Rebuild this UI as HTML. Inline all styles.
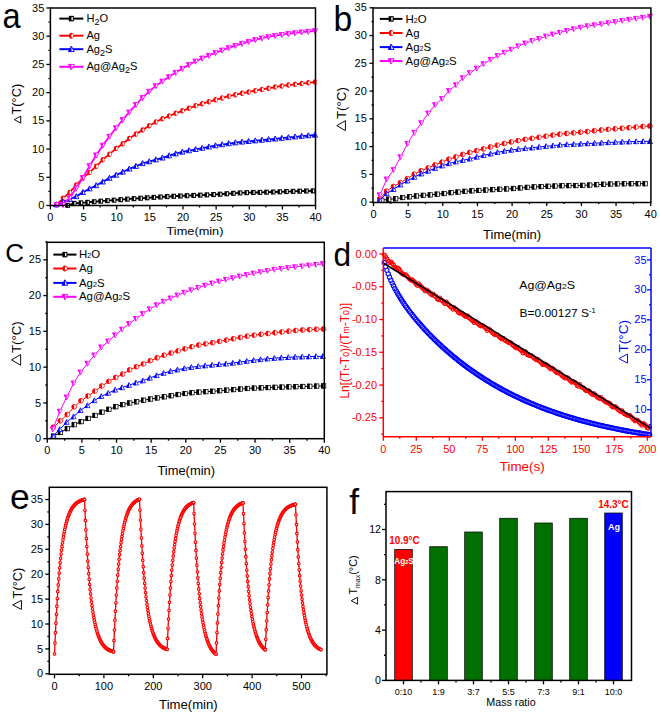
<!DOCTYPE html>
<html><head><meta charset="utf-8"><style>
html,body{margin:0;padding:0;background:#fff;}
svg{display:block;}
text{font-family:"Liberation Sans", sans-serif;}
</style></head><body>
<svg width="660" height="716" viewBox="0 0 660 716" font-family='"Liberation Sans", sans-serif'>
<rect width="660" height="716" fill="#fff"/>
<polyline points="67.64,205.37 74.27,203.40 80.90,202.85 87.53,202.35 94.16,201.75 100.79,201.15 107.42,200.64 114.05,200.17 120.68,199.67 127.31,199.15 133.94,198.69 140.57,198.24 147.20,197.80 153.83,197.38 160.46,196.98 167.09,196.61 173.72,196.27 180.35,195.97 186.98,195.68 193.61,195.41 200.24,195.14 206.87,194.86 213.50,194.55 220.13,194.19 226.76,193.75 233.39,193.29 240.02,192.91 246.65,192.67 253.28,192.50 259.91,192.35 266.54,192.20 273.17,192.01 279.80,191.79 286.43,191.56 293.06,191.35 299.69,191.18 306.32,191.02 312.95,190.88" fill="none" stroke="#000000" stroke-width="1.8" stroke-linejoin="round"/>
<rect x="65.34" y="202.84" width="4.60" height="5.06" fill="#000000"/>
<rect x="67.75" y="203.88" width="1.26" height="2.99" fill="#fff"/>
<rect x="71.97" y="200.87" width="4.60" height="5.06" fill="#000000"/>
<rect x="74.38" y="201.91" width="1.26" height="2.99" fill="#fff"/>
<rect x="78.60" y="200.32" width="4.60" height="5.06" fill="#000000"/>
<rect x="81.01" y="201.35" width="1.26" height="2.99" fill="#fff"/>
<rect x="85.23" y="199.82" width="4.60" height="5.06" fill="#000000"/>
<rect x="87.64" y="200.86" width="1.26" height="2.99" fill="#fff"/>
<rect x="91.86" y="199.22" width="4.60" height="5.06" fill="#000000"/>
<rect x="94.27" y="200.25" width="1.26" height="2.99" fill="#fff"/>
<rect x="98.49" y="198.62" width="4.60" height="5.06" fill="#000000"/>
<rect x="100.90" y="199.65" width="1.26" height="2.99" fill="#fff"/>
<rect x="105.12" y="198.11" width="4.60" height="5.06" fill="#000000"/>
<rect x="107.53" y="199.14" width="1.26" height="2.99" fill="#fff"/>
<rect x="111.75" y="197.64" width="4.60" height="5.06" fill="#000000"/>
<rect x="114.16" y="198.68" width="1.26" height="2.99" fill="#fff"/>
<rect x="118.38" y="197.14" width="4.60" height="5.06" fill="#000000"/>
<rect x="120.79" y="198.17" width="1.26" height="2.99" fill="#fff"/>
<rect x="125.01" y="196.62" width="4.60" height="5.06" fill="#000000"/>
<rect x="127.42" y="197.66" width="1.26" height="2.99" fill="#fff"/>
<rect x="131.64" y="196.16" width="4.60" height="5.06" fill="#000000"/>
<rect x="134.05" y="197.19" width="1.26" height="2.99" fill="#fff"/>
<rect x="138.27" y="195.71" width="4.60" height="5.06" fill="#000000"/>
<rect x="140.68" y="196.74" width="1.26" height="2.99" fill="#fff"/>
<rect x="144.90" y="195.27" width="4.60" height="5.06" fill="#000000"/>
<rect x="147.31" y="196.30" width="1.26" height="2.99" fill="#fff"/>
<rect x="151.53" y="194.85" width="4.60" height="5.06" fill="#000000"/>
<rect x="153.94" y="195.89" width="1.26" height="2.99" fill="#fff"/>
<rect x="158.16" y="194.45" width="4.60" height="5.06" fill="#000000"/>
<rect x="160.57" y="195.49" width="1.26" height="2.99" fill="#fff"/>
<rect x="164.79" y="194.08" width="4.60" height="5.06" fill="#000000"/>
<rect x="167.20" y="195.12" width="1.26" height="2.99" fill="#fff"/>
<rect x="171.42" y="193.74" width="4.60" height="5.06" fill="#000000"/>
<rect x="173.83" y="194.78" width="1.26" height="2.99" fill="#fff"/>
<rect x="178.05" y="193.44" width="4.60" height="5.06" fill="#000000"/>
<rect x="180.46" y="194.47" width="1.26" height="2.99" fill="#fff"/>
<rect x="184.68" y="193.15" width="4.60" height="5.06" fill="#000000"/>
<rect x="187.09" y="194.19" width="1.26" height="2.99" fill="#fff"/>
<rect x="191.31" y="192.88" width="4.60" height="5.06" fill="#000000"/>
<rect x="193.72" y="193.92" width="1.26" height="2.99" fill="#fff"/>
<rect x="197.94" y="192.61" width="4.60" height="5.06" fill="#000000"/>
<rect x="200.35" y="193.65" width="1.26" height="2.99" fill="#fff"/>
<rect x="204.57" y="192.33" width="4.60" height="5.06" fill="#000000"/>
<rect x="206.98" y="193.37" width="1.26" height="2.99" fill="#fff"/>
<rect x="211.20" y="192.02" width="4.60" height="5.06" fill="#000000"/>
<rect x="213.61" y="193.06" width="1.26" height="2.99" fill="#fff"/>
<rect x="217.83" y="191.66" width="4.60" height="5.06" fill="#000000"/>
<rect x="220.24" y="192.70" width="1.26" height="2.99" fill="#fff"/>
<rect x="224.46" y="191.22" width="4.60" height="5.06" fill="#000000"/>
<rect x="226.87" y="192.26" width="1.26" height="2.99" fill="#fff"/>
<rect x="231.09" y="190.76" width="4.60" height="5.06" fill="#000000"/>
<rect x="233.50" y="191.80" width="1.26" height="2.99" fill="#fff"/>
<rect x="237.72" y="190.38" width="4.60" height="5.06" fill="#000000"/>
<rect x="240.13" y="191.42" width="1.26" height="2.99" fill="#fff"/>
<rect x="244.35" y="190.14" width="4.60" height="5.06" fill="#000000"/>
<rect x="246.76" y="191.18" width="1.26" height="2.99" fill="#fff"/>
<rect x="250.98" y="189.97" width="4.60" height="5.06" fill="#000000"/>
<rect x="253.39" y="191.00" width="1.26" height="2.99" fill="#fff"/>
<rect x="257.61" y="189.82" width="4.60" height="5.06" fill="#000000"/>
<rect x="260.02" y="190.86" width="1.26" height="2.99" fill="#fff"/>
<rect x="264.24" y="189.67" width="4.60" height="5.06" fill="#000000"/>
<rect x="266.65" y="190.70" width="1.26" height="2.99" fill="#fff"/>
<rect x="270.87" y="189.48" width="4.60" height="5.06" fill="#000000"/>
<rect x="273.28" y="190.51" width="1.26" height="2.99" fill="#fff"/>
<rect x="277.50" y="189.26" width="4.60" height="5.06" fill="#000000"/>
<rect x="279.91" y="190.29" width="1.26" height="2.99" fill="#fff"/>
<rect x="284.13" y="189.03" width="4.60" height="5.06" fill="#000000"/>
<rect x="286.54" y="190.07" width="1.26" height="2.99" fill="#fff"/>
<rect x="290.76" y="188.82" width="4.60" height="5.06" fill="#000000"/>
<rect x="293.17" y="189.86" width="1.26" height="2.99" fill="#fff"/>
<rect x="297.39" y="188.65" width="4.60" height="5.06" fill="#000000"/>
<rect x="299.80" y="189.68" width="1.26" height="2.99" fill="#fff"/>
<rect x="304.02" y="188.49" width="4.60" height="5.06" fill="#000000"/>
<rect x="306.43" y="189.53" width="1.26" height="2.99" fill="#fff"/>
<rect x="310.65" y="188.35" width="4.60" height="5.06" fill="#000000"/>
<rect x="313.06" y="189.38" width="1.26" height="2.99" fill="#fff"/>
<polyline points="56.37,204.80 63.00,198.32 69.63,192.39 76.26,185.04 82.89,178.13 89.52,172.40 96.15,166.29 102.78,159.84 109.41,154.14 116.04,148.59 122.67,143.70 129.30,138.55 135.93,134.12 142.56,130.02 149.19,125.78 155.82,121.93 162.45,118.81 169.08,116.00 175.71,113.35 182.34,110.83 188.97,108.28 195.60,105.85 202.23,103.69 208.86,101.70 215.49,99.77 222.12,97.90 228.75,96.19 235.38,94.70 242.01,93.34 248.64,91.98 255.27,90.67 261.90,89.43 268.53,88.25 275.16,87.06 281.79,85.97 288.42,85.10 295.05,84.34 301.68,83.55 308.31,82.77 314.94,82.00" fill="none" stroke="#ff0000" stroke-width="1.8" stroke-linejoin="round"/>
<ellipse cx="56.37" cy="204.80" rx="2.18" ry="2.76" fill="#ff0000"/>
<ellipse cx="57.23" cy="204.80" rx="0.92" ry="1.84" fill="#fff"/>
<ellipse cx="63.00" cy="198.32" rx="2.18" ry="2.76" fill="#ff0000"/>
<ellipse cx="63.86" cy="198.32" rx="0.92" ry="1.84" fill="#fff"/>
<ellipse cx="69.63" cy="192.39" rx="2.18" ry="2.76" fill="#ff0000"/>
<ellipse cx="70.49" cy="192.39" rx="0.92" ry="1.84" fill="#fff"/>
<ellipse cx="76.26" cy="185.04" rx="2.18" ry="2.76" fill="#ff0000"/>
<ellipse cx="77.12" cy="185.04" rx="0.92" ry="1.84" fill="#fff"/>
<ellipse cx="82.89" cy="178.13" rx="2.18" ry="2.76" fill="#ff0000"/>
<ellipse cx="83.75" cy="178.13" rx="0.92" ry="1.84" fill="#fff"/>
<ellipse cx="89.52" cy="172.40" rx="2.18" ry="2.76" fill="#ff0000"/>
<ellipse cx="90.38" cy="172.40" rx="0.92" ry="1.84" fill="#fff"/>
<ellipse cx="96.15" cy="166.29" rx="2.18" ry="2.76" fill="#ff0000"/>
<ellipse cx="97.01" cy="166.29" rx="0.92" ry="1.84" fill="#fff"/>
<ellipse cx="102.78" cy="159.84" rx="2.18" ry="2.76" fill="#ff0000"/>
<ellipse cx="103.64" cy="159.84" rx="0.92" ry="1.84" fill="#fff"/>
<ellipse cx="109.41" cy="154.14" rx="2.18" ry="2.76" fill="#ff0000"/>
<ellipse cx="110.27" cy="154.14" rx="0.92" ry="1.84" fill="#fff"/>
<ellipse cx="116.04" cy="148.59" rx="2.18" ry="2.76" fill="#ff0000"/>
<ellipse cx="116.90" cy="148.59" rx="0.92" ry="1.84" fill="#fff"/>
<ellipse cx="122.67" cy="143.70" rx="2.18" ry="2.76" fill="#ff0000"/>
<ellipse cx="123.53" cy="143.70" rx="0.92" ry="1.84" fill="#fff"/>
<ellipse cx="129.30" cy="138.55" rx="2.18" ry="2.76" fill="#ff0000"/>
<ellipse cx="130.16" cy="138.55" rx="0.92" ry="1.84" fill="#fff"/>
<ellipse cx="135.93" cy="134.12" rx="2.18" ry="2.76" fill="#ff0000"/>
<ellipse cx="136.79" cy="134.12" rx="0.92" ry="1.84" fill="#fff"/>
<ellipse cx="142.56" cy="130.02" rx="2.18" ry="2.76" fill="#ff0000"/>
<ellipse cx="143.42" cy="130.02" rx="0.92" ry="1.84" fill="#fff"/>
<ellipse cx="149.19" cy="125.78" rx="2.18" ry="2.76" fill="#ff0000"/>
<ellipse cx="150.05" cy="125.78" rx="0.92" ry="1.84" fill="#fff"/>
<ellipse cx="155.82" cy="121.93" rx="2.18" ry="2.76" fill="#ff0000"/>
<ellipse cx="156.68" cy="121.93" rx="0.92" ry="1.84" fill="#fff"/>
<ellipse cx="162.45" cy="118.81" rx="2.18" ry="2.76" fill="#ff0000"/>
<ellipse cx="163.31" cy="118.81" rx="0.92" ry="1.84" fill="#fff"/>
<ellipse cx="169.08" cy="116.00" rx="2.18" ry="2.76" fill="#ff0000"/>
<ellipse cx="169.94" cy="116.00" rx="0.92" ry="1.84" fill="#fff"/>
<ellipse cx="175.71" cy="113.35" rx="2.18" ry="2.76" fill="#ff0000"/>
<ellipse cx="176.57" cy="113.35" rx="0.92" ry="1.84" fill="#fff"/>
<ellipse cx="182.34" cy="110.83" rx="2.18" ry="2.76" fill="#ff0000"/>
<ellipse cx="183.20" cy="110.83" rx="0.92" ry="1.84" fill="#fff"/>
<ellipse cx="188.97" cy="108.28" rx="2.18" ry="2.76" fill="#ff0000"/>
<ellipse cx="189.83" cy="108.28" rx="0.92" ry="1.84" fill="#fff"/>
<ellipse cx="195.60" cy="105.85" rx="2.18" ry="2.76" fill="#ff0000"/>
<ellipse cx="196.46" cy="105.85" rx="0.92" ry="1.84" fill="#fff"/>
<ellipse cx="202.23" cy="103.69" rx="2.18" ry="2.76" fill="#ff0000"/>
<ellipse cx="203.09" cy="103.69" rx="0.92" ry="1.84" fill="#fff"/>
<ellipse cx="208.86" cy="101.70" rx="2.18" ry="2.76" fill="#ff0000"/>
<ellipse cx="209.72" cy="101.70" rx="0.92" ry="1.84" fill="#fff"/>
<ellipse cx="215.49" cy="99.77" rx="2.18" ry="2.76" fill="#ff0000"/>
<ellipse cx="216.35" cy="99.77" rx="0.92" ry="1.84" fill="#fff"/>
<ellipse cx="222.12" cy="97.90" rx="2.18" ry="2.76" fill="#ff0000"/>
<ellipse cx="222.98" cy="97.90" rx="0.92" ry="1.84" fill="#fff"/>
<ellipse cx="228.75" cy="96.19" rx="2.18" ry="2.76" fill="#ff0000"/>
<ellipse cx="229.61" cy="96.19" rx="0.92" ry="1.84" fill="#fff"/>
<ellipse cx="235.38" cy="94.70" rx="2.18" ry="2.76" fill="#ff0000"/>
<ellipse cx="236.24" cy="94.70" rx="0.92" ry="1.84" fill="#fff"/>
<ellipse cx="242.01" cy="93.34" rx="2.18" ry="2.76" fill="#ff0000"/>
<ellipse cx="242.87" cy="93.34" rx="0.92" ry="1.84" fill="#fff"/>
<ellipse cx="248.64" cy="91.98" rx="2.18" ry="2.76" fill="#ff0000"/>
<ellipse cx="249.50" cy="91.98" rx="0.92" ry="1.84" fill="#fff"/>
<ellipse cx="255.27" cy="90.67" rx="2.18" ry="2.76" fill="#ff0000"/>
<ellipse cx="256.13" cy="90.67" rx="0.92" ry="1.84" fill="#fff"/>
<ellipse cx="261.90" cy="89.43" rx="2.18" ry="2.76" fill="#ff0000"/>
<ellipse cx="262.76" cy="89.43" rx="0.92" ry="1.84" fill="#fff"/>
<ellipse cx="268.53" cy="88.25" rx="2.18" ry="2.76" fill="#ff0000"/>
<ellipse cx="269.39" cy="88.25" rx="0.92" ry="1.84" fill="#fff"/>
<ellipse cx="275.16" cy="87.06" rx="2.18" ry="2.76" fill="#ff0000"/>
<ellipse cx="276.02" cy="87.06" rx="0.92" ry="1.84" fill="#fff"/>
<ellipse cx="281.79" cy="85.97" rx="2.18" ry="2.76" fill="#ff0000"/>
<ellipse cx="282.65" cy="85.97" rx="0.92" ry="1.84" fill="#fff"/>
<ellipse cx="288.42" cy="85.10" rx="2.18" ry="2.76" fill="#ff0000"/>
<ellipse cx="289.28" cy="85.10" rx="0.92" ry="1.84" fill="#fff"/>
<ellipse cx="295.05" cy="84.34" rx="2.18" ry="2.76" fill="#ff0000"/>
<ellipse cx="295.91" cy="84.34" rx="0.92" ry="1.84" fill="#fff"/>
<ellipse cx="301.68" cy="83.55" rx="2.18" ry="2.76" fill="#ff0000"/>
<ellipse cx="302.54" cy="83.55" rx="0.92" ry="1.84" fill="#fff"/>
<ellipse cx="308.31" cy="82.77" rx="2.18" ry="2.76" fill="#ff0000"/>
<ellipse cx="309.17" cy="82.77" rx="0.92" ry="1.84" fill="#fff"/>
<ellipse cx="314.94" cy="82.00" rx="2.18" ry="2.76" fill="#ff0000"/>
<ellipse cx="315.80" cy="82.00" rx="0.92" ry="1.84" fill="#fff"/>
<polyline points="56.37,204.64 63.00,201.82 69.63,199.28 76.26,196.47 82.89,192.29 89.52,188.71 96.15,185.54 102.78,181.81 109.41,178.16 116.04,175.06 122.67,171.95 129.30,168.88 135.93,166.23 142.56,163.41 149.19,161.61 155.82,159.70 162.45,157.90 169.08,155.71 175.71,153.72 182.34,151.97 188.97,150.56 195.60,149.31 202.23,148.04 208.86,146.79 215.49,145.62 222.12,144.55 228.75,143.54 235.38,142.66 242.01,141.94 248.64,141.31 255.27,140.70 261.90,140.09 268.53,139.49 275.16,138.87 281.79,138.19 288.42,137.47 295.05,136.79 301.68,136.16 308.31,135.57 314.94,135.02" fill="none" stroke="#0000ff" stroke-width="1.8" stroke-linejoin="round"/>
<path d="M56.37,201.76 L59.01,206.82 L53.72,206.82 Z" fill="#fff" stroke="#0000ff" stroke-width="0.86" stroke-linejoin="round"/>
<path d="M56.37,201.76 L56.54,206.82 L53.72,206.82 Z" fill="#0000ff"/>
<path d="M63.00,198.94 L65.64,204.00 L60.35,204.00 Z" fill="#fff" stroke="#0000ff" stroke-width="0.86" stroke-linejoin="round"/>
<path d="M63.00,198.94 L63.17,204.00 L60.35,204.00 Z" fill="#0000ff"/>
<path d="M69.63,196.40 L72.27,201.46 L66.98,201.46 Z" fill="#fff" stroke="#0000ff" stroke-width="0.86" stroke-linejoin="round"/>
<path d="M69.63,196.40 L69.80,201.46 L66.98,201.46 Z" fill="#0000ff"/>
<path d="M76.26,193.60 L78.90,198.66 L73.61,198.66 Z" fill="#fff" stroke="#0000ff" stroke-width="0.86" stroke-linejoin="round"/>
<path d="M76.26,193.60 L76.43,198.66 L73.61,198.66 Z" fill="#0000ff"/>
<path d="M82.89,189.41 L85.53,194.47 L80.24,194.47 Z" fill="#fff" stroke="#0000ff" stroke-width="0.86" stroke-linejoin="round"/>
<path d="M82.89,189.41 L83.06,194.47 L80.24,194.47 Z" fill="#0000ff"/>
<path d="M89.52,185.84 L92.16,190.90 L86.87,190.90 Z" fill="#fff" stroke="#0000ff" stroke-width="0.86" stroke-linejoin="round"/>
<path d="M89.52,185.84 L89.69,190.90 L86.87,190.90 Z" fill="#0000ff"/>
<path d="M96.15,182.67 L98.79,187.73 L93.50,187.73 Z" fill="#fff" stroke="#0000ff" stroke-width="0.86" stroke-linejoin="round"/>
<path d="M96.15,182.67 L96.32,187.73 L93.50,187.73 Z" fill="#0000ff"/>
<path d="M102.78,178.93 L105.42,183.99 L100.13,183.99 Z" fill="#fff" stroke="#0000ff" stroke-width="0.86" stroke-linejoin="round"/>
<path d="M102.78,178.93 L102.95,183.99 L100.13,183.99 Z" fill="#0000ff"/>
<path d="M109.41,175.28 L112.05,180.34 L106.76,180.34 Z" fill="#fff" stroke="#0000ff" stroke-width="0.86" stroke-linejoin="round"/>
<path d="M109.41,175.28 L109.58,180.34 L106.76,180.34 Z" fill="#0000ff"/>
<path d="M116.04,172.19 L118.68,177.25 L113.39,177.25 Z" fill="#fff" stroke="#0000ff" stroke-width="0.86" stroke-linejoin="round"/>
<path d="M116.04,172.19 L116.21,177.25 L113.39,177.25 Z" fill="#0000ff"/>
<path d="M122.67,169.08 L125.31,174.14 L120.02,174.14 Z" fill="#fff" stroke="#0000ff" stroke-width="0.86" stroke-linejoin="round"/>
<path d="M122.67,169.08 L122.84,174.14 L120.02,174.14 Z" fill="#0000ff"/>
<path d="M129.30,166.01 L131.94,171.07 L126.65,171.07 Z" fill="#fff" stroke="#0000ff" stroke-width="0.86" stroke-linejoin="round"/>
<path d="M129.30,166.01 L129.47,171.07 L126.65,171.07 Z" fill="#0000ff"/>
<path d="M135.93,163.36 L138.57,168.42 L133.28,168.42 Z" fill="#fff" stroke="#0000ff" stroke-width="0.86" stroke-linejoin="round"/>
<path d="M135.93,163.36 L136.10,168.42 L133.28,168.42 Z" fill="#0000ff"/>
<path d="M142.56,160.53 L145.20,165.59 L139.91,165.59 Z" fill="#fff" stroke="#0000ff" stroke-width="0.86" stroke-linejoin="round"/>
<path d="M142.56,160.53 L142.73,165.59 L139.91,165.59 Z" fill="#0000ff"/>
<path d="M149.19,158.73 L151.83,163.79 L146.54,163.79 Z" fill="#fff" stroke="#0000ff" stroke-width="0.86" stroke-linejoin="round"/>
<path d="M149.19,158.73 L149.36,163.79 L146.54,163.79 Z" fill="#0000ff"/>
<path d="M155.82,156.82 L158.46,161.88 L153.17,161.88 Z" fill="#fff" stroke="#0000ff" stroke-width="0.86" stroke-linejoin="round"/>
<path d="M155.82,156.82 L155.99,161.88 L153.17,161.88 Z" fill="#0000ff"/>
<path d="M162.45,155.02 L165.09,160.08 L159.80,160.08 Z" fill="#fff" stroke="#0000ff" stroke-width="0.86" stroke-linejoin="round"/>
<path d="M162.45,155.02 L162.62,160.08 L159.80,160.08 Z" fill="#0000ff"/>
<path d="M169.08,152.84 L171.72,157.90 L166.43,157.90 Z" fill="#fff" stroke="#0000ff" stroke-width="0.86" stroke-linejoin="round"/>
<path d="M169.08,152.84 L169.25,157.90 L166.43,157.90 Z" fill="#0000ff"/>
<path d="M175.71,150.85 L178.35,155.91 L173.06,155.91 Z" fill="#fff" stroke="#0000ff" stroke-width="0.86" stroke-linejoin="round"/>
<path d="M175.71,150.85 L175.88,155.91 L173.06,155.91 Z" fill="#0000ff"/>
<path d="M182.34,149.10 L184.98,154.16 L179.69,154.16 Z" fill="#fff" stroke="#0000ff" stroke-width="0.86" stroke-linejoin="round"/>
<path d="M182.34,149.10 L182.51,154.16 L179.69,154.16 Z" fill="#0000ff"/>
<path d="M188.97,147.69 L191.61,152.75 L186.32,152.75 Z" fill="#fff" stroke="#0000ff" stroke-width="0.86" stroke-linejoin="round"/>
<path d="M188.97,147.69 L189.14,152.75 L186.32,152.75 Z" fill="#0000ff"/>
<path d="M195.60,146.44 L198.24,151.50 L192.95,151.50 Z" fill="#fff" stroke="#0000ff" stroke-width="0.86" stroke-linejoin="round"/>
<path d="M195.60,146.44 L195.77,151.50 L192.95,151.50 Z" fill="#0000ff"/>
<path d="M202.23,145.16 L204.87,150.22 L199.58,150.22 Z" fill="#fff" stroke="#0000ff" stroke-width="0.86" stroke-linejoin="round"/>
<path d="M202.23,145.16 L202.40,150.22 L199.58,150.22 Z" fill="#0000ff"/>
<path d="M208.86,143.91 L211.50,148.97 L206.21,148.97 Z" fill="#fff" stroke="#0000ff" stroke-width="0.86" stroke-linejoin="round"/>
<path d="M208.86,143.91 L209.03,148.97 L206.21,148.97 Z" fill="#0000ff"/>
<path d="M215.49,142.75 L218.13,147.81 L212.84,147.81 Z" fill="#fff" stroke="#0000ff" stroke-width="0.86" stroke-linejoin="round"/>
<path d="M215.49,142.75 L215.66,147.81 L212.84,147.81 Z" fill="#0000ff"/>
<path d="M222.12,141.67 L224.76,146.73 L219.47,146.73 Z" fill="#fff" stroke="#0000ff" stroke-width="0.86" stroke-linejoin="round"/>
<path d="M222.12,141.67 L222.29,146.73 L219.47,146.73 Z" fill="#0000ff"/>
<path d="M228.75,140.67 L231.39,145.73 L226.10,145.73 Z" fill="#fff" stroke="#0000ff" stroke-width="0.86" stroke-linejoin="round"/>
<path d="M228.75,140.67 L228.92,145.73 L226.10,145.73 Z" fill="#0000ff"/>
<path d="M235.38,139.79 L238.02,144.85 L232.73,144.85 Z" fill="#fff" stroke="#0000ff" stroke-width="0.86" stroke-linejoin="round"/>
<path d="M235.38,139.79 L235.55,144.85 L232.73,144.85 Z" fill="#0000ff"/>
<path d="M242.01,139.06 L244.65,144.12 L239.36,144.12 Z" fill="#fff" stroke="#0000ff" stroke-width="0.86" stroke-linejoin="round"/>
<path d="M242.01,139.06 L242.18,144.12 L239.36,144.12 Z" fill="#0000ff"/>
<path d="M248.64,138.43 L251.28,143.49 L245.99,143.49 Z" fill="#fff" stroke="#0000ff" stroke-width="0.86" stroke-linejoin="round"/>
<path d="M248.64,138.43 L248.81,143.49 L245.99,143.49 Z" fill="#0000ff"/>
<path d="M255.27,137.83 L257.91,142.89 L252.62,142.89 Z" fill="#fff" stroke="#0000ff" stroke-width="0.86" stroke-linejoin="round"/>
<path d="M255.27,137.83 L255.44,142.89 L252.62,142.89 Z" fill="#0000ff"/>
<path d="M261.90,137.21 L264.54,142.27 L259.25,142.27 Z" fill="#fff" stroke="#0000ff" stroke-width="0.86" stroke-linejoin="round"/>
<path d="M261.90,137.21 L262.07,142.27 L259.25,142.27 Z" fill="#0000ff"/>
<path d="M268.53,136.61 L271.17,141.67 L265.88,141.67 Z" fill="#fff" stroke="#0000ff" stroke-width="0.86" stroke-linejoin="round"/>
<path d="M268.53,136.61 L268.70,141.67 L265.88,141.67 Z" fill="#0000ff"/>
<path d="M275.16,135.99 L277.80,141.05 L272.51,141.05 Z" fill="#fff" stroke="#0000ff" stroke-width="0.86" stroke-linejoin="round"/>
<path d="M275.16,135.99 L275.33,141.05 L272.51,141.05 Z" fill="#0000ff"/>
<path d="M281.79,135.31 L284.43,140.37 L279.14,140.37 Z" fill="#fff" stroke="#0000ff" stroke-width="0.86" stroke-linejoin="round"/>
<path d="M281.79,135.31 L281.96,140.37 L279.14,140.37 Z" fill="#0000ff"/>
<path d="M288.42,134.60 L291.06,139.66 L285.77,139.66 Z" fill="#fff" stroke="#0000ff" stroke-width="0.86" stroke-linejoin="round"/>
<path d="M288.42,134.60 L288.59,139.66 L285.77,139.66 Z" fill="#0000ff"/>
<path d="M295.05,133.91 L297.69,138.97 L292.40,138.97 Z" fill="#fff" stroke="#0000ff" stroke-width="0.86" stroke-linejoin="round"/>
<path d="M295.05,133.91 L295.22,138.97 L292.40,138.97 Z" fill="#0000ff"/>
<path d="M301.68,133.29 L304.32,138.35 L299.03,138.35 Z" fill="#fff" stroke="#0000ff" stroke-width="0.86" stroke-linejoin="round"/>
<path d="M301.68,133.29 L301.85,138.35 L299.03,138.35 Z" fill="#0000ff"/>
<path d="M308.31,132.70 L310.95,137.76 L305.66,137.76 Z" fill="#fff" stroke="#0000ff" stroke-width="0.86" stroke-linejoin="round"/>
<path d="M308.31,132.70 L308.48,137.76 L305.66,137.76 Z" fill="#0000ff"/>
<path d="M314.94,132.14 L317.58,137.20 L312.29,137.20 Z" fill="#fff" stroke="#0000ff" stroke-width="0.86" stroke-linejoin="round"/>
<path d="M314.94,132.14 L315.11,137.20 L312.29,137.20 Z" fill="#0000ff"/>
<polyline points="56.37,204.94 63.00,204.65 69.63,197.88 76.26,188.32 82.89,177.73 89.52,165.94 96.15,155.19 102.78,145.41 109.41,136.48 116.04,127.94 122.67,119.73 129.30,112.20 135.93,104.75 142.56,97.72 149.19,91.46 155.82,85.92 162.45,81.20 169.08,76.84 175.71,72.60 182.34,68.57 188.97,64.75 195.60,61.29 202.23,58.27 208.86,55.50 215.49,52.84 222.12,50.25 228.75,47.83 235.38,45.61 242.01,43.55 248.64,41.60 255.27,39.77 261.90,38.19 268.53,36.88 275.16,35.73 281.79,34.71 288.42,33.78 295.05,32.95 301.68,32.19 308.31,31.51 314.94,30.91" fill="none" stroke="#ff00ff" stroke-width="1.8" stroke-linejoin="round"/>
<path d="M56.37,207.81 L59.01,202.75 L53.72,202.75 Z" fill="#fff" stroke="#ff00ff" stroke-width="0.86" stroke-linejoin="round"/>
<path d="M56.37,207.81 L56.54,202.75 L53.72,202.75 Z" fill="#ff00ff"/>
<path d="M63.00,207.53 L65.64,202.47 L60.35,202.47 Z" fill="#fff" stroke="#ff00ff" stroke-width="0.86" stroke-linejoin="round"/>
<path d="M63.00,207.53 L63.17,202.47 L60.35,202.47 Z" fill="#ff00ff"/>
<path d="M69.63,200.76 L72.27,195.70 L66.98,195.70 Z" fill="#fff" stroke="#ff00ff" stroke-width="0.86" stroke-linejoin="round"/>
<path d="M69.63,200.76 L69.80,195.70 L66.98,195.70 Z" fill="#ff00ff"/>
<path d="M76.26,191.20 L78.90,186.14 L73.61,186.14 Z" fill="#fff" stroke="#ff00ff" stroke-width="0.86" stroke-linejoin="round"/>
<path d="M76.26,191.20 L76.43,186.14 L73.61,186.14 Z" fill="#ff00ff"/>
<path d="M82.89,180.60 L85.53,175.54 L80.24,175.54 Z" fill="#fff" stroke="#ff00ff" stroke-width="0.86" stroke-linejoin="round"/>
<path d="M82.89,180.60 L83.06,175.54 L80.24,175.54 Z" fill="#ff00ff"/>
<path d="M89.52,168.82 L92.16,163.76 L86.87,163.76 Z" fill="#fff" stroke="#ff00ff" stroke-width="0.86" stroke-linejoin="round"/>
<path d="M89.52,168.82 L89.69,163.76 L86.87,163.76 Z" fill="#ff00ff"/>
<path d="M96.15,158.06 L98.79,153.00 L93.50,153.00 Z" fill="#fff" stroke="#ff00ff" stroke-width="0.86" stroke-linejoin="round"/>
<path d="M96.15,158.06 L96.32,153.00 L93.50,153.00 Z" fill="#ff00ff"/>
<path d="M102.78,148.28 L105.42,143.22 L100.13,143.22 Z" fill="#fff" stroke="#ff00ff" stroke-width="0.86" stroke-linejoin="round"/>
<path d="M102.78,148.28 L102.95,143.22 L100.13,143.22 Z" fill="#ff00ff"/>
<path d="M109.41,139.36 L112.05,134.30 L106.76,134.30 Z" fill="#fff" stroke="#ff00ff" stroke-width="0.86" stroke-linejoin="round"/>
<path d="M109.41,139.36 L109.58,134.30 L106.76,134.30 Z" fill="#ff00ff"/>
<path d="M116.04,130.82 L118.68,125.76 L113.39,125.76 Z" fill="#fff" stroke="#ff00ff" stroke-width="0.86" stroke-linejoin="round"/>
<path d="M116.04,130.82 L116.21,125.76 L113.39,125.76 Z" fill="#ff00ff"/>
<path d="M122.67,122.60 L125.31,117.54 L120.02,117.54 Z" fill="#fff" stroke="#ff00ff" stroke-width="0.86" stroke-linejoin="round"/>
<path d="M122.67,122.60 L122.84,117.54 L120.02,117.54 Z" fill="#ff00ff"/>
<path d="M129.30,115.07 L131.94,110.01 L126.65,110.01 Z" fill="#fff" stroke="#ff00ff" stroke-width="0.86" stroke-linejoin="round"/>
<path d="M129.30,115.07 L129.47,110.01 L126.65,110.01 Z" fill="#ff00ff"/>
<path d="M135.93,107.62 L138.57,102.56 L133.28,102.56 Z" fill="#fff" stroke="#ff00ff" stroke-width="0.86" stroke-linejoin="round"/>
<path d="M135.93,107.62 L136.10,102.56 L133.28,102.56 Z" fill="#ff00ff"/>
<path d="M142.56,100.60 L145.20,95.54 L139.91,95.54 Z" fill="#fff" stroke="#ff00ff" stroke-width="0.86" stroke-linejoin="round"/>
<path d="M142.56,100.60 L142.73,95.54 L139.91,95.54 Z" fill="#ff00ff"/>
<path d="M149.19,94.34 L151.83,89.28 L146.54,89.28 Z" fill="#fff" stroke="#ff00ff" stroke-width="0.86" stroke-linejoin="round"/>
<path d="M149.19,94.34 L149.36,89.28 L146.54,89.28 Z" fill="#ff00ff"/>
<path d="M155.82,88.80 L158.46,83.74 L153.17,83.74 Z" fill="#fff" stroke="#ff00ff" stroke-width="0.86" stroke-linejoin="round"/>
<path d="M155.82,88.80 L155.99,83.74 L153.17,83.74 Z" fill="#ff00ff"/>
<path d="M162.45,84.07 L165.09,79.01 L159.80,79.01 Z" fill="#fff" stroke="#ff00ff" stroke-width="0.86" stroke-linejoin="round"/>
<path d="M162.45,84.07 L162.62,79.01 L159.80,79.01 Z" fill="#ff00ff"/>
<path d="M169.08,79.72 L171.72,74.66 L166.43,74.66 Z" fill="#fff" stroke="#ff00ff" stroke-width="0.86" stroke-linejoin="round"/>
<path d="M169.08,79.72 L169.25,74.66 L166.43,74.66 Z" fill="#ff00ff"/>
<path d="M175.71,75.47 L178.35,70.41 L173.06,70.41 Z" fill="#fff" stroke="#ff00ff" stroke-width="0.86" stroke-linejoin="round"/>
<path d="M175.71,75.47 L175.88,70.41 L173.06,70.41 Z" fill="#ff00ff"/>
<path d="M182.34,71.45 L184.98,66.39 L179.69,66.39 Z" fill="#fff" stroke="#ff00ff" stroke-width="0.86" stroke-linejoin="round"/>
<path d="M182.34,71.45 L182.51,66.39 L179.69,66.39 Z" fill="#ff00ff"/>
<path d="M188.97,67.62 L191.61,62.56 L186.32,62.56 Z" fill="#fff" stroke="#ff00ff" stroke-width="0.86" stroke-linejoin="round"/>
<path d="M188.97,67.62 L189.14,62.56 L186.32,62.56 Z" fill="#ff00ff"/>
<path d="M195.60,64.16 L198.24,59.10 L192.95,59.10 Z" fill="#fff" stroke="#ff00ff" stroke-width="0.86" stroke-linejoin="round"/>
<path d="M195.60,64.16 L195.77,59.10 L192.95,59.10 Z" fill="#ff00ff"/>
<path d="M202.23,61.14 L204.87,56.08 L199.58,56.08 Z" fill="#fff" stroke="#ff00ff" stroke-width="0.86" stroke-linejoin="round"/>
<path d="M202.23,61.14 L202.40,56.08 L199.58,56.08 Z" fill="#ff00ff"/>
<path d="M208.86,58.37 L211.50,53.31 L206.21,53.31 Z" fill="#fff" stroke="#ff00ff" stroke-width="0.86" stroke-linejoin="round"/>
<path d="M208.86,58.37 L209.03,53.31 L206.21,53.31 Z" fill="#ff00ff"/>
<path d="M215.49,55.72 L218.13,50.66 L212.84,50.66 Z" fill="#fff" stroke="#ff00ff" stroke-width="0.86" stroke-linejoin="round"/>
<path d="M215.49,55.72 L215.66,50.66 L212.84,50.66 Z" fill="#ff00ff"/>
<path d="M222.12,53.12 L224.76,48.06 L219.47,48.06 Z" fill="#fff" stroke="#ff00ff" stroke-width="0.86" stroke-linejoin="round"/>
<path d="M222.12,53.12 L222.29,48.06 L219.47,48.06 Z" fill="#ff00ff"/>
<path d="M228.75,50.71 L231.39,45.65 L226.10,45.65 Z" fill="#fff" stroke="#ff00ff" stroke-width="0.86" stroke-linejoin="round"/>
<path d="M228.75,50.71 L228.92,45.65 L226.10,45.65 Z" fill="#ff00ff"/>
<path d="M235.38,48.48 L238.02,43.42 L232.73,43.42 Z" fill="#fff" stroke="#ff00ff" stroke-width="0.86" stroke-linejoin="round"/>
<path d="M235.38,48.48 L235.55,43.42 L232.73,43.42 Z" fill="#ff00ff"/>
<path d="M242.01,46.43 L244.65,41.37 L239.36,41.37 Z" fill="#fff" stroke="#ff00ff" stroke-width="0.86" stroke-linejoin="round"/>
<path d="M242.01,46.43 L242.18,41.37 L239.36,41.37 Z" fill="#ff00ff"/>
<path d="M248.64,44.48 L251.28,39.42 L245.99,39.42 Z" fill="#fff" stroke="#ff00ff" stroke-width="0.86" stroke-linejoin="round"/>
<path d="M248.64,44.48 L248.81,39.42 L245.99,39.42 Z" fill="#ff00ff"/>
<path d="M255.27,42.64 L257.91,37.58 L252.62,37.58 Z" fill="#fff" stroke="#ff00ff" stroke-width="0.86" stroke-linejoin="round"/>
<path d="M255.27,42.64 L255.44,37.58 L252.62,37.58 Z" fill="#ff00ff"/>
<path d="M261.90,41.06 L264.54,36.00 L259.25,36.00 Z" fill="#fff" stroke="#ff00ff" stroke-width="0.86" stroke-linejoin="round"/>
<path d="M261.90,41.06 L262.07,36.00 L259.25,36.00 Z" fill="#ff00ff"/>
<path d="M268.53,39.75 L271.17,34.69 L265.88,34.69 Z" fill="#fff" stroke="#ff00ff" stroke-width="0.86" stroke-linejoin="round"/>
<path d="M268.53,39.75 L268.70,34.69 L265.88,34.69 Z" fill="#ff00ff"/>
<path d="M275.16,38.60 L277.80,33.54 L272.51,33.54 Z" fill="#fff" stroke="#ff00ff" stroke-width="0.86" stroke-linejoin="round"/>
<path d="M275.16,38.60 L275.33,33.54 L272.51,33.54 Z" fill="#ff00ff"/>
<path d="M281.79,37.58 L284.43,32.52 L279.14,32.52 Z" fill="#fff" stroke="#ff00ff" stroke-width="0.86" stroke-linejoin="round"/>
<path d="M281.79,37.58 L281.96,32.52 L279.14,32.52 Z" fill="#ff00ff"/>
<path d="M288.42,36.66 L291.06,31.60 L285.77,31.60 Z" fill="#fff" stroke="#ff00ff" stroke-width="0.86" stroke-linejoin="round"/>
<path d="M288.42,36.66 L288.59,31.60 L285.77,31.60 Z" fill="#ff00ff"/>
<path d="M295.05,35.82 L297.69,30.76 L292.40,30.76 Z" fill="#fff" stroke="#ff00ff" stroke-width="0.86" stroke-linejoin="round"/>
<path d="M295.05,35.82 L295.22,30.76 L292.40,30.76 Z" fill="#ff00ff"/>
<path d="M301.68,35.07 L304.32,30.01 L299.03,30.01 Z" fill="#fff" stroke="#ff00ff" stroke-width="0.86" stroke-linejoin="round"/>
<path d="M301.68,35.07 L301.85,30.01 L299.03,30.01 Z" fill="#ff00ff"/>
<path d="M308.31,34.39 L310.95,29.33 L305.66,29.33 Z" fill="#fff" stroke="#ff00ff" stroke-width="0.86" stroke-linejoin="round"/>
<path d="M308.31,34.39 L308.48,29.33 L305.66,29.33 Z" fill="#ff00ff"/>
<path d="M314.94,33.78 L317.58,28.72 L312.29,28.72 Z" fill="#fff" stroke="#ff00ff" stroke-width="0.86" stroke-linejoin="round"/>
<path d="M314.94,33.78 L315.11,28.72 L312.29,28.72 Z" fill="#ff00ff"/>
<rect x="50.40" y="8.00" width="265.10" height="197.50" fill="none" stroke="#000" stroke-width="1.5"/>
<line x1="46.40" y1="205.50" x2="50.40" y2="205.50" stroke="#000" stroke-width="1.3"/>
<line x1="46.40" y1="177.29" x2="50.40" y2="177.29" stroke="#000" stroke-width="1.3"/>
<line x1="46.40" y1="149.07" x2="50.40" y2="149.07" stroke="#000" stroke-width="1.3"/>
<line x1="46.40" y1="120.86" x2="50.40" y2="120.86" stroke="#000" stroke-width="1.3"/>
<line x1="46.40" y1="92.64" x2="50.40" y2="92.64" stroke="#000" stroke-width="1.3"/>
<line x1="46.40" y1="64.43" x2="50.40" y2="64.43" stroke="#000" stroke-width="1.3"/>
<line x1="46.40" y1="36.21" x2="50.40" y2="36.21" stroke="#000" stroke-width="1.3"/>
<line x1="46.40" y1="8.00" x2="50.40" y2="8.00" stroke="#000" stroke-width="1.3"/>
<line x1="48.40" y1="191.39" x2="50.40" y2="191.39" stroke="#000" stroke-width="1.3"/>
<line x1="48.40" y1="163.18" x2="50.40" y2="163.18" stroke="#000" stroke-width="1.3"/>
<line x1="48.40" y1="134.96" x2="50.40" y2="134.96" stroke="#000" stroke-width="1.3"/>
<line x1="48.40" y1="106.75" x2="50.40" y2="106.75" stroke="#000" stroke-width="1.3"/>
<line x1="48.40" y1="78.54" x2="50.40" y2="78.54" stroke="#000" stroke-width="1.3"/>
<line x1="48.40" y1="50.32" x2="50.40" y2="50.32" stroke="#000" stroke-width="1.3"/>
<line x1="48.40" y1="22.11" x2="50.40" y2="22.11" stroke="#000" stroke-width="1.3"/>
<text transform="translate(44.30,209.10) scale(1.1,1)" font-size="10" text-anchor="end" fill="#000">0</text>
<text transform="translate(44.30,180.89) scale(1.1,1)" font-size="10" text-anchor="end" fill="#000">5</text>
<text transform="translate(44.30,152.67) scale(1.1,1)" font-size="10" text-anchor="end" fill="#000">10</text>
<text transform="translate(44.30,124.46) scale(1.1,1)" font-size="10" text-anchor="end" fill="#000">15</text>
<text transform="translate(44.30,96.24) scale(1.1,1)" font-size="10" text-anchor="end" fill="#000">20</text>
<text transform="translate(44.30,68.03) scale(1.1,1)" font-size="10" text-anchor="end" fill="#000">25</text>
<text transform="translate(44.30,39.81) scale(1.1,1)" font-size="10" text-anchor="end" fill="#000">30</text>
<text transform="translate(44.30,11.60) scale(1.1,1)" font-size="10" text-anchor="end" fill="#000">35</text>
<line x1="50.40" y1="205.50" x2="50.40" y2="209.50" stroke="#000" stroke-width="1.3"/>
<line x1="83.55" y1="205.50" x2="83.55" y2="209.50" stroke="#000" stroke-width="1.3"/>
<line x1="116.70" y1="205.50" x2="116.70" y2="209.50" stroke="#000" stroke-width="1.3"/>
<line x1="149.85" y1="205.50" x2="149.85" y2="209.50" stroke="#000" stroke-width="1.3"/>
<line x1="183.00" y1="205.50" x2="183.00" y2="209.50" stroke="#000" stroke-width="1.3"/>
<line x1="216.15" y1="205.50" x2="216.15" y2="209.50" stroke="#000" stroke-width="1.3"/>
<line x1="249.30" y1="205.50" x2="249.30" y2="209.50" stroke="#000" stroke-width="1.3"/>
<line x1="282.45" y1="205.50" x2="282.45" y2="209.50" stroke="#000" stroke-width="1.3"/>
<line x1="315.60" y1="205.50" x2="315.60" y2="209.50" stroke="#000" stroke-width="1.3"/>
<line x1="66.97" y1="205.50" x2="66.97" y2="207.50" stroke="#000" stroke-width="1.3"/>
<line x1="100.12" y1="205.50" x2="100.12" y2="207.50" stroke="#000" stroke-width="1.3"/>
<line x1="133.28" y1="205.50" x2="133.28" y2="207.50" stroke="#000" stroke-width="1.3"/>
<line x1="166.43" y1="205.50" x2="166.43" y2="207.50" stroke="#000" stroke-width="1.3"/>
<line x1="199.58" y1="205.50" x2="199.58" y2="207.50" stroke="#000" stroke-width="1.3"/>
<line x1="232.73" y1="205.50" x2="232.73" y2="207.50" stroke="#000" stroke-width="1.3"/>
<line x1="265.88" y1="205.50" x2="265.88" y2="207.50" stroke="#000" stroke-width="1.3"/>
<line x1="299.03" y1="205.50" x2="299.03" y2="207.50" stroke="#000" stroke-width="1.3"/>
<text transform="translate(50.40,220.80) scale(1.1,1)" font-size="10" text-anchor="middle" fill="#000">0</text>
<text transform="translate(83.55,220.80) scale(1.1,1)" font-size="10" text-anchor="middle" fill="#000">5</text>
<text transform="translate(116.70,220.80) scale(1.1,1)" font-size="10" text-anchor="middle" fill="#000">10</text>
<text transform="translate(149.85,220.80) scale(1.1,1)" font-size="10" text-anchor="middle" fill="#000">15</text>
<text transform="translate(183.00,220.80) scale(1.1,1)" font-size="10" text-anchor="middle" fill="#000">20</text>
<text transform="translate(216.15,220.80) scale(1.1,1)" font-size="10" text-anchor="middle" fill="#000">25</text>
<text transform="translate(249.30,220.80) scale(1.1,1)" font-size="10" text-anchor="middle" fill="#000">30</text>
<text transform="translate(282.45,220.80) scale(1.1,1)" font-size="10" text-anchor="middle" fill="#000">35</text>
<text transform="translate(315.60,220.80) scale(1.1,1)" font-size="10" text-anchor="middle" fill="#000">40</text>
<text transform="translate(195.00,234.50) scale(1.1,1)" font-size="11.6" text-anchor="middle" fill="#000">Time(min)</text>
<path d="M20.72,123.12 L20.72,116.07 L14.37,119.60 Z" fill="none" stroke="#000" stroke-width="0.95" stroke-linejoin="miter"/>
<text transform="translate(21.20,114.60) rotate(-90)" font-size="12.9" text-anchor="start" fill="#000">T(°C)</text>
<text transform="translate(2.40,27.60) scale(0.93,1)" font-size="35" text-anchor="start" fill="#000">a</text>
<line x1="59.40" y1="18.60" x2="83.30" y2="18.60" stroke="#000000" stroke-width="2.0"/>
<rect x="68.85" y="15.85" width="5.00" height="5.50" fill="#000000"/>
<rect x="71.47" y="16.98" width="1.38" height="3.25" fill="#fff"/>
<text transform="translate(86.40,22.20) scale(1.03,1)" font-size="10.8" text-anchor="start" fill="#000">H<tspan font-size="0.82em" dy="3">2</tspan><tspan dy="-3">O</tspan></text>
<line x1="59.40" y1="35.70" x2="83.30" y2="35.70" stroke="#ff0000" stroke-width="2.0"/>
<ellipse cx="71.35" cy="35.70" rx="2.38" ry="3.00" fill="#ff0000"/>
<ellipse cx="72.29" cy="35.70" rx="1.00" ry="2.00" fill="#fff"/>
<text transform="translate(86.40,39.30) scale(1.03,1)" font-size="10.8" text-anchor="start" fill="#000">Ag</text>
<line x1="59.40" y1="49.20" x2="83.30" y2="49.20" stroke="#0000ff" stroke-width="2.0"/>
<path d="M71.35,46.08 L74.22,51.58 L68.47,51.58 Z" fill="#fff" stroke="#0000ff" stroke-width="0.94" stroke-linejoin="round"/>
<path d="M71.35,46.08 L71.54,51.58 L68.47,51.58 Z" fill="#0000ff"/>
<text transform="translate(86.40,52.80) scale(1.03,1)" font-size="10.8" text-anchor="start" fill="#000">Ag<tspan font-size="0.82em" dy="3">2</tspan><tspan dy="-3">S</tspan></text>
<line x1="59.40" y1="66.80" x2="83.30" y2="66.80" stroke="#ff00ff" stroke-width="2.0"/>
<path d="M71.35,69.92 L74.22,64.42 L68.47,64.42 Z" fill="#fff" stroke="#ff00ff" stroke-width="0.94" stroke-linejoin="round"/>
<path d="M71.35,69.92 L71.54,64.42 L68.47,64.42 Z" fill="#ff00ff"/>
<text transform="translate(86.40,70.40) scale(1.03,1)" font-size="10.8" text-anchor="start" fill="#000">Ag@Ag<tspan font-size="0.82em" dy="3">2</tspan><tspan dy="-3">S</tspan></text>
<polyline points="381.82,200.32 388.75,199.22 395.68,198.75 402.61,197.52 409.54,196.82 416.47,195.97 423.40,195.38 430.33,194.90 437.26,194.16 444.19,193.51 451.12,192.64 458.05,192.06 464.98,191.36 471.91,190.82 478.84,190.44 485.77,190.05 492.70,189.63 499.63,189.24 506.56,188.92 513.49,188.51 520.42,187.94 527.35,187.40 534.28,186.91 541.21,186.54 548.14,186.29 555.07,186.02 562.00,185.75 568.93,185.64 575.86,185.55 582.79,185.40 589.72,185.05 596.65,184.61 603.58,184.29 610.51,184.05 617.44,183.86 624.37,183.77 631.30,183.73 638.23,183.69 645.16,183.67" fill="none" stroke="#000000" stroke-width="1.0" stroke-linejoin="round"/>
<rect x="379.63" y="198.13" width="4.37" height="4.37" fill="#fff" stroke="#000000" stroke-width="0.75"/>
<rect x="379.26" y="197.76" width="2.56" height="5.12" fill="#000000"/>
<rect x="386.56" y="197.04" width="4.37" height="4.37" fill="#fff" stroke="#000000" stroke-width="0.75"/>
<rect x="386.19" y="196.66" width="2.56" height="5.12" fill="#000000"/>
<rect x="393.49" y="196.56" width="4.37" height="4.37" fill="#fff" stroke="#000000" stroke-width="0.75"/>
<rect x="393.12" y="196.19" width="2.56" height="5.12" fill="#000000"/>
<rect x="400.42" y="195.33" width="4.37" height="4.37" fill="#fff" stroke="#000000" stroke-width="0.75"/>
<rect x="400.05" y="194.96" width="2.56" height="5.12" fill="#000000"/>
<rect x="407.35" y="194.63" width="4.37" height="4.37" fill="#fff" stroke="#000000" stroke-width="0.75"/>
<rect x="406.98" y="194.26" width="2.56" height="5.12" fill="#000000"/>
<rect x="414.28" y="193.78" width="4.37" height="4.37" fill="#fff" stroke="#000000" stroke-width="0.75"/>
<rect x="413.91" y="193.41" width="2.56" height="5.12" fill="#000000"/>
<rect x="421.21" y="193.19" width="4.37" height="4.37" fill="#fff" stroke="#000000" stroke-width="0.75"/>
<rect x="420.84" y="192.82" width="2.56" height="5.12" fill="#000000"/>
<rect x="428.14" y="192.71" width="4.37" height="4.37" fill="#fff" stroke="#000000" stroke-width="0.75"/>
<rect x="427.77" y="192.34" width="2.56" height="5.12" fill="#000000"/>
<rect x="435.07" y="191.97" width="4.37" height="4.37" fill="#fff" stroke="#000000" stroke-width="0.75"/>
<rect x="434.70" y="191.60" width="2.56" height="5.12" fill="#000000"/>
<rect x="442.00" y="191.33" width="4.37" height="4.37" fill="#fff" stroke="#000000" stroke-width="0.75"/>
<rect x="441.63" y="190.95" width="2.56" height="5.12" fill="#000000"/>
<rect x="448.93" y="190.45" width="4.37" height="4.37" fill="#fff" stroke="#000000" stroke-width="0.75"/>
<rect x="448.56" y="190.08" width="2.56" height="5.12" fill="#000000"/>
<rect x="455.86" y="189.88" width="4.37" height="4.37" fill="#fff" stroke="#000000" stroke-width="0.75"/>
<rect x="455.49" y="189.50" width="2.56" height="5.12" fill="#000000"/>
<rect x="462.79" y="189.17" width="4.37" height="4.37" fill="#fff" stroke="#000000" stroke-width="0.75"/>
<rect x="462.42" y="188.80" width="2.56" height="5.12" fill="#000000"/>
<rect x="469.72" y="188.63" width="4.37" height="4.37" fill="#fff" stroke="#000000" stroke-width="0.75"/>
<rect x="469.35" y="188.26" width="2.56" height="5.12" fill="#000000"/>
<rect x="476.65" y="188.26" width="4.37" height="4.37" fill="#fff" stroke="#000000" stroke-width="0.75"/>
<rect x="476.28" y="187.88" width="2.56" height="5.12" fill="#000000"/>
<rect x="483.58" y="187.87" width="4.37" height="4.37" fill="#fff" stroke="#000000" stroke-width="0.75"/>
<rect x="483.21" y="187.49" width="2.56" height="5.12" fill="#000000"/>
<rect x="490.51" y="187.44" width="4.37" height="4.37" fill="#fff" stroke="#000000" stroke-width="0.75"/>
<rect x="490.14" y="187.07" width="2.56" height="5.12" fill="#000000"/>
<rect x="497.44" y="187.06" width="4.37" height="4.37" fill="#fff" stroke="#000000" stroke-width="0.75"/>
<rect x="497.07" y="186.68" width="2.56" height="5.12" fill="#000000"/>
<rect x="504.37" y="186.73" width="4.37" height="4.37" fill="#fff" stroke="#000000" stroke-width="0.75"/>
<rect x="504.00" y="186.36" width="2.56" height="5.12" fill="#000000"/>
<rect x="511.30" y="186.32" width="4.37" height="4.37" fill="#fff" stroke="#000000" stroke-width="0.75"/>
<rect x="510.93" y="185.95" width="2.56" height="5.12" fill="#000000"/>
<rect x="518.23" y="185.76" width="4.37" height="4.37" fill="#fff" stroke="#000000" stroke-width="0.75"/>
<rect x="517.86" y="185.38" width="2.56" height="5.12" fill="#000000"/>
<rect x="525.16" y="185.22" width="4.37" height="4.37" fill="#fff" stroke="#000000" stroke-width="0.75"/>
<rect x="524.79" y="184.84" width="2.56" height="5.12" fill="#000000"/>
<rect x="532.09" y="184.72" width="4.37" height="4.37" fill="#fff" stroke="#000000" stroke-width="0.75"/>
<rect x="531.72" y="184.35" width="2.56" height="5.12" fill="#000000"/>
<rect x="539.02" y="184.36" width="4.37" height="4.37" fill="#fff" stroke="#000000" stroke-width="0.75"/>
<rect x="538.65" y="183.98" width="2.56" height="5.12" fill="#000000"/>
<rect x="545.95" y="184.11" width="4.37" height="4.37" fill="#fff" stroke="#000000" stroke-width="0.75"/>
<rect x="545.58" y="183.73" width="2.56" height="5.12" fill="#000000"/>
<rect x="552.88" y="183.83" width="4.37" height="4.37" fill="#fff" stroke="#000000" stroke-width="0.75"/>
<rect x="552.51" y="183.46" width="2.56" height="5.12" fill="#000000"/>
<rect x="559.81" y="183.56" width="4.37" height="4.37" fill="#fff" stroke="#000000" stroke-width="0.75"/>
<rect x="559.44" y="183.19" width="2.56" height="5.12" fill="#000000"/>
<rect x="566.74" y="183.45" width="4.37" height="4.37" fill="#fff" stroke="#000000" stroke-width="0.75"/>
<rect x="566.37" y="183.08" width="2.56" height="5.12" fill="#000000"/>
<rect x="573.67" y="183.37" width="4.37" height="4.37" fill="#fff" stroke="#000000" stroke-width="0.75"/>
<rect x="573.30" y="182.99" width="2.56" height="5.12" fill="#000000"/>
<rect x="580.60" y="183.22" width="4.37" height="4.37" fill="#fff" stroke="#000000" stroke-width="0.75"/>
<rect x="580.23" y="182.84" width="2.56" height="5.12" fill="#000000"/>
<rect x="587.53" y="182.87" width="4.37" height="4.37" fill="#fff" stroke="#000000" stroke-width="0.75"/>
<rect x="587.16" y="182.49" width="2.56" height="5.12" fill="#000000"/>
<rect x="594.46" y="182.42" width="4.37" height="4.37" fill="#fff" stroke="#000000" stroke-width="0.75"/>
<rect x="594.09" y="182.05" width="2.56" height="5.12" fill="#000000"/>
<rect x="601.39" y="182.10" width="4.37" height="4.37" fill="#fff" stroke="#000000" stroke-width="0.75"/>
<rect x="601.02" y="181.73" width="2.56" height="5.12" fill="#000000"/>
<rect x="608.32" y="181.86" width="4.37" height="4.37" fill="#fff" stroke="#000000" stroke-width="0.75"/>
<rect x="607.95" y="181.49" width="2.56" height="5.12" fill="#000000"/>
<rect x="615.25" y="181.68" width="4.37" height="4.37" fill="#fff" stroke="#000000" stroke-width="0.75"/>
<rect x="614.88" y="181.30" width="2.56" height="5.12" fill="#000000"/>
<rect x="622.18" y="181.59" width="4.37" height="4.37" fill="#fff" stroke="#000000" stroke-width="0.75"/>
<rect x="621.81" y="181.21" width="2.56" height="5.12" fill="#000000"/>
<rect x="629.11" y="181.54" width="4.37" height="4.37" fill="#fff" stroke="#000000" stroke-width="0.75"/>
<rect x="628.74" y="181.17" width="2.56" height="5.12" fill="#000000"/>
<rect x="636.04" y="181.51" width="4.37" height="4.37" fill="#fff" stroke="#000000" stroke-width="0.75"/>
<rect x="635.67" y="181.13" width="2.56" height="5.12" fill="#000000"/>
<rect x="642.97" y="181.49" width="4.37" height="4.37" fill="#fff" stroke="#000000" stroke-width="0.75"/>
<rect x="642.60" y="181.11" width="2.56" height="5.12" fill="#000000"/>
<polyline points="379.74,198.92 386.67,191.13 393.60,186.39 400.53,182.55 407.46,178.57 414.39,174.23 421.32,170.70 428.25,167.90 435.18,164.91 442.11,162.13 449.04,159.13 455.97,157.00 462.90,154.36 469.83,152.47 476.76,150.63 483.69,148.81 490.62,146.98 497.55,145.20 504.48,143.49 511.41,141.92 518.34,140.57 525.27,139.37 532.20,138.32 539.13,137.31 546.06,136.19 552.99,135.09 559.92,134.17 566.85,133.46 573.78,132.85 580.71,132.22 587.64,131.49 594.57,130.72 601.50,130.00 608.43,129.37 615.36,128.78 622.29,128.21 629.22,127.65 636.15,127.10 643.08,126.54 650.01,125.99" fill="none" stroke="#ff0000" stroke-width="1.0" stroke-linejoin="round"/>
<circle cx="379.74" cy="198.92" r="2.30" fill="#fff" stroke="#ff0000" stroke-width="0.75"/>
<path d="M379.64,196.24 A2.67,2.67 0 0 0 379.64,201.59 Z" fill="#ff0000"/>
<circle cx="386.67" cy="191.13" r="2.30" fill="#fff" stroke="#ff0000" stroke-width="0.75"/>
<path d="M386.57,188.45 A2.67,2.67 0 0 0 386.57,193.80 Z" fill="#ff0000"/>
<circle cx="393.60" cy="186.39" r="2.30" fill="#fff" stroke="#ff0000" stroke-width="0.75"/>
<path d="M393.50,183.71 A2.67,2.67 0 0 0 393.50,189.06 Z" fill="#ff0000"/>
<circle cx="400.53" cy="182.55" r="2.30" fill="#fff" stroke="#ff0000" stroke-width="0.75"/>
<path d="M400.43,179.88 A2.67,2.67 0 0 0 400.43,185.23 Z" fill="#ff0000"/>
<circle cx="407.46" cy="178.57" r="2.30" fill="#fff" stroke="#ff0000" stroke-width="0.75"/>
<path d="M407.36,175.90 A2.67,2.67 0 0 0 407.36,181.25 Z" fill="#ff0000"/>
<circle cx="414.39" cy="174.23" r="2.30" fill="#fff" stroke="#ff0000" stroke-width="0.75"/>
<path d="M414.29,171.56 A2.67,2.67 0 0 0 414.29,176.91 Z" fill="#ff0000"/>
<circle cx="421.32" cy="170.70" r="2.30" fill="#fff" stroke="#ff0000" stroke-width="0.75"/>
<path d="M421.22,168.03 A2.67,2.67 0 0 0 421.22,173.38 Z" fill="#ff0000"/>
<circle cx="428.25" cy="167.90" r="2.30" fill="#fff" stroke="#ff0000" stroke-width="0.75"/>
<path d="M428.15,165.23 A2.67,2.67 0 0 0 428.15,170.58 Z" fill="#ff0000"/>
<circle cx="435.18" cy="164.91" r="2.30" fill="#fff" stroke="#ff0000" stroke-width="0.75"/>
<path d="M435.08,162.23 A2.67,2.67 0 0 0 435.08,167.58 Z" fill="#ff0000"/>
<circle cx="442.11" cy="162.13" r="2.30" fill="#fff" stroke="#ff0000" stroke-width="0.75"/>
<path d="M442.01,159.45 A2.67,2.67 0 0 0 442.01,164.80 Z" fill="#ff0000"/>
<circle cx="449.04" cy="159.13" r="2.30" fill="#fff" stroke="#ff0000" stroke-width="0.75"/>
<path d="M448.94,156.46 A2.67,2.67 0 0 0 448.94,161.81 Z" fill="#ff0000"/>
<circle cx="455.97" cy="157.00" r="2.30" fill="#fff" stroke="#ff0000" stroke-width="0.75"/>
<path d="M455.87,154.32 A2.67,2.67 0 0 0 455.87,159.67 Z" fill="#ff0000"/>
<circle cx="462.90" cy="154.36" r="2.30" fill="#fff" stroke="#ff0000" stroke-width="0.75"/>
<path d="M462.80,151.68 A2.67,2.67 0 0 0 462.80,157.03 Z" fill="#ff0000"/>
<circle cx="469.83" cy="152.47" r="2.30" fill="#fff" stroke="#ff0000" stroke-width="0.75"/>
<path d="M469.73,149.80 A2.67,2.67 0 0 0 469.73,155.15 Z" fill="#ff0000"/>
<circle cx="476.76" cy="150.63" r="2.30" fill="#fff" stroke="#ff0000" stroke-width="0.75"/>
<path d="M476.66,147.95 A2.67,2.67 0 0 0 476.66,153.30 Z" fill="#ff0000"/>
<circle cx="483.69" cy="148.81" r="2.30" fill="#fff" stroke="#ff0000" stroke-width="0.75"/>
<path d="M483.59,146.13 A2.67,2.67 0 0 0 483.59,151.48 Z" fill="#ff0000"/>
<circle cx="490.62" cy="146.98" r="2.30" fill="#fff" stroke="#ff0000" stroke-width="0.75"/>
<path d="M490.52,144.30 A2.67,2.67 0 0 0 490.52,149.65 Z" fill="#ff0000"/>
<circle cx="497.55" cy="145.20" r="2.30" fill="#fff" stroke="#ff0000" stroke-width="0.75"/>
<path d="M497.45,142.52 A2.67,2.67 0 0 0 497.45,147.87 Z" fill="#ff0000"/>
<circle cx="504.48" cy="143.49" r="2.30" fill="#fff" stroke="#ff0000" stroke-width="0.75"/>
<path d="M504.38,140.81 A2.67,2.67 0 0 0 504.38,146.16 Z" fill="#ff0000"/>
<circle cx="511.41" cy="141.92" r="2.30" fill="#fff" stroke="#ff0000" stroke-width="0.75"/>
<path d="M511.31,139.25 A2.67,2.67 0 0 0 511.31,144.60 Z" fill="#ff0000"/>
<circle cx="518.34" cy="140.57" r="2.30" fill="#fff" stroke="#ff0000" stroke-width="0.75"/>
<path d="M518.24,137.90 A2.67,2.67 0 0 0 518.24,143.25 Z" fill="#ff0000"/>
<circle cx="525.27" cy="139.37" r="2.30" fill="#fff" stroke="#ff0000" stroke-width="0.75"/>
<path d="M525.17,136.69 A2.67,2.67 0 0 0 525.17,142.04 Z" fill="#ff0000"/>
<circle cx="532.20" cy="138.32" r="2.30" fill="#fff" stroke="#ff0000" stroke-width="0.75"/>
<path d="M532.10,135.65 A2.67,2.67 0 0 0 532.10,141.00 Z" fill="#ff0000"/>
<circle cx="539.13" cy="137.31" r="2.30" fill="#fff" stroke="#ff0000" stroke-width="0.75"/>
<path d="M539.03,134.64 A2.67,2.67 0 0 0 539.03,139.99 Z" fill="#ff0000"/>
<circle cx="546.06" cy="136.19" r="2.30" fill="#fff" stroke="#ff0000" stroke-width="0.75"/>
<path d="M545.96,133.51 A2.67,2.67 0 0 0 545.96,138.86 Z" fill="#ff0000"/>
<circle cx="552.99" cy="135.09" r="2.30" fill="#fff" stroke="#ff0000" stroke-width="0.75"/>
<path d="M552.89,132.42 A2.67,2.67 0 0 0 552.89,137.77 Z" fill="#ff0000"/>
<circle cx="559.92" cy="134.17" r="2.30" fill="#fff" stroke="#ff0000" stroke-width="0.75"/>
<path d="M559.82,131.50 A2.67,2.67 0 0 0 559.82,136.85 Z" fill="#ff0000"/>
<circle cx="566.85" cy="133.46" r="2.30" fill="#fff" stroke="#ff0000" stroke-width="0.75"/>
<path d="M566.75,130.79 A2.67,2.67 0 0 0 566.75,136.14 Z" fill="#ff0000"/>
<circle cx="573.78" cy="132.85" r="2.30" fill="#fff" stroke="#ff0000" stroke-width="0.75"/>
<path d="M573.68,130.18 A2.67,2.67 0 0 0 573.68,135.53 Z" fill="#ff0000"/>
<circle cx="580.71" cy="132.22" r="2.30" fill="#fff" stroke="#ff0000" stroke-width="0.75"/>
<path d="M580.61,129.55 A2.67,2.67 0 0 0 580.61,134.90 Z" fill="#ff0000"/>
<circle cx="587.64" cy="131.49" r="2.30" fill="#fff" stroke="#ff0000" stroke-width="0.75"/>
<path d="M587.54,128.82 A2.67,2.67 0 0 0 587.54,134.17 Z" fill="#ff0000"/>
<circle cx="594.57" cy="130.72" r="2.30" fill="#fff" stroke="#ff0000" stroke-width="0.75"/>
<path d="M594.47,128.05 A2.67,2.67 0 0 0 594.47,133.40 Z" fill="#ff0000"/>
<circle cx="601.50" cy="130.00" r="2.30" fill="#fff" stroke="#ff0000" stroke-width="0.75"/>
<path d="M601.40,127.32 A2.67,2.67 0 0 0 601.40,132.67 Z" fill="#ff0000"/>
<circle cx="608.43" cy="129.37" r="2.30" fill="#fff" stroke="#ff0000" stroke-width="0.75"/>
<path d="M608.33,126.69 A2.67,2.67 0 0 0 608.33,132.04 Z" fill="#ff0000"/>
<circle cx="615.36" cy="128.78" r="2.30" fill="#fff" stroke="#ff0000" stroke-width="0.75"/>
<path d="M615.26,126.11 A2.67,2.67 0 0 0 615.26,131.46 Z" fill="#ff0000"/>
<circle cx="622.29" cy="128.21" r="2.30" fill="#fff" stroke="#ff0000" stroke-width="0.75"/>
<path d="M622.19,125.54 A2.67,2.67 0 0 0 622.19,130.89 Z" fill="#ff0000"/>
<circle cx="629.22" cy="127.65" r="2.30" fill="#fff" stroke="#ff0000" stroke-width="0.75"/>
<path d="M629.12,124.97 A2.67,2.67 0 0 0 629.12,130.32 Z" fill="#ff0000"/>
<circle cx="636.15" cy="127.10" r="2.30" fill="#fff" stroke="#ff0000" stroke-width="0.75"/>
<path d="M636.05,124.42 A2.67,2.67 0 0 0 636.05,129.77 Z" fill="#ff0000"/>
<circle cx="643.08" cy="126.54" r="2.30" fill="#fff" stroke="#ff0000" stroke-width="0.75"/>
<path d="M642.98,123.87 A2.67,2.67 0 0 0 642.98,129.22 Z" fill="#ff0000"/>
<circle cx="650.01" cy="125.99" r="2.30" fill="#fff" stroke="#ff0000" stroke-width="0.75"/>
<path d="M649.91,123.31 A2.67,2.67 0 0 0 649.91,128.66 Z" fill="#ff0000"/>
<polyline points="379.74,200.17 386.67,193.48 393.60,189.33 400.53,184.76 407.46,180.81 414.39,177.09 421.32,173.76 428.25,171.01 435.18,168.24 442.11,165.74 449.04,163.52 455.97,161.67 462.90,160.33 469.83,158.77 476.76,157.02 483.69,155.37 490.62,153.80 497.55,152.32 504.48,151.03 511.41,150.02 518.34,149.16 525.27,148.43 532.20,147.75 539.13,147.02 546.06,146.31 552.99,145.58 559.92,144.94 566.85,144.52 573.78,144.17 580.71,143.84 587.64,143.50 594.57,143.17 601.50,142.84 608.43,142.50 615.36,142.16 622.29,141.89 629.22,141.70 636.15,141.53 643.08,141.39 650.01,141.32" fill="none" stroke="#0000ff" stroke-width="1.0" stroke-linejoin="round"/>
<path d="M379.74,197.52 L382.27,202.35 L377.21,202.35 Z" fill="#fff" stroke="#0000ff" stroke-width="0.75" stroke-linejoin="round"/>
<path d="M379.74,197.22 L379.74,202.73 L376.83,202.73 Z" fill="#0000ff"/>
<path d="M386.67,190.84 L389.20,195.67 L384.14,195.67 Z" fill="#fff" stroke="#0000ff" stroke-width="0.75" stroke-linejoin="round"/>
<path d="M386.67,190.54 L386.67,196.04 L383.76,196.04 Z" fill="#0000ff"/>
<path d="M393.60,186.69 L396.13,191.52 L391.07,191.52 Z" fill="#fff" stroke="#0000ff" stroke-width="0.75" stroke-linejoin="round"/>
<path d="M393.60,186.39 L393.60,191.89 L390.69,191.89 Z" fill="#0000ff"/>
<path d="M400.53,182.12 L403.06,186.95 L398.00,186.95 Z" fill="#fff" stroke="#0000ff" stroke-width="0.75" stroke-linejoin="round"/>
<path d="M400.53,181.82 L400.53,187.32 L397.62,187.32 Z" fill="#0000ff"/>
<path d="M407.46,178.17 L409.99,183.00 L404.93,183.00 Z" fill="#fff" stroke="#0000ff" stroke-width="0.75" stroke-linejoin="round"/>
<path d="M407.46,177.87 L407.46,183.37 L404.55,183.37 Z" fill="#0000ff"/>
<path d="M414.39,174.45 L416.92,179.28 L411.86,179.28 Z" fill="#fff" stroke="#0000ff" stroke-width="0.75" stroke-linejoin="round"/>
<path d="M414.39,174.15 L414.39,179.65 L411.48,179.65 Z" fill="#0000ff"/>
<path d="M421.32,171.12 L423.85,175.95 L418.79,175.95 Z" fill="#fff" stroke="#0000ff" stroke-width="0.75" stroke-linejoin="round"/>
<path d="M421.32,170.82 L421.32,176.32 L418.41,176.32 Z" fill="#0000ff"/>
<path d="M428.25,168.37 L430.78,173.20 L425.72,173.20 Z" fill="#fff" stroke="#0000ff" stroke-width="0.75" stroke-linejoin="round"/>
<path d="M428.25,168.07 L428.25,173.57 L425.34,173.57 Z" fill="#0000ff"/>
<path d="M435.18,165.59 L437.71,170.42 L432.65,170.42 Z" fill="#fff" stroke="#0000ff" stroke-width="0.75" stroke-linejoin="round"/>
<path d="M435.18,165.29 L435.18,170.80 L432.27,170.80 Z" fill="#0000ff"/>
<path d="M442.11,163.09 L444.64,167.92 L439.58,167.92 Z" fill="#fff" stroke="#0000ff" stroke-width="0.75" stroke-linejoin="round"/>
<path d="M442.11,162.79 L442.11,168.30 L439.20,168.30 Z" fill="#0000ff"/>
<path d="M449.04,160.87 L451.57,165.70 L446.51,165.70 Z" fill="#fff" stroke="#0000ff" stroke-width="0.75" stroke-linejoin="round"/>
<path d="M449.04,160.57 L449.04,166.08 L446.13,166.08 Z" fill="#0000ff"/>
<path d="M455.97,159.02 L458.50,163.85 L453.44,163.85 Z" fill="#fff" stroke="#0000ff" stroke-width="0.75" stroke-linejoin="round"/>
<path d="M455.97,158.72 L455.97,164.23 L453.06,164.23 Z" fill="#0000ff"/>
<path d="M462.90,157.68 L465.43,162.51 L460.37,162.51 Z" fill="#fff" stroke="#0000ff" stroke-width="0.75" stroke-linejoin="round"/>
<path d="M462.90,157.38 L462.90,162.89 L459.99,162.89 Z" fill="#0000ff"/>
<path d="M469.83,156.13 L472.36,160.96 L467.30,160.96 Z" fill="#fff" stroke="#0000ff" stroke-width="0.75" stroke-linejoin="round"/>
<path d="M469.83,155.83 L469.83,161.33 L466.92,161.33 Z" fill="#0000ff"/>
<path d="M476.76,154.38 L479.29,159.21 L474.23,159.21 Z" fill="#fff" stroke="#0000ff" stroke-width="0.75" stroke-linejoin="round"/>
<path d="M476.76,154.08 L476.76,159.58 L473.85,159.58 Z" fill="#0000ff"/>
<path d="M483.69,152.73 L486.22,157.56 L481.16,157.56 Z" fill="#fff" stroke="#0000ff" stroke-width="0.75" stroke-linejoin="round"/>
<path d="M483.69,152.43 L483.69,157.93 L480.78,157.93 Z" fill="#0000ff"/>
<path d="M490.62,151.16 L493.15,155.99 L488.09,155.99 Z" fill="#fff" stroke="#0000ff" stroke-width="0.75" stroke-linejoin="round"/>
<path d="M490.62,150.86 L490.62,156.36 L487.71,156.36 Z" fill="#0000ff"/>
<path d="M497.55,149.68 L500.08,154.51 L495.02,154.51 Z" fill="#fff" stroke="#0000ff" stroke-width="0.75" stroke-linejoin="round"/>
<path d="M497.55,149.38 L497.55,154.88 L494.64,154.88 Z" fill="#0000ff"/>
<path d="M504.48,148.38 L507.01,153.21 L501.95,153.21 Z" fill="#fff" stroke="#0000ff" stroke-width="0.75" stroke-linejoin="round"/>
<path d="M504.48,148.08 L504.48,153.59 L501.57,153.59 Z" fill="#0000ff"/>
<path d="M511.41,147.37 L513.94,152.20 L508.88,152.20 Z" fill="#fff" stroke="#0000ff" stroke-width="0.75" stroke-linejoin="round"/>
<path d="M511.41,147.07 L511.41,152.58 L508.50,152.58 Z" fill="#0000ff"/>
<path d="M518.34,146.52 L520.87,151.35 L515.81,151.35 Z" fill="#fff" stroke="#0000ff" stroke-width="0.75" stroke-linejoin="round"/>
<path d="M518.34,146.22 L518.34,151.72 L515.43,151.72 Z" fill="#0000ff"/>
<path d="M525.27,145.78 L527.80,150.61 L522.74,150.61 Z" fill="#fff" stroke="#0000ff" stroke-width="0.75" stroke-linejoin="round"/>
<path d="M525.27,145.48 L525.27,150.99 L522.36,150.99 Z" fill="#0000ff"/>
<path d="M532.20,145.10 L534.73,149.93 L529.67,149.93 Z" fill="#fff" stroke="#0000ff" stroke-width="0.75" stroke-linejoin="round"/>
<path d="M532.20,144.80 L532.20,150.31 L529.29,150.31 Z" fill="#0000ff"/>
<path d="M539.13,144.38 L541.66,149.21 L536.60,149.21 Z" fill="#fff" stroke="#0000ff" stroke-width="0.75" stroke-linejoin="round"/>
<path d="M539.13,144.08 L539.13,149.58 L536.22,149.58 Z" fill="#0000ff"/>
<path d="M546.06,143.66 L548.59,148.49 L543.53,148.49 Z" fill="#fff" stroke="#0000ff" stroke-width="0.75" stroke-linejoin="round"/>
<path d="M546.06,143.36 L546.06,148.87 L543.15,148.87 Z" fill="#0000ff"/>
<path d="M552.99,142.93 L555.52,147.76 L550.46,147.76 Z" fill="#fff" stroke="#0000ff" stroke-width="0.75" stroke-linejoin="round"/>
<path d="M552.99,142.63 L552.99,148.14 L550.08,148.14 Z" fill="#0000ff"/>
<path d="M559.92,142.30 L562.45,147.13 L557.39,147.13 Z" fill="#fff" stroke="#0000ff" stroke-width="0.75" stroke-linejoin="round"/>
<path d="M559.92,142.00 L559.92,147.50 L557.01,147.50 Z" fill="#0000ff"/>
<path d="M566.85,141.87 L569.38,146.70 L564.32,146.70 Z" fill="#fff" stroke="#0000ff" stroke-width="0.75" stroke-linejoin="round"/>
<path d="M566.85,141.57 L566.85,147.08 L563.94,147.08 Z" fill="#0000ff"/>
<path d="M573.78,141.53 L576.31,146.36 L571.25,146.36 Z" fill="#fff" stroke="#0000ff" stroke-width="0.75" stroke-linejoin="round"/>
<path d="M573.78,141.23 L573.78,146.73 L570.87,146.73 Z" fill="#0000ff"/>
<path d="M580.71,141.20 L583.24,146.03 L578.18,146.03 Z" fill="#fff" stroke="#0000ff" stroke-width="0.75" stroke-linejoin="round"/>
<path d="M580.71,140.90 L580.71,146.40 L577.80,146.40 Z" fill="#0000ff"/>
<path d="M587.64,140.86 L590.17,145.69 L585.11,145.69 Z" fill="#fff" stroke="#0000ff" stroke-width="0.75" stroke-linejoin="round"/>
<path d="M587.64,140.56 L587.64,146.06 L584.73,146.06 Z" fill="#0000ff"/>
<path d="M594.57,140.52 L597.10,145.35 L592.04,145.35 Z" fill="#fff" stroke="#0000ff" stroke-width="0.75" stroke-linejoin="round"/>
<path d="M594.57,140.22 L594.57,145.73 L591.66,145.73 Z" fill="#0000ff"/>
<path d="M601.50,140.20 L604.03,145.03 L598.97,145.03 Z" fill="#fff" stroke="#0000ff" stroke-width="0.75" stroke-linejoin="round"/>
<path d="M601.50,139.90 L601.50,145.40 L598.59,145.40 Z" fill="#0000ff"/>
<path d="M608.43,139.86 L610.96,144.69 L605.90,144.69 Z" fill="#fff" stroke="#0000ff" stroke-width="0.75" stroke-linejoin="round"/>
<path d="M608.43,139.56 L608.43,145.06 L605.52,145.06 Z" fill="#0000ff"/>
<path d="M615.36,139.51 L617.89,144.34 L612.83,144.34 Z" fill="#fff" stroke="#0000ff" stroke-width="0.75" stroke-linejoin="round"/>
<path d="M615.36,139.21 L615.36,144.72 L612.45,144.72 Z" fill="#0000ff"/>
<path d="M622.29,139.24 L624.82,144.07 L619.76,144.07 Z" fill="#fff" stroke="#0000ff" stroke-width="0.75" stroke-linejoin="round"/>
<path d="M622.29,138.94 L622.29,144.45 L619.38,144.45 Z" fill="#0000ff"/>
<path d="M629.22,139.05 L631.75,143.88 L626.69,143.88 Z" fill="#fff" stroke="#0000ff" stroke-width="0.75" stroke-linejoin="round"/>
<path d="M629.22,138.75 L629.22,144.26 L626.31,144.26 Z" fill="#0000ff"/>
<path d="M636.15,138.88 L638.68,143.71 L633.62,143.71 Z" fill="#fff" stroke="#0000ff" stroke-width="0.75" stroke-linejoin="round"/>
<path d="M636.15,138.58 L636.15,144.09 L633.24,144.09 Z" fill="#0000ff"/>
<path d="M643.08,138.75 L645.61,143.58 L640.55,143.58 Z" fill="#fff" stroke="#0000ff" stroke-width="0.75" stroke-linejoin="round"/>
<path d="M643.08,138.45 L643.08,143.95 L640.17,143.95 Z" fill="#0000ff"/>
<path d="M650.01,138.67 L652.54,143.50 L647.48,143.50 Z" fill="#fff" stroke="#0000ff" stroke-width="0.75" stroke-linejoin="round"/>
<path d="M650.01,138.37 L650.01,143.88 L647.10,143.88 Z" fill="#0000ff"/>
<polyline points="379.74,195.16 386.67,179.34 393.60,169.90 400.53,157.02 407.46,143.76 414.39,132.54 421.32,123.03 428.25,113.39 435.18,104.95 442.11,98.69 449.04,90.69 455.97,84.96 462.90,77.95 469.83,72.83 476.76,68.42 483.69,63.98 490.62,59.58 497.55,55.82 504.48,52.49 511.41,49.44 518.34,46.10 525.27,43.33 532.20,40.83 539.13,38.83 546.06,36.34 552.99,34.31 559.92,32.50 566.85,30.69 573.78,29.01 580.71,27.46 587.64,26.12 594.57,25.12 601.50,24.18 608.43,23.01 615.36,21.79 622.29,20.66 629.22,19.56 636.15,18.53 643.08,17.52 650.01,16.51" fill="none" stroke="#ff00ff" stroke-width="1.0" stroke-linejoin="round"/>
<path d="M379.74,197.81 L382.27,192.98 L377.21,192.98 Z" fill="#fff" stroke="#ff00ff" stroke-width="0.75" stroke-linejoin="round"/>
<path d="M379.74,198.11 L379.74,192.60 L376.83,192.60 Z" fill="#ff00ff"/>
<path d="M386.67,181.98 L389.20,177.15 L384.14,177.15 Z" fill="#fff" stroke="#ff00ff" stroke-width="0.75" stroke-linejoin="round"/>
<path d="M386.67,182.28 L386.67,176.78 L383.76,176.78 Z" fill="#ff00ff"/>
<path d="M393.60,172.55 L396.13,167.72 L391.07,167.72 Z" fill="#fff" stroke="#ff00ff" stroke-width="0.75" stroke-linejoin="round"/>
<path d="M393.60,172.85 L393.60,167.34 L390.69,167.34 Z" fill="#ff00ff"/>
<path d="M400.53,159.66 L403.06,154.83 L398.00,154.83 Z" fill="#fff" stroke="#ff00ff" stroke-width="0.75" stroke-linejoin="round"/>
<path d="M400.53,159.96 L400.53,154.46 L397.62,154.46 Z" fill="#ff00ff"/>
<path d="M407.46,146.40 L409.99,141.57 L404.93,141.57 Z" fill="#fff" stroke="#ff00ff" stroke-width="0.75" stroke-linejoin="round"/>
<path d="M407.46,146.70 L407.46,141.20 L404.55,141.20 Z" fill="#ff00ff"/>
<path d="M414.39,135.19 L416.92,130.36 L411.86,130.36 Z" fill="#fff" stroke="#ff00ff" stroke-width="0.75" stroke-linejoin="round"/>
<path d="M414.39,135.49 L414.39,129.98 L411.48,129.98 Z" fill="#ff00ff"/>
<path d="M421.32,125.67 L423.85,120.84 L418.79,120.84 Z" fill="#fff" stroke="#ff00ff" stroke-width="0.75" stroke-linejoin="round"/>
<path d="M421.32,125.97 L421.32,120.47 L418.41,120.47 Z" fill="#ff00ff"/>
<path d="M428.25,116.03 L430.78,111.20 L425.72,111.20 Z" fill="#fff" stroke="#ff00ff" stroke-width="0.75" stroke-linejoin="round"/>
<path d="M428.25,116.33 L428.25,110.83 L425.34,110.83 Z" fill="#ff00ff"/>
<path d="M435.18,107.59 L437.71,102.77 L432.65,102.77 Z" fill="#fff" stroke="#ff00ff" stroke-width="0.75" stroke-linejoin="round"/>
<path d="M435.18,107.89 L435.18,102.39 L432.27,102.39 Z" fill="#ff00ff"/>
<path d="M442.11,101.33 L444.64,96.50 L439.58,96.50 Z" fill="#fff" stroke="#ff00ff" stroke-width="0.75" stroke-linejoin="round"/>
<path d="M442.11,101.63 L442.11,96.13 L439.20,96.13 Z" fill="#ff00ff"/>
<path d="M449.04,93.34 L451.57,88.51 L446.51,88.51 Z" fill="#fff" stroke="#ff00ff" stroke-width="0.75" stroke-linejoin="round"/>
<path d="M449.04,93.64 L449.04,88.13 L446.13,88.13 Z" fill="#ff00ff"/>
<path d="M455.97,87.61 L458.50,82.78 L453.44,82.78 Z" fill="#fff" stroke="#ff00ff" stroke-width="0.75" stroke-linejoin="round"/>
<path d="M455.97,87.91 L455.97,82.40 L453.06,82.40 Z" fill="#ff00ff"/>
<path d="M462.90,80.59 L465.43,75.76 L460.37,75.76 Z" fill="#fff" stroke="#ff00ff" stroke-width="0.75" stroke-linejoin="round"/>
<path d="M462.90,80.89 L462.90,75.39 L459.99,75.39 Z" fill="#ff00ff"/>
<path d="M469.83,75.48 L472.36,70.65 L467.30,70.65 Z" fill="#fff" stroke="#ff00ff" stroke-width="0.75" stroke-linejoin="round"/>
<path d="M469.83,75.78 L469.83,70.27 L466.92,70.27 Z" fill="#ff00ff"/>
<path d="M476.76,71.07 L479.29,66.24 L474.23,66.24 Z" fill="#fff" stroke="#ff00ff" stroke-width="0.75" stroke-linejoin="round"/>
<path d="M476.76,71.37 L476.76,65.86 L473.85,65.86 Z" fill="#ff00ff"/>
<path d="M483.69,66.62 L486.22,61.79 L481.16,61.79 Z" fill="#fff" stroke="#ff00ff" stroke-width="0.75" stroke-linejoin="round"/>
<path d="M483.69,66.92 L483.69,61.42 L480.78,61.42 Z" fill="#ff00ff"/>
<path d="M490.62,62.22 L493.15,57.39 L488.09,57.39 Z" fill="#fff" stroke="#ff00ff" stroke-width="0.75" stroke-linejoin="round"/>
<path d="M490.62,62.52 L490.62,57.02 L487.71,57.02 Z" fill="#ff00ff"/>
<path d="M497.55,58.46 L500.08,53.63 L495.02,53.63 Z" fill="#fff" stroke="#ff00ff" stroke-width="0.75" stroke-linejoin="round"/>
<path d="M497.55,58.76 L497.55,53.26 L494.64,53.26 Z" fill="#ff00ff"/>
<path d="M504.48,55.13 L507.01,50.30 L501.95,50.30 Z" fill="#fff" stroke="#ff00ff" stroke-width="0.75" stroke-linejoin="round"/>
<path d="M504.48,55.43 L504.48,49.93 L501.57,49.93 Z" fill="#ff00ff"/>
<path d="M511.41,52.08 L513.94,47.25 L508.88,47.25 Z" fill="#fff" stroke="#ff00ff" stroke-width="0.75" stroke-linejoin="round"/>
<path d="M511.41,52.38 L511.41,46.88 L508.50,46.88 Z" fill="#ff00ff"/>
<path d="M518.34,48.75 L520.87,43.92 L515.81,43.92 Z" fill="#fff" stroke="#ff00ff" stroke-width="0.75" stroke-linejoin="round"/>
<path d="M518.34,49.05 L518.34,43.54 L515.43,43.54 Z" fill="#ff00ff"/>
<path d="M525.27,45.97 L527.80,41.14 L522.74,41.14 Z" fill="#fff" stroke="#ff00ff" stroke-width="0.75" stroke-linejoin="round"/>
<path d="M525.27,46.27 L525.27,40.77 L522.36,40.77 Z" fill="#ff00ff"/>
<path d="M532.20,43.48 L534.73,38.65 L529.67,38.65 Z" fill="#fff" stroke="#ff00ff" stroke-width="0.75" stroke-linejoin="round"/>
<path d="M532.20,43.78 L532.20,38.27 L529.29,38.27 Z" fill="#ff00ff"/>
<path d="M539.13,41.47 L541.66,36.64 L536.60,36.64 Z" fill="#fff" stroke="#ff00ff" stroke-width="0.75" stroke-linejoin="round"/>
<path d="M539.13,41.77 L539.13,36.27 L536.22,36.27 Z" fill="#ff00ff"/>
<path d="M546.06,38.98 L548.59,34.15 L543.53,34.15 Z" fill="#fff" stroke="#ff00ff" stroke-width="0.75" stroke-linejoin="round"/>
<path d="M546.06,39.28 L546.06,33.78 L543.15,33.78 Z" fill="#ff00ff"/>
<path d="M552.99,36.96 L555.52,32.13 L550.46,32.13 Z" fill="#fff" stroke="#ff00ff" stroke-width="0.75" stroke-linejoin="round"/>
<path d="M552.99,37.26 L552.99,31.75 L550.08,31.75 Z" fill="#ff00ff"/>
<path d="M559.92,35.15 L562.45,30.32 L557.39,30.32 Z" fill="#fff" stroke="#ff00ff" stroke-width="0.75" stroke-linejoin="round"/>
<path d="M559.92,35.45 L559.92,29.94 L557.01,29.94 Z" fill="#ff00ff"/>
<path d="M566.85,33.34 L569.38,28.51 L564.32,28.51 Z" fill="#fff" stroke="#ff00ff" stroke-width="0.75" stroke-linejoin="round"/>
<path d="M566.85,33.64 L566.85,28.13 L563.94,28.13 Z" fill="#ff00ff"/>
<path d="M573.78,31.66 L576.31,26.83 L571.25,26.83 Z" fill="#fff" stroke="#ff00ff" stroke-width="0.75" stroke-linejoin="round"/>
<path d="M573.78,31.96 L573.78,26.45 L570.87,26.45 Z" fill="#ff00ff"/>
<path d="M580.71,30.10 L583.24,25.27 L578.18,25.27 Z" fill="#fff" stroke="#ff00ff" stroke-width="0.75" stroke-linejoin="round"/>
<path d="M580.71,30.40 L580.71,24.90 L577.80,24.90 Z" fill="#ff00ff"/>
<path d="M587.64,28.76 L590.17,23.93 L585.11,23.93 Z" fill="#fff" stroke="#ff00ff" stroke-width="0.75" stroke-linejoin="round"/>
<path d="M587.64,29.06 L587.64,23.56 L584.73,23.56 Z" fill="#ff00ff"/>
<path d="M594.57,27.77 L597.10,22.94 L592.04,22.94 Z" fill="#fff" stroke="#ff00ff" stroke-width="0.75" stroke-linejoin="round"/>
<path d="M594.57,28.07 L594.57,22.56 L591.66,22.56 Z" fill="#ff00ff"/>
<path d="M601.50,26.82 L604.03,21.99 L598.97,21.99 Z" fill="#fff" stroke="#ff00ff" stroke-width="0.75" stroke-linejoin="round"/>
<path d="M601.50,27.12 L601.50,21.62 L598.59,21.62 Z" fill="#ff00ff"/>
<path d="M608.43,25.65 L610.96,20.82 L605.90,20.82 Z" fill="#fff" stroke="#ff00ff" stroke-width="0.75" stroke-linejoin="round"/>
<path d="M608.43,25.95 L608.43,20.45 L605.52,20.45 Z" fill="#ff00ff"/>
<path d="M615.36,24.44 L617.89,19.61 L612.83,19.61 Z" fill="#fff" stroke="#ff00ff" stroke-width="0.75" stroke-linejoin="round"/>
<path d="M615.36,24.74 L615.36,19.23 L612.45,19.23 Z" fill="#ff00ff"/>
<path d="M622.29,23.30 L624.82,18.47 L619.76,18.47 Z" fill="#fff" stroke="#ff00ff" stroke-width="0.75" stroke-linejoin="round"/>
<path d="M622.29,23.60 L622.29,18.10 L619.38,18.10 Z" fill="#ff00ff"/>
<path d="M629.22,22.21 L631.75,17.38 L626.69,17.38 Z" fill="#fff" stroke="#ff00ff" stroke-width="0.75" stroke-linejoin="round"/>
<path d="M629.22,22.51 L629.22,17.00 L626.31,17.00 Z" fill="#ff00ff"/>
<path d="M636.15,21.17 L638.68,16.34 L633.62,16.34 Z" fill="#fff" stroke="#ff00ff" stroke-width="0.75" stroke-linejoin="round"/>
<path d="M636.15,21.47 L636.15,15.97 L633.24,15.97 Z" fill="#ff00ff"/>
<path d="M643.08,20.16 L645.61,15.33 L640.55,15.33 Z" fill="#fff" stroke="#ff00ff" stroke-width="0.75" stroke-linejoin="round"/>
<path d="M643.08,20.46 L643.08,14.96 L640.17,14.96 Z" fill="#ff00ff"/>
<path d="M650.01,19.15 L652.54,14.32 L647.48,14.32 Z" fill="#fff" stroke="#ff00ff" stroke-width="0.75" stroke-linejoin="round"/>
<path d="M650.01,19.45 L650.01,13.95 L647.10,13.95 Z" fill="#ff00ff"/>
<rect x="373.00" y="8.00" width="277.90" height="194.50" fill="none" stroke="#000" stroke-width="1.5"/>
<line x1="369.50" y1="202.10" x2="373.50" y2="202.10" stroke="#000" stroke-width="1.3"/>
<line x1="369.50" y1="174.34" x2="373.50" y2="174.34" stroke="#000" stroke-width="1.3"/>
<line x1="369.50" y1="146.59" x2="373.50" y2="146.59" stroke="#000" stroke-width="1.3"/>
<line x1="369.50" y1="118.83" x2="373.50" y2="118.83" stroke="#000" stroke-width="1.3"/>
<line x1="369.50" y1="91.07" x2="373.50" y2="91.07" stroke="#000" stroke-width="1.3"/>
<line x1="369.50" y1="63.31" x2="373.50" y2="63.31" stroke="#000" stroke-width="1.3"/>
<line x1="369.50" y1="35.56" x2="373.50" y2="35.56" stroke="#000" stroke-width="1.3"/>
<line x1="369.50" y1="7.80" x2="373.50" y2="7.80" stroke="#000" stroke-width="1.3"/>
<line x1="371.50" y1="188.22" x2="373.50" y2="188.22" stroke="#000" stroke-width="1.3"/>
<line x1="371.50" y1="160.46" x2="373.50" y2="160.46" stroke="#000" stroke-width="1.3"/>
<line x1="371.50" y1="132.71" x2="373.50" y2="132.71" stroke="#000" stroke-width="1.3"/>
<line x1="371.50" y1="104.95" x2="373.50" y2="104.95" stroke="#000" stroke-width="1.3"/>
<line x1="371.50" y1="77.19" x2="373.50" y2="77.19" stroke="#000" stroke-width="1.3"/>
<line x1="371.50" y1="49.44" x2="373.50" y2="49.44" stroke="#000" stroke-width="1.3"/>
<line x1="371.50" y1="21.68" x2="373.50" y2="21.68" stroke="#000" stroke-width="1.3"/>
<text transform="translate(366.80,205.70) scale(1.1,1)" font-size="10" text-anchor="end" fill="#000">0</text>
<text transform="translate(366.80,177.94) scale(1.1,1)" font-size="10" text-anchor="end" fill="#000">5</text>
<text transform="translate(366.80,150.19) scale(1.1,1)" font-size="10" text-anchor="end" fill="#000">10</text>
<text transform="translate(366.80,122.43) scale(1.1,1)" font-size="10" text-anchor="end" fill="#000">15</text>
<text transform="translate(366.80,94.67) scale(1.1,1)" font-size="10" text-anchor="end" fill="#000">20</text>
<text transform="translate(366.80,66.91) scale(1.1,1)" font-size="10" text-anchor="end" fill="#000">25</text>
<text transform="translate(366.80,39.16) scale(1.1,1)" font-size="10" text-anchor="end" fill="#000">30</text>
<text transform="translate(366.80,11.40) scale(1.1,1)" font-size="10" text-anchor="end" fill="#000">35</text>
<line x1="373.50" y1="202.10" x2="373.50" y2="206.10" stroke="#000" stroke-width="1.3"/>
<line x1="408.15" y1="202.10" x2="408.15" y2="206.10" stroke="#000" stroke-width="1.3"/>
<line x1="442.80" y1="202.10" x2="442.80" y2="206.10" stroke="#000" stroke-width="1.3"/>
<line x1="477.45" y1="202.10" x2="477.45" y2="206.10" stroke="#000" stroke-width="1.3"/>
<line x1="512.10" y1="202.10" x2="512.10" y2="206.10" stroke="#000" stroke-width="1.3"/>
<line x1="546.75" y1="202.10" x2="546.75" y2="206.10" stroke="#000" stroke-width="1.3"/>
<line x1="581.40" y1="202.10" x2="581.40" y2="206.10" stroke="#000" stroke-width="1.3"/>
<line x1="616.05" y1="202.10" x2="616.05" y2="206.10" stroke="#000" stroke-width="1.3"/>
<line x1="650.70" y1="202.10" x2="650.70" y2="206.10" stroke="#000" stroke-width="1.3"/>
<line x1="390.82" y1="202.10" x2="390.82" y2="204.10" stroke="#000" stroke-width="1.3"/>
<line x1="425.48" y1="202.10" x2="425.48" y2="204.10" stroke="#000" stroke-width="1.3"/>
<line x1="460.12" y1="202.10" x2="460.12" y2="204.10" stroke="#000" stroke-width="1.3"/>
<line x1="494.78" y1="202.10" x2="494.78" y2="204.10" stroke="#000" stroke-width="1.3"/>
<line x1="529.42" y1="202.10" x2="529.42" y2="204.10" stroke="#000" stroke-width="1.3"/>
<line x1="564.08" y1="202.10" x2="564.08" y2="204.10" stroke="#000" stroke-width="1.3"/>
<line x1="598.73" y1="202.10" x2="598.73" y2="204.10" stroke="#000" stroke-width="1.3"/>
<line x1="633.38" y1="202.10" x2="633.38" y2="204.10" stroke="#000" stroke-width="1.3"/>
<text transform="translate(373.50,217.50) scale(1.1,1)" font-size="10" text-anchor="middle" fill="#000">0</text>
<text transform="translate(408.15,217.50) scale(1.1,1)" font-size="10" text-anchor="middle" fill="#000">5</text>
<text transform="translate(442.80,217.50) scale(1.1,1)" font-size="10" text-anchor="middle" fill="#000">10</text>
<text transform="translate(477.45,217.50) scale(1.1,1)" font-size="10" text-anchor="middle" fill="#000">15</text>
<text transform="translate(512.10,217.50) scale(1.1,1)" font-size="10" text-anchor="middle" fill="#000">20</text>
<text transform="translate(546.75,217.50) scale(1.1,1)" font-size="10" text-anchor="middle" fill="#000">25</text>
<text transform="translate(581.40,217.50) scale(1.1,1)" font-size="10" text-anchor="middle" fill="#000">30</text>
<text transform="translate(616.05,217.50) scale(1.1,1)" font-size="10" text-anchor="middle" fill="#000">35</text>
<text transform="translate(650.70,217.50) scale(1.1,1)" font-size="10" text-anchor="middle" fill="#000">40</text>
<text transform="translate(512.10,239.20) scale(1.05,1)" font-size="12.4" text-anchor="middle" fill="#000">Time(min)</text>
<path d="M345.42,130.62 L345.42,120.67 L336.77,125.65 Z" fill="none" stroke="#000" stroke-width="0.95" stroke-linejoin="miter"/>
<text transform="translate(345.90,119.00) rotate(-90)" font-size="13.3" text-anchor="start" fill="#000">T(°C)</text>
<text transform="translate(333.60,30.60) scale(0.98,1)" font-size="34.3" text-anchor="start" fill="#000">b</text>
<line x1="379.80" y1="18.90" x2="402.50" y2="18.90" stroke="#000000" stroke-width="2.0"/>
<rect x="388.65" y="16.15" width="5.00" height="5.50" fill="#000000"/>
<rect x="391.27" y="17.27" width="1.38" height="3.25" fill="#fff"/>
<text transform="translate(405.60,22.50) scale(1.09,1)" font-size="10.5" text-anchor="start" fill="#000">H<tspan font-size="0.62em">2</tspan><tspan>O</tspan></text>
<line x1="379.80" y1="33.00" x2="402.50" y2="33.00" stroke="#ff0000" stroke-width="2.0"/>
<ellipse cx="391.15" cy="33.00" rx="2.38" ry="3.00" fill="#ff0000"/>
<ellipse cx="392.09" cy="33.00" rx="1.00" ry="2.00" fill="#fff"/>
<text transform="translate(405.60,36.60) scale(1.09,1)" font-size="10.5" text-anchor="start" fill="#000">Ag</text>
<line x1="379.80" y1="47.10" x2="402.50" y2="47.10" stroke="#0000ff" stroke-width="2.0"/>
<path d="M391.15,43.98 L394.02,49.48 L388.27,49.48 Z" fill="#fff" stroke="#0000ff" stroke-width="0.94" stroke-linejoin="round"/>
<path d="M391.15,43.98 L391.34,49.48 L388.27,49.48 Z" fill="#0000ff"/>
<text transform="translate(405.60,50.70) scale(1.09,1)" font-size="10.5" text-anchor="start" fill="#000">Ag<tspan font-size="0.62em">2</tspan><tspan>S</tspan></text>
<line x1="379.80" y1="61.00" x2="402.50" y2="61.00" stroke="#ff00ff" stroke-width="2.0"/>
<path d="M391.15,64.12 L394.02,58.62 L388.27,58.62 Z" fill="#fff" stroke="#ff00ff" stroke-width="0.94" stroke-linejoin="round"/>
<path d="M391.15,64.12 L391.34,58.62 L388.27,58.62 Z" fill="#ff00ff"/>
<text transform="translate(405.60,64.60) scale(1.09,1)" font-size="10.5" text-anchor="start" fill="#000">Ag@Ag<tspan font-size="0.62em">2</tspan><tspan>S</tspan></text>
<polyline points="53.53,436.19 60.46,432.47 67.38,428.61 74.31,424.67 81.23,421.62 88.16,418.47 95.08,415.43 102.01,412.15 108.93,409.34 115.86,406.71 122.78,404.60 129.71,403.01 136.63,401.79 143.56,400.23 150.48,399.04 157.41,397.93 164.33,396.82 171.26,395.70 178.18,394.52 185.11,393.51 192.03,392.70 198.96,392.08 205.88,391.68 212.81,391.26 219.73,390.72 226.66,390.15 233.58,389.59 240.51,389.01 247.43,388.50 254.36,388.11 261.28,387.81 268.21,387.56 275.13,387.32 282.06,387.09 288.98,386.89 295.91,386.68 302.83,386.48 309.76,386.29 316.68,386.09 323.61,385.91" fill="none" stroke="#000000" stroke-width="1.0" stroke-linejoin="round"/>
<rect x="51.35" y="434.00" width="4.37" height="4.37" fill="#fff" stroke="#000000" stroke-width="0.75"/>
<rect x="50.97" y="433.63" width="2.56" height="5.12" fill="#000000"/>
<rect x="58.27" y="430.29" width="4.37" height="4.37" fill="#fff" stroke="#000000" stroke-width="0.75"/>
<rect x="57.90" y="429.91" width="2.56" height="5.12" fill="#000000"/>
<rect x="65.20" y="426.43" width="4.37" height="4.37" fill="#fff" stroke="#000000" stroke-width="0.75"/>
<rect x="64.82" y="426.05" width="2.56" height="5.12" fill="#000000"/>
<rect x="72.12" y="422.49" width="4.37" height="4.37" fill="#fff" stroke="#000000" stroke-width="0.75"/>
<rect x="71.75" y="422.11" width="2.56" height="5.12" fill="#000000"/>
<rect x="79.05" y="419.43" width="4.37" height="4.37" fill="#fff" stroke="#000000" stroke-width="0.75"/>
<rect x="78.67" y="419.06" width="2.56" height="5.12" fill="#000000"/>
<rect x="85.97" y="416.28" width="4.37" height="4.37" fill="#fff" stroke="#000000" stroke-width="0.75"/>
<rect x="85.60" y="415.91" width="2.56" height="5.12" fill="#000000"/>
<rect x="92.90" y="413.25" width="4.37" height="4.37" fill="#fff" stroke="#000000" stroke-width="0.75"/>
<rect x="92.52" y="412.87" width="2.56" height="5.12" fill="#000000"/>
<rect x="99.82" y="409.97" width="4.37" height="4.37" fill="#fff" stroke="#000000" stroke-width="0.75"/>
<rect x="99.45" y="409.59" width="2.56" height="5.12" fill="#000000"/>
<rect x="106.75" y="407.15" width="4.37" height="4.37" fill="#fff" stroke="#000000" stroke-width="0.75"/>
<rect x="106.37" y="406.78" width="2.56" height="5.12" fill="#000000"/>
<rect x="113.67" y="404.53" width="4.37" height="4.37" fill="#fff" stroke="#000000" stroke-width="0.75"/>
<rect x="113.30" y="404.15" width="2.56" height="5.12" fill="#000000"/>
<rect x="120.60" y="402.41" width="4.37" height="4.37" fill="#fff" stroke="#000000" stroke-width="0.75"/>
<rect x="120.22" y="402.04" width="2.56" height="5.12" fill="#000000"/>
<rect x="127.52" y="400.82" width="4.37" height="4.37" fill="#fff" stroke="#000000" stroke-width="0.75"/>
<rect x="127.15" y="400.45" width="2.56" height="5.12" fill="#000000"/>
<rect x="134.45" y="399.61" width="4.37" height="4.37" fill="#fff" stroke="#000000" stroke-width="0.75"/>
<rect x="134.07" y="399.23" width="2.56" height="5.12" fill="#000000"/>
<rect x="141.37" y="398.04" width="4.37" height="4.37" fill="#fff" stroke="#000000" stroke-width="0.75"/>
<rect x="141.00" y="397.67" width="2.56" height="5.12" fill="#000000"/>
<rect x="148.30" y="396.86" width="4.37" height="4.37" fill="#fff" stroke="#000000" stroke-width="0.75"/>
<rect x="147.92" y="396.48" width="2.56" height="5.12" fill="#000000"/>
<rect x="155.22" y="395.74" width="4.37" height="4.37" fill="#fff" stroke="#000000" stroke-width="0.75"/>
<rect x="154.85" y="395.37" width="2.56" height="5.12" fill="#000000"/>
<rect x="162.15" y="394.64" width="4.37" height="4.37" fill="#fff" stroke="#000000" stroke-width="0.75"/>
<rect x="161.77" y="394.26" width="2.56" height="5.12" fill="#000000"/>
<rect x="169.07" y="393.52" width="4.37" height="4.37" fill="#fff" stroke="#000000" stroke-width="0.75"/>
<rect x="168.70" y="393.14" width="2.56" height="5.12" fill="#000000"/>
<rect x="176.00" y="392.34" width="4.37" height="4.37" fill="#fff" stroke="#000000" stroke-width="0.75"/>
<rect x="175.62" y="391.96" width="2.56" height="5.12" fill="#000000"/>
<rect x="182.92" y="391.33" width="4.37" height="4.37" fill="#fff" stroke="#000000" stroke-width="0.75"/>
<rect x="182.55" y="390.95" width="2.56" height="5.12" fill="#000000"/>
<rect x="189.85" y="390.51" width="4.37" height="4.37" fill="#fff" stroke="#000000" stroke-width="0.75"/>
<rect x="189.47" y="390.14" width="2.56" height="5.12" fill="#000000"/>
<rect x="196.77" y="389.90" width="4.37" height="4.37" fill="#fff" stroke="#000000" stroke-width="0.75"/>
<rect x="196.40" y="389.52" width="2.56" height="5.12" fill="#000000"/>
<rect x="203.70" y="389.49" width="4.37" height="4.37" fill="#fff" stroke="#000000" stroke-width="0.75"/>
<rect x="203.32" y="389.12" width="2.56" height="5.12" fill="#000000"/>
<rect x="210.62" y="389.07" width="4.37" height="4.37" fill="#fff" stroke="#000000" stroke-width="0.75"/>
<rect x="210.25" y="388.70" width="2.56" height="5.12" fill="#000000"/>
<rect x="217.55" y="388.53" width="4.37" height="4.37" fill="#fff" stroke="#000000" stroke-width="0.75"/>
<rect x="217.17" y="388.16" width="2.56" height="5.12" fill="#000000"/>
<rect x="224.47" y="387.96" width="4.37" height="4.37" fill="#fff" stroke="#000000" stroke-width="0.75"/>
<rect x="224.10" y="387.59" width="2.56" height="5.12" fill="#000000"/>
<rect x="231.40" y="387.40" width="4.37" height="4.37" fill="#fff" stroke="#000000" stroke-width="0.75"/>
<rect x="231.02" y="387.03" width="2.56" height="5.12" fill="#000000"/>
<rect x="238.32" y="386.83" width="4.37" height="4.37" fill="#fff" stroke="#000000" stroke-width="0.75"/>
<rect x="237.95" y="386.45" width="2.56" height="5.12" fill="#000000"/>
<rect x="245.25" y="386.31" width="4.37" height="4.37" fill="#fff" stroke="#000000" stroke-width="0.75"/>
<rect x="244.87" y="385.94" width="2.56" height="5.12" fill="#000000"/>
<rect x="252.17" y="385.93" width="4.37" height="4.37" fill="#fff" stroke="#000000" stroke-width="0.75"/>
<rect x="251.80" y="385.55" width="2.56" height="5.12" fill="#000000"/>
<rect x="259.10" y="385.63" width="4.37" height="4.37" fill="#fff" stroke="#000000" stroke-width="0.75"/>
<rect x="258.72" y="385.25" width="2.56" height="5.12" fill="#000000"/>
<rect x="266.02" y="385.37" width="4.37" height="4.37" fill="#fff" stroke="#000000" stroke-width="0.75"/>
<rect x="265.65" y="385.00" width="2.56" height="5.12" fill="#000000"/>
<rect x="272.95" y="385.13" width="4.37" height="4.37" fill="#fff" stroke="#000000" stroke-width="0.75"/>
<rect x="272.57" y="384.76" width="2.56" height="5.12" fill="#000000"/>
<rect x="279.87" y="384.91" width="4.37" height="4.37" fill="#fff" stroke="#000000" stroke-width="0.75"/>
<rect x="279.50" y="384.53" width="2.56" height="5.12" fill="#000000"/>
<rect x="286.80" y="384.70" width="4.37" height="4.37" fill="#fff" stroke="#000000" stroke-width="0.75"/>
<rect x="286.42" y="384.33" width="2.56" height="5.12" fill="#000000"/>
<rect x="293.72" y="384.50" width="4.37" height="4.37" fill="#fff" stroke="#000000" stroke-width="0.75"/>
<rect x="293.35" y="384.12" width="2.56" height="5.12" fill="#000000"/>
<rect x="300.65" y="384.30" width="4.37" height="4.37" fill="#fff" stroke="#000000" stroke-width="0.75"/>
<rect x="300.27" y="383.92" width="2.56" height="5.12" fill="#000000"/>
<rect x="307.57" y="384.10" width="4.37" height="4.37" fill="#fff" stroke="#000000" stroke-width="0.75"/>
<rect x="307.20" y="383.73" width="2.56" height="5.12" fill="#000000"/>
<rect x="314.50" y="383.91" width="4.37" height="4.37" fill="#fff" stroke="#000000" stroke-width="0.75"/>
<rect x="314.12" y="383.53" width="2.56" height="5.12" fill="#000000"/>
<rect x="321.42" y="383.72" width="4.37" height="4.37" fill="#fff" stroke="#000000" stroke-width="0.75"/>
<rect x="321.05" y="383.35" width="2.56" height="5.12" fill="#000000"/>
<polyline points="53.53,427.25 60.46,420.81 67.38,414.51 74.31,406.81 81.23,400.68 88.16,396.00 95.08,391.12 102.01,385.97 108.93,381.34 115.86,377.52 122.78,374.06 129.71,369.86 136.63,366.66 143.56,363.86 150.48,360.66 157.41,357.75 164.33,355.28 171.26,353.01 178.18,350.88 185.11,348.84 192.03,346.74 198.96,345.02 205.88,343.80 212.81,342.63 219.73,341.35 226.66,340.06 233.58,338.75 240.51,337.40 247.43,336.15 254.36,335.13 261.28,334.29 268.21,333.54 275.13,332.79 282.06,331.99 288.98,331.18 295.91,330.50 302.83,330.01 309.76,329.58 316.68,329.24 323.61,329.01" fill="none" stroke="#ff0000" stroke-width="1.0" stroke-linejoin="round"/>
<circle cx="53.53" cy="427.25" r="2.30" fill="#fff" stroke="#ff0000" stroke-width="0.75"/>
<path d="M53.43,424.58 A2.67,2.67 0 0 0 53.43,429.93 Z" fill="#ff0000"/>
<circle cx="60.46" cy="420.81" r="2.30" fill="#fff" stroke="#ff0000" stroke-width="0.75"/>
<path d="M60.36,418.13 A2.67,2.67 0 0 0 60.36,423.49 Z" fill="#ff0000"/>
<circle cx="67.38" cy="414.51" r="2.30" fill="#fff" stroke="#ff0000" stroke-width="0.75"/>
<path d="M67.28,411.84 A2.67,2.67 0 0 0 67.28,417.19 Z" fill="#ff0000"/>
<circle cx="74.31" cy="406.81" r="2.30" fill="#fff" stroke="#ff0000" stroke-width="0.75"/>
<path d="M74.21,404.13 A2.67,2.67 0 0 0 74.21,409.48 Z" fill="#ff0000"/>
<circle cx="81.23" cy="400.68" r="2.30" fill="#fff" stroke="#ff0000" stroke-width="0.75"/>
<path d="M81.13,398.00 A2.67,2.67 0 0 0 81.13,403.35 Z" fill="#ff0000"/>
<circle cx="88.16" cy="396.00" r="2.30" fill="#fff" stroke="#ff0000" stroke-width="0.75"/>
<path d="M88.06,393.33 A2.67,2.67 0 0 0 88.06,398.68 Z" fill="#ff0000"/>
<circle cx="95.08" cy="391.12" r="2.30" fill="#fff" stroke="#ff0000" stroke-width="0.75"/>
<path d="M94.98,388.44 A2.67,2.67 0 0 0 94.98,393.79 Z" fill="#ff0000"/>
<circle cx="102.01" cy="385.97" r="2.30" fill="#fff" stroke="#ff0000" stroke-width="0.75"/>
<path d="M101.91,383.30 A2.67,2.67 0 0 0 101.91,388.65 Z" fill="#ff0000"/>
<circle cx="108.93" cy="381.34" r="2.30" fill="#fff" stroke="#ff0000" stroke-width="0.75"/>
<path d="M108.83,378.67 A2.67,2.67 0 0 0 108.83,384.02 Z" fill="#ff0000"/>
<circle cx="115.86" cy="377.52" r="2.30" fill="#fff" stroke="#ff0000" stroke-width="0.75"/>
<path d="M115.76,374.84 A2.67,2.67 0 0 0 115.76,380.19 Z" fill="#ff0000"/>
<circle cx="122.78" cy="374.06" r="2.30" fill="#fff" stroke="#ff0000" stroke-width="0.75"/>
<path d="M122.68,371.39 A2.67,2.67 0 0 0 122.68,376.74 Z" fill="#ff0000"/>
<circle cx="129.71" cy="369.86" r="2.30" fill="#fff" stroke="#ff0000" stroke-width="0.75"/>
<path d="M129.61,367.18 A2.67,2.67 0 0 0 129.61,372.53 Z" fill="#ff0000"/>
<circle cx="136.63" cy="366.66" r="2.30" fill="#fff" stroke="#ff0000" stroke-width="0.75"/>
<path d="M136.53,363.99 A2.67,2.67 0 0 0 136.53,369.34 Z" fill="#ff0000"/>
<circle cx="143.56" cy="363.86" r="2.30" fill="#fff" stroke="#ff0000" stroke-width="0.75"/>
<path d="M143.46,361.19 A2.67,2.67 0 0 0 143.46,366.54 Z" fill="#ff0000"/>
<circle cx="150.48" cy="360.66" r="2.30" fill="#fff" stroke="#ff0000" stroke-width="0.75"/>
<path d="M150.38,357.99 A2.67,2.67 0 0 0 150.38,363.34 Z" fill="#ff0000"/>
<circle cx="157.41" cy="357.75" r="2.30" fill="#fff" stroke="#ff0000" stroke-width="0.75"/>
<path d="M157.31,355.08 A2.67,2.67 0 0 0 157.31,360.43 Z" fill="#ff0000"/>
<circle cx="164.33" cy="355.28" r="2.30" fill="#fff" stroke="#ff0000" stroke-width="0.75"/>
<path d="M164.23,352.61 A2.67,2.67 0 0 0 164.23,357.96 Z" fill="#ff0000"/>
<circle cx="171.26" cy="353.01" r="2.30" fill="#fff" stroke="#ff0000" stroke-width="0.75"/>
<path d="M171.16,350.33 A2.67,2.67 0 0 0 171.16,355.68 Z" fill="#ff0000"/>
<circle cx="178.18" cy="350.88" r="2.30" fill="#fff" stroke="#ff0000" stroke-width="0.75"/>
<path d="M178.08,348.21 A2.67,2.67 0 0 0 178.08,353.56 Z" fill="#ff0000"/>
<circle cx="185.11" cy="348.84" r="2.30" fill="#fff" stroke="#ff0000" stroke-width="0.75"/>
<path d="M185.01,346.16 A2.67,2.67 0 0 0 185.01,351.51 Z" fill="#ff0000"/>
<circle cx="192.03" cy="346.74" r="2.30" fill="#fff" stroke="#ff0000" stroke-width="0.75"/>
<path d="M191.93,344.07 A2.67,2.67 0 0 0 191.93,349.42 Z" fill="#ff0000"/>
<circle cx="198.96" cy="345.02" r="2.30" fill="#fff" stroke="#ff0000" stroke-width="0.75"/>
<path d="M198.86,342.35 A2.67,2.67 0 0 0 198.86,347.70 Z" fill="#ff0000"/>
<circle cx="205.88" cy="343.80" r="2.30" fill="#fff" stroke="#ff0000" stroke-width="0.75"/>
<path d="M205.78,341.13 A2.67,2.67 0 0 0 205.78,346.48 Z" fill="#ff0000"/>
<circle cx="212.81" cy="342.63" r="2.30" fill="#fff" stroke="#ff0000" stroke-width="0.75"/>
<path d="M212.71,339.96 A2.67,2.67 0 0 0 212.71,345.31 Z" fill="#ff0000"/>
<circle cx="219.73" cy="341.35" r="2.30" fill="#fff" stroke="#ff0000" stroke-width="0.75"/>
<path d="M219.63,338.68 A2.67,2.67 0 0 0 219.63,344.03 Z" fill="#ff0000"/>
<circle cx="226.66" cy="340.06" r="2.30" fill="#fff" stroke="#ff0000" stroke-width="0.75"/>
<path d="M226.56,337.38 A2.67,2.67 0 0 0 226.56,342.73 Z" fill="#ff0000"/>
<circle cx="233.58" cy="338.75" r="2.30" fill="#fff" stroke="#ff0000" stroke-width="0.75"/>
<path d="M233.48,336.07 A2.67,2.67 0 0 0 233.48,341.42 Z" fill="#ff0000"/>
<circle cx="240.51" cy="337.40" r="2.30" fill="#fff" stroke="#ff0000" stroke-width="0.75"/>
<path d="M240.41,334.72 A2.67,2.67 0 0 0 240.41,340.07 Z" fill="#ff0000"/>
<circle cx="247.43" cy="336.15" r="2.30" fill="#fff" stroke="#ff0000" stroke-width="0.75"/>
<path d="M247.33,333.48 A2.67,2.67 0 0 0 247.33,338.83 Z" fill="#ff0000"/>
<circle cx="254.36" cy="335.13" r="2.30" fill="#fff" stroke="#ff0000" stroke-width="0.75"/>
<path d="M254.26,332.46 A2.67,2.67 0 0 0 254.26,337.81 Z" fill="#ff0000"/>
<circle cx="261.28" cy="334.29" r="2.30" fill="#fff" stroke="#ff0000" stroke-width="0.75"/>
<path d="M261.18,331.62 A2.67,2.67 0 0 0 261.18,336.97 Z" fill="#ff0000"/>
<circle cx="268.21" cy="333.54" r="2.30" fill="#fff" stroke="#ff0000" stroke-width="0.75"/>
<path d="M268.11,330.86 A2.67,2.67 0 0 0 268.11,336.21 Z" fill="#ff0000"/>
<circle cx="275.13" cy="332.79" r="2.30" fill="#fff" stroke="#ff0000" stroke-width="0.75"/>
<path d="M275.03,330.12 A2.67,2.67 0 0 0 275.03,335.47 Z" fill="#ff0000"/>
<circle cx="282.06" cy="331.99" r="2.30" fill="#fff" stroke="#ff0000" stroke-width="0.75"/>
<path d="M281.96,329.31 A2.67,2.67 0 0 0 281.96,334.66 Z" fill="#ff0000"/>
<circle cx="288.98" cy="331.18" r="2.30" fill="#fff" stroke="#ff0000" stroke-width="0.75"/>
<path d="M288.88,328.51 A2.67,2.67 0 0 0 288.88,333.86 Z" fill="#ff0000"/>
<circle cx="295.91" cy="330.50" r="2.30" fill="#fff" stroke="#ff0000" stroke-width="0.75"/>
<path d="M295.81,327.82 A2.67,2.67 0 0 0 295.81,333.17 Z" fill="#ff0000"/>
<circle cx="302.83" cy="330.01" r="2.30" fill="#fff" stroke="#ff0000" stroke-width="0.75"/>
<path d="M302.73,327.33 A2.67,2.67 0 0 0 302.73,332.68 Z" fill="#ff0000"/>
<circle cx="309.76" cy="329.58" r="2.30" fill="#fff" stroke="#ff0000" stroke-width="0.75"/>
<path d="M309.66,326.91 A2.67,2.67 0 0 0 309.66,332.26 Z" fill="#ff0000"/>
<circle cx="316.68" cy="329.24" r="2.30" fill="#fff" stroke="#ff0000" stroke-width="0.75"/>
<path d="M316.58,326.57 A2.67,2.67 0 0 0 316.58,331.92 Z" fill="#ff0000"/>
<circle cx="323.61" cy="329.01" r="2.30" fill="#fff" stroke="#ff0000" stroke-width="0.75"/>
<path d="M323.51,326.34 A2.67,2.67 0 0 0 323.51,331.69 Z" fill="#ff0000"/>
<polyline points="52.84,436.34 59.77,429.32 66.69,422.16 73.61,416.59 80.54,410.39 87.47,405.46 94.39,400.47 101.31,396.26 108.24,393.10 115.17,389.92 122.09,387.54 129.01,385.22 135.94,382.77 142.87,380.64 149.79,377.99 156.72,375.39 163.64,373.11 170.56,371.20 177.49,369.72 184.42,368.45 191.34,367.30 198.26,366.34 205.19,365.61 212.12,364.97 219.04,364.37 225.97,363.77 232.89,363.00 239.81,362.05 246.74,361.09 253.67,360.25 260.59,359.47 267.51,358.75 274.44,358.17 281.36,357.72 288.29,357.34 295.21,357.03 302.14,356.79 309.06,356.58 315.99,356.40 322.91,356.28" fill="none" stroke="#0000ff" stroke-width="1.0" stroke-linejoin="round"/>
<path d="M52.84,433.70 L55.37,438.53 L50.31,438.53 Z" fill="#fff" stroke="#0000ff" stroke-width="0.75" stroke-linejoin="round"/>
<path d="M52.84,433.40 L52.84,438.90 L49.93,438.90 Z" fill="#0000ff"/>
<path d="M59.77,426.67 L62.30,431.50 L57.23,431.50 Z" fill="#fff" stroke="#0000ff" stroke-width="0.75" stroke-linejoin="round"/>
<path d="M59.77,426.37 L59.77,431.88 L56.86,431.88 Z" fill="#0000ff"/>
<path d="M66.69,419.52 L69.22,424.35 L64.16,424.35 Z" fill="#fff" stroke="#0000ff" stroke-width="0.75" stroke-linejoin="round"/>
<path d="M66.69,419.22 L66.69,424.72 L63.78,424.72 Z" fill="#0000ff"/>
<path d="M73.61,413.95 L76.14,418.78 L71.08,418.78 Z" fill="#fff" stroke="#0000ff" stroke-width="0.75" stroke-linejoin="round"/>
<path d="M73.61,413.65 L73.61,419.15 L70.71,419.15 Z" fill="#0000ff"/>
<path d="M80.54,407.74 L83.07,412.57 L78.01,412.57 Z" fill="#fff" stroke="#0000ff" stroke-width="0.75" stroke-linejoin="round"/>
<path d="M80.54,407.44 L80.54,412.95 L77.63,412.95 Z" fill="#0000ff"/>
<path d="M87.47,402.82 L90.00,407.65 L84.94,407.65 Z" fill="#fff" stroke="#0000ff" stroke-width="0.75" stroke-linejoin="round"/>
<path d="M87.47,402.52 L87.47,408.02 L84.56,408.02 Z" fill="#0000ff"/>
<path d="M94.39,397.83 L96.92,402.66 L91.86,402.66 Z" fill="#fff" stroke="#0000ff" stroke-width="0.75" stroke-linejoin="round"/>
<path d="M94.39,397.53 L94.39,403.03 L91.48,403.03 Z" fill="#0000ff"/>
<path d="M101.31,393.62 L103.84,398.45 L98.78,398.45 Z" fill="#fff" stroke="#0000ff" stroke-width="0.75" stroke-linejoin="round"/>
<path d="M101.31,393.32 L101.31,398.82 L98.41,398.82 Z" fill="#0000ff"/>
<path d="M108.24,390.46 L110.77,395.29 L105.71,395.29 Z" fill="#fff" stroke="#0000ff" stroke-width="0.75" stroke-linejoin="round"/>
<path d="M108.24,390.16 L108.24,395.66 L105.34,395.66 Z" fill="#0000ff"/>
<path d="M115.17,387.27 L117.70,392.10 L112.64,392.10 Z" fill="#fff" stroke="#0000ff" stroke-width="0.75" stroke-linejoin="round"/>
<path d="M115.17,386.97 L115.17,392.48 L112.26,392.48 Z" fill="#0000ff"/>
<path d="M122.09,384.89 L124.62,389.72 L119.56,389.72 Z" fill="#fff" stroke="#0000ff" stroke-width="0.75" stroke-linejoin="round"/>
<path d="M122.09,384.59 L122.09,390.10 L119.19,390.10 Z" fill="#0000ff"/>
<path d="M129.01,382.57 L131.54,387.40 L126.48,387.40 Z" fill="#fff" stroke="#0000ff" stroke-width="0.75" stroke-linejoin="round"/>
<path d="M129.01,382.27 L129.01,387.78 L126.11,387.78 Z" fill="#0000ff"/>
<path d="M135.94,380.13 L138.47,384.96 L133.41,384.96 Z" fill="#fff" stroke="#0000ff" stroke-width="0.75" stroke-linejoin="round"/>
<path d="M135.94,379.83 L135.94,385.33 L133.03,385.33 Z" fill="#0000ff"/>
<path d="M142.87,378.00 L145.40,382.83 L140.34,382.83 Z" fill="#fff" stroke="#0000ff" stroke-width="0.75" stroke-linejoin="round"/>
<path d="M142.87,377.70 L142.87,383.20 L139.96,383.20 Z" fill="#0000ff"/>
<path d="M149.79,375.34 L152.32,380.17 L147.26,380.17 Z" fill="#fff" stroke="#0000ff" stroke-width="0.75" stroke-linejoin="round"/>
<path d="M149.79,375.04 L149.79,380.55 L146.89,380.55 Z" fill="#0000ff"/>
<path d="M156.72,372.75 L159.25,377.58 L154.19,377.58 Z" fill="#fff" stroke="#0000ff" stroke-width="0.75" stroke-linejoin="round"/>
<path d="M156.72,372.45 L156.72,377.95 L153.81,377.95 Z" fill="#0000ff"/>
<path d="M163.64,370.46 L166.17,375.29 L161.11,375.29 Z" fill="#fff" stroke="#0000ff" stroke-width="0.75" stroke-linejoin="round"/>
<path d="M163.64,370.16 L163.64,375.67 L160.73,375.67 Z" fill="#0000ff"/>
<path d="M170.56,368.55 L173.09,373.38 L168.03,373.38 Z" fill="#fff" stroke="#0000ff" stroke-width="0.75" stroke-linejoin="round"/>
<path d="M170.56,368.25 L170.56,373.76 L167.66,373.76 Z" fill="#0000ff"/>
<path d="M177.49,367.07 L180.02,371.90 L174.96,371.90 Z" fill="#fff" stroke="#0000ff" stroke-width="0.75" stroke-linejoin="round"/>
<path d="M177.49,366.77 L177.49,372.28 L174.59,372.28 Z" fill="#0000ff"/>
<path d="M184.42,365.80 L186.95,370.63 L181.89,370.63 Z" fill="#fff" stroke="#0000ff" stroke-width="0.75" stroke-linejoin="round"/>
<path d="M184.42,365.50 L184.42,371.01 L181.51,371.01 Z" fill="#0000ff"/>
<path d="M191.34,364.65 L193.87,369.48 L188.81,369.48 Z" fill="#fff" stroke="#0000ff" stroke-width="0.75" stroke-linejoin="round"/>
<path d="M191.34,364.35 L191.34,369.86 L188.44,369.86 Z" fill="#0000ff"/>
<path d="M198.26,363.70 L200.79,368.53 L195.73,368.53 Z" fill="#fff" stroke="#0000ff" stroke-width="0.75" stroke-linejoin="round"/>
<path d="M198.26,363.40 L198.26,368.90 L195.36,368.90 Z" fill="#0000ff"/>
<path d="M205.19,362.97 L207.72,367.80 L202.66,367.80 Z" fill="#fff" stroke="#0000ff" stroke-width="0.75" stroke-linejoin="round"/>
<path d="M205.19,362.67 L205.19,368.17 L202.28,368.17 Z" fill="#0000ff"/>
<path d="M212.12,362.32 L214.65,367.15 L209.59,367.15 Z" fill="#fff" stroke="#0000ff" stroke-width="0.75" stroke-linejoin="round"/>
<path d="M212.12,362.02 L212.12,367.53 L209.21,367.53 Z" fill="#0000ff"/>
<path d="M219.04,361.73 L221.57,366.56 L216.51,366.56 Z" fill="#fff" stroke="#0000ff" stroke-width="0.75" stroke-linejoin="round"/>
<path d="M219.04,361.43 L219.04,366.93 L216.14,366.93 Z" fill="#0000ff"/>
<path d="M225.97,361.12 L228.50,365.95 L223.44,365.95 Z" fill="#fff" stroke="#0000ff" stroke-width="0.75" stroke-linejoin="round"/>
<path d="M225.97,360.82 L225.97,366.33 L223.06,366.33 Z" fill="#0000ff"/>
<path d="M232.89,360.35 L235.42,365.18 L230.36,365.18 Z" fill="#fff" stroke="#0000ff" stroke-width="0.75" stroke-linejoin="round"/>
<path d="M232.89,360.05 L232.89,365.56 L229.98,365.56 Z" fill="#0000ff"/>
<path d="M239.81,359.41 L242.34,364.24 L237.28,364.24 Z" fill="#fff" stroke="#0000ff" stroke-width="0.75" stroke-linejoin="round"/>
<path d="M239.81,359.11 L239.81,364.61 L236.91,364.61 Z" fill="#0000ff"/>
<path d="M246.74,358.44 L249.27,363.27 L244.21,363.27 Z" fill="#fff" stroke="#0000ff" stroke-width="0.75" stroke-linejoin="round"/>
<path d="M246.74,358.14 L246.74,363.65 L243.84,363.65 Z" fill="#0000ff"/>
<path d="M253.67,357.60 L256.19,362.43 L251.14,362.43 Z" fill="#fff" stroke="#0000ff" stroke-width="0.75" stroke-linejoin="round"/>
<path d="M253.67,357.30 L253.67,362.81 L250.76,362.81 Z" fill="#0000ff"/>
<path d="M260.59,356.82 L263.12,361.65 L258.06,361.65 Z" fill="#fff" stroke="#0000ff" stroke-width="0.75" stroke-linejoin="round"/>
<path d="M260.59,356.52 L260.59,362.03 L257.69,362.03 Z" fill="#0000ff"/>
<path d="M267.51,356.11 L270.04,360.94 L264.99,360.94 Z" fill="#fff" stroke="#0000ff" stroke-width="0.75" stroke-linejoin="round"/>
<path d="M267.51,355.81 L267.51,361.31 L264.61,361.31 Z" fill="#0000ff"/>
<path d="M274.44,355.53 L276.97,360.36 L271.91,360.36 Z" fill="#fff" stroke="#0000ff" stroke-width="0.75" stroke-linejoin="round"/>
<path d="M274.44,355.23 L274.44,360.73 L271.53,360.73 Z" fill="#0000ff"/>
<path d="M281.36,355.08 L283.89,359.91 L278.83,359.91 Z" fill="#fff" stroke="#0000ff" stroke-width="0.75" stroke-linejoin="round"/>
<path d="M281.36,354.78 L281.36,360.28 L278.46,360.28 Z" fill="#0000ff"/>
<path d="M288.29,354.70 L290.82,359.53 L285.76,359.53 Z" fill="#fff" stroke="#0000ff" stroke-width="0.75" stroke-linejoin="round"/>
<path d="M288.29,354.40 L288.29,359.90 L285.38,359.90 Z" fill="#0000ff"/>
<path d="M295.21,354.39 L297.74,359.22 L292.69,359.22 Z" fill="#fff" stroke="#0000ff" stroke-width="0.75" stroke-linejoin="round"/>
<path d="M295.21,354.09 L295.21,359.59 L292.31,359.59 Z" fill="#0000ff"/>
<path d="M302.14,354.15 L304.67,358.98 L299.61,358.98 Z" fill="#fff" stroke="#0000ff" stroke-width="0.75" stroke-linejoin="round"/>
<path d="M302.14,353.85 L302.14,359.35 L299.24,359.35 Z" fill="#0000ff"/>
<path d="M309.06,353.93 L311.59,358.76 L306.54,358.76 Z" fill="#fff" stroke="#0000ff" stroke-width="0.75" stroke-linejoin="round"/>
<path d="M309.06,353.63 L309.06,359.14 L306.16,359.14 Z" fill="#0000ff"/>
<path d="M315.99,353.76 L318.52,358.59 L313.46,358.59 Z" fill="#fff" stroke="#0000ff" stroke-width="0.75" stroke-linejoin="round"/>
<path d="M315.99,353.46 L315.99,358.96 L313.08,358.96 Z" fill="#0000ff"/>
<path d="M322.91,353.63 L325.44,358.46 L320.38,358.46 Z" fill="#fff" stroke="#0000ff" stroke-width="0.75" stroke-linejoin="round"/>
<path d="M322.91,353.33 L322.91,358.84 L320.01,358.84 Z" fill="#0000ff"/>
<polyline points="52.84,429.20 59.77,411.51 66.69,397.20 73.61,383.24 80.54,372.29 87.47,363.56 94.39,355.22 101.31,347.31 108.24,341.26 115.17,335.18 122.09,329.37 129.01,323.88 135.94,318.66 142.87,313.77 149.79,309.15 156.72,305.05 163.64,301.51 170.56,298.29 177.49,295.28 184.42,292.53 191.34,290.08 198.26,287.76 205.19,285.47 212.12,283.33 219.04,281.41 225.97,279.63 232.89,277.95 239.81,276.35 246.74,274.83 253.67,273.41 260.59,272.05 267.51,270.77 274.44,269.64 281.36,268.67 288.29,267.81 295.21,267.00 302.14,266.19 309.06,265.40 315.99,264.63 322.91,263.88" fill="none" stroke="#ff00ff" stroke-width="1.0" stroke-linejoin="round"/>
<path d="M52.84,431.85 L55.37,427.02 L50.31,427.02 Z" fill="#fff" stroke="#ff00ff" stroke-width="0.75" stroke-linejoin="round"/>
<path d="M52.84,432.15 L52.84,426.64 L49.93,426.64 Z" fill="#ff00ff"/>
<path d="M59.77,414.15 L62.30,409.32 L57.23,409.32 Z" fill="#fff" stroke="#ff00ff" stroke-width="0.75" stroke-linejoin="round"/>
<path d="M59.77,414.45 L59.77,408.95 L56.86,408.95 Z" fill="#ff00ff"/>
<path d="M66.69,399.84 L69.22,395.01 L64.16,395.01 Z" fill="#fff" stroke="#ff00ff" stroke-width="0.75" stroke-linejoin="round"/>
<path d="M66.69,400.14 L66.69,394.64 L63.78,394.64 Z" fill="#ff00ff"/>
<path d="M73.61,385.89 L76.14,381.06 L71.08,381.06 Z" fill="#fff" stroke="#ff00ff" stroke-width="0.75" stroke-linejoin="round"/>
<path d="M73.61,386.19 L73.61,380.68 L70.71,380.68 Z" fill="#ff00ff"/>
<path d="M80.54,374.94 L83.07,370.11 L78.01,370.11 Z" fill="#fff" stroke="#ff00ff" stroke-width="0.75" stroke-linejoin="round"/>
<path d="M80.54,375.24 L80.54,369.73 L77.63,369.73 Z" fill="#ff00ff"/>
<path d="M87.47,366.21 L90.00,361.38 L84.94,361.38 Z" fill="#fff" stroke="#ff00ff" stroke-width="0.75" stroke-linejoin="round"/>
<path d="M87.47,366.51 L87.47,361.00 L84.56,361.00 Z" fill="#ff00ff"/>
<path d="M94.39,357.86 L96.92,353.03 L91.86,353.03 Z" fill="#fff" stroke="#ff00ff" stroke-width="0.75" stroke-linejoin="round"/>
<path d="M94.39,358.16 L94.39,352.66 L91.48,352.66 Z" fill="#ff00ff"/>
<path d="M101.31,349.95 L103.84,345.12 L98.78,345.12 Z" fill="#fff" stroke="#ff00ff" stroke-width="0.75" stroke-linejoin="round"/>
<path d="M101.31,350.25 L101.31,344.75 L98.41,344.75 Z" fill="#ff00ff"/>
<path d="M108.24,343.91 L110.77,339.08 L105.71,339.08 Z" fill="#fff" stroke="#ff00ff" stroke-width="0.75" stroke-linejoin="round"/>
<path d="M108.24,344.21 L108.24,338.70 L105.34,338.70 Z" fill="#ff00ff"/>
<path d="M115.17,337.82 L117.70,332.99 L112.64,332.99 Z" fill="#fff" stroke="#ff00ff" stroke-width="0.75" stroke-linejoin="round"/>
<path d="M115.17,338.12 L115.17,332.62 L112.26,332.62 Z" fill="#ff00ff"/>
<path d="M122.09,332.02 L124.62,327.19 L119.56,327.19 Z" fill="#fff" stroke="#ff00ff" stroke-width="0.75" stroke-linejoin="round"/>
<path d="M122.09,332.32 L122.09,326.81 L119.19,326.81 Z" fill="#ff00ff"/>
<path d="M129.01,326.53 L131.54,321.70 L126.48,321.70 Z" fill="#fff" stroke="#ff00ff" stroke-width="0.75" stroke-linejoin="round"/>
<path d="M129.01,326.83 L129.01,321.32 L126.11,321.32 Z" fill="#ff00ff"/>
<path d="M135.94,321.30 L138.47,316.47 L133.41,316.47 Z" fill="#fff" stroke="#ff00ff" stroke-width="0.75" stroke-linejoin="round"/>
<path d="M135.94,321.60 L135.94,316.10 L133.03,316.10 Z" fill="#ff00ff"/>
<path d="M142.87,316.41 L145.40,311.58 L140.34,311.58 Z" fill="#fff" stroke="#ff00ff" stroke-width="0.75" stroke-linejoin="round"/>
<path d="M142.87,316.71 L142.87,311.21 L139.96,311.21 Z" fill="#ff00ff"/>
<path d="M149.79,311.79 L152.32,306.96 L147.26,306.96 Z" fill="#fff" stroke="#ff00ff" stroke-width="0.75" stroke-linejoin="round"/>
<path d="M149.79,312.09 L149.79,306.59 L146.89,306.59 Z" fill="#ff00ff"/>
<path d="M156.72,307.69 L159.25,302.86 L154.19,302.86 Z" fill="#fff" stroke="#ff00ff" stroke-width="0.75" stroke-linejoin="round"/>
<path d="M156.72,307.99 L156.72,302.49 L153.81,302.49 Z" fill="#ff00ff"/>
<path d="M163.64,304.15 L166.17,299.32 L161.11,299.32 Z" fill="#fff" stroke="#ff00ff" stroke-width="0.75" stroke-linejoin="round"/>
<path d="M163.64,304.45 L163.64,298.95 L160.73,298.95 Z" fill="#ff00ff"/>
<path d="M170.56,300.93 L173.09,296.10 L168.03,296.10 Z" fill="#fff" stroke="#ff00ff" stroke-width="0.75" stroke-linejoin="round"/>
<path d="M170.56,301.23 L170.56,295.73 L167.66,295.73 Z" fill="#ff00ff"/>
<path d="M177.49,297.92 L180.02,293.09 L174.96,293.09 Z" fill="#fff" stroke="#ff00ff" stroke-width="0.75" stroke-linejoin="round"/>
<path d="M177.49,298.22 L177.49,292.72 L174.59,292.72 Z" fill="#ff00ff"/>
<path d="M184.42,295.17 L186.95,290.34 L181.89,290.34 Z" fill="#fff" stroke="#ff00ff" stroke-width="0.75" stroke-linejoin="round"/>
<path d="M184.42,295.47 L184.42,289.97 L181.51,289.97 Z" fill="#ff00ff"/>
<path d="M191.34,292.72 L193.87,287.89 L188.81,287.89 Z" fill="#fff" stroke="#ff00ff" stroke-width="0.75" stroke-linejoin="round"/>
<path d="M191.34,293.02 L191.34,287.52 L188.44,287.52 Z" fill="#ff00ff"/>
<path d="M198.26,290.41 L200.79,285.58 L195.73,285.58 Z" fill="#fff" stroke="#ff00ff" stroke-width="0.75" stroke-linejoin="round"/>
<path d="M198.26,290.71 L198.26,285.20 L195.36,285.20 Z" fill="#ff00ff"/>
<path d="M205.19,288.12 L207.72,283.29 L202.66,283.29 Z" fill="#fff" stroke="#ff00ff" stroke-width="0.75" stroke-linejoin="round"/>
<path d="M205.19,288.42 L205.19,282.91 L202.28,282.91 Z" fill="#ff00ff"/>
<path d="M212.12,285.98 L214.65,281.15 L209.59,281.15 Z" fill="#fff" stroke="#ff00ff" stroke-width="0.75" stroke-linejoin="round"/>
<path d="M212.12,286.28 L212.12,280.77 L209.21,280.77 Z" fill="#ff00ff"/>
<path d="M219.04,284.06 L221.57,279.23 L216.51,279.23 Z" fill="#fff" stroke="#ff00ff" stroke-width="0.75" stroke-linejoin="round"/>
<path d="M219.04,284.36 L219.04,278.85 L216.14,278.85 Z" fill="#ff00ff"/>
<path d="M225.97,282.28 L228.50,277.45 L223.44,277.45 Z" fill="#fff" stroke="#ff00ff" stroke-width="0.75" stroke-linejoin="round"/>
<path d="M225.97,282.58 L225.97,277.07 L223.06,277.07 Z" fill="#ff00ff"/>
<path d="M232.89,280.60 L235.42,275.77 L230.36,275.77 Z" fill="#fff" stroke="#ff00ff" stroke-width="0.75" stroke-linejoin="round"/>
<path d="M232.89,280.90 L232.89,275.39 L229.98,275.39 Z" fill="#ff00ff"/>
<path d="M239.81,278.99 L242.34,274.16 L237.28,274.16 Z" fill="#fff" stroke="#ff00ff" stroke-width="0.75" stroke-linejoin="round"/>
<path d="M239.81,279.29 L239.81,273.79 L236.91,273.79 Z" fill="#ff00ff"/>
<path d="M246.74,277.47 L249.27,272.64 L244.21,272.64 Z" fill="#fff" stroke="#ff00ff" stroke-width="0.75" stroke-linejoin="round"/>
<path d="M246.74,277.77 L246.74,272.27 L243.84,272.27 Z" fill="#ff00ff"/>
<path d="M253.67,276.05 L256.19,271.22 L251.14,271.22 Z" fill="#fff" stroke="#ff00ff" stroke-width="0.75" stroke-linejoin="round"/>
<path d="M253.67,276.35 L253.67,270.85 L250.76,270.85 Z" fill="#ff00ff"/>
<path d="M260.59,274.69 L263.12,269.86 L258.06,269.86 Z" fill="#fff" stroke="#ff00ff" stroke-width="0.75" stroke-linejoin="round"/>
<path d="M260.59,274.99 L260.59,269.49 L257.69,269.49 Z" fill="#ff00ff"/>
<path d="M267.51,273.41 L270.04,268.58 L264.99,268.58 Z" fill="#fff" stroke="#ff00ff" stroke-width="0.75" stroke-linejoin="round"/>
<path d="M267.51,273.71 L267.51,268.21 L264.61,268.21 Z" fill="#ff00ff"/>
<path d="M274.44,272.28 L276.97,267.45 L271.91,267.45 Z" fill="#fff" stroke="#ff00ff" stroke-width="0.75" stroke-linejoin="round"/>
<path d="M274.44,272.58 L274.44,267.08 L271.53,267.08 Z" fill="#ff00ff"/>
<path d="M281.36,271.31 L283.89,266.48 L278.83,266.48 Z" fill="#fff" stroke="#ff00ff" stroke-width="0.75" stroke-linejoin="round"/>
<path d="M281.36,271.61 L281.36,266.11 L278.46,266.11 Z" fill="#ff00ff"/>
<path d="M288.29,270.46 L290.82,265.63 L285.76,265.63 Z" fill="#fff" stroke="#ff00ff" stroke-width="0.75" stroke-linejoin="round"/>
<path d="M288.29,270.76 L288.29,265.25 L285.38,265.25 Z" fill="#ff00ff"/>
<path d="M295.21,269.65 L297.74,264.82 L292.69,264.82 Z" fill="#fff" stroke="#ff00ff" stroke-width="0.75" stroke-linejoin="round"/>
<path d="M295.21,269.95 L295.21,264.44 L292.31,264.44 Z" fill="#ff00ff"/>
<path d="M302.14,268.84 L304.67,264.01 L299.61,264.01 Z" fill="#fff" stroke="#ff00ff" stroke-width="0.75" stroke-linejoin="round"/>
<path d="M302.14,269.14 L302.14,263.63 L299.24,263.63 Z" fill="#ff00ff"/>
<path d="M309.06,268.04 L311.59,263.21 L306.54,263.21 Z" fill="#fff" stroke="#ff00ff" stroke-width="0.75" stroke-linejoin="round"/>
<path d="M309.06,268.34 L309.06,262.84 L306.16,262.84 Z" fill="#ff00ff"/>
<path d="M315.99,267.27 L318.52,262.44 L313.46,262.44 Z" fill="#fff" stroke="#ff00ff" stroke-width="0.75" stroke-linejoin="round"/>
<path d="M315.99,267.57 L315.99,262.07 L313.08,262.07 Z" fill="#ff00ff"/>
<path d="M322.91,266.53 L325.44,261.70 L320.38,261.70 Z" fill="#fff" stroke="#ff00ff" stroke-width="0.75" stroke-linejoin="round"/>
<path d="M322.91,266.83 L322.91,261.32 L320.01,261.32 Z" fill="#ff00ff"/>
<rect x="47.00" y="242.30" width="277.30" height="196.40" fill="none" stroke="#000" stroke-width="1.5"/>
<line x1="43.30" y1="438.70" x2="47.30" y2="438.70" stroke="#000" stroke-width="1.3"/>
<line x1="43.30" y1="402.92" x2="47.30" y2="402.92" stroke="#000" stroke-width="1.3"/>
<line x1="43.30" y1="367.14" x2="47.30" y2="367.14" stroke="#000" stroke-width="1.3"/>
<line x1="43.30" y1="331.36" x2="47.30" y2="331.36" stroke="#000" stroke-width="1.3"/>
<line x1="43.30" y1="295.58" x2="47.30" y2="295.58" stroke="#000" stroke-width="1.3"/>
<line x1="43.30" y1="259.80" x2="47.30" y2="259.80" stroke="#000" stroke-width="1.3"/>
<line x1="45.30" y1="420.81" x2="47.30" y2="420.81" stroke="#000" stroke-width="1.3"/>
<line x1="45.30" y1="385.03" x2="47.30" y2="385.03" stroke="#000" stroke-width="1.3"/>
<line x1="45.30" y1="349.25" x2="47.30" y2="349.25" stroke="#000" stroke-width="1.3"/>
<line x1="45.30" y1="313.47" x2="47.30" y2="313.47" stroke="#000" stroke-width="1.3"/>
<line x1="45.30" y1="277.69" x2="47.30" y2="277.69" stroke="#000" stroke-width="1.3"/>
<line x1="45.30" y1="241.91" x2="47.30" y2="241.91" stroke="#000" stroke-width="1.3"/>
<text transform="translate(41.00,442.30) scale(1.1,1)" font-size="10" text-anchor="end" fill="#000">0</text>
<text transform="translate(41.00,406.52) scale(1.1,1)" font-size="10" text-anchor="end" fill="#000">5</text>
<text transform="translate(41.00,370.74) scale(1.1,1)" font-size="10" text-anchor="end" fill="#000">10</text>
<text transform="translate(41.00,334.96) scale(1.1,1)" font-size="10" text-anchor="end" fill="#000">15</text>
<text transform="translate(41.00,299.18) scale(1.1,1)" font-size="10" text-anchor="end" fill="#000">20</text>
<text transform="translate(41.00,263.40) scale(1.1,1)" font-size="10" text-anchor="end" fill="#000">25</text>
<line x1="47.30" y1="438.70" x2="47.30" y2="442.70" stroke="#000" stroke-width="1.3"/>
<line x1="81.92" y1="438.70" x2="81.92" y2="442.70" stroke="#000" stroke-width="1.3"/>
<line x1="116.55" y1="438.70" x2="116.55" y2="442.70" stroke="#000" stroke-width="1.3"/>
<line x1="151.18" y1="438.70" x2="151.18" y2="442.70" stroke="#000" stroke-width="1.3"/>
<line x1="185.80" y1="438.70" x2="185.80" y2="442.70" stroke="#000" stroke-width="1.3"/>
<line x1="220.43" y1="438.70" x2="220.43" y2="442.70" stroke="#000" stroke-width="1.3"/>
<line x1="255.05" y1="438.70" x2="255.05" y2="442.70" stroke="#000" stroke-width="1.3"/>
<line x1="289.68" y1="438.70" x2="289.68" y2="442.70" stroke="#000" stroke-width="1.3"/>
<line x1="324.30" y1="438.70" x2="324.30" y2="442.70" stroke="#000" stroke-width="1.3"/>
<line x1="64.61" y1="438.70" x2="64.61" y2="440.70" stroke="#000" stroke-width="1.3"/>
<line x1="99.24" y1="438.70" x2="99.24" y2="440.70" stroke="#000" stroke-width="1.3"/>
<line x1="133.86" y1="438.70" x2="133.86" y2="440.70" stroke="#000" stroke-width="1.3"/>
<line x1="168.49" y1="438.70" x2="168.49" y2="440.70" stroke="#000" stroke-width="1.3"/>
<line x1="203.11" y1="438.70" x2="203.11" y2="440.70" stroke="#000" stroke-width="1.3"/>
<line x1="237.74" y1="438.70" x2="237.74" y2="440.70" stroke="#000" stroke-width="1.3"/>
<line x1="272.36" y1="438.70" x2="272.36" y2="440.70" stroke="#000" stroke-width="1.3"/>
<line x1="306.99" y1="438.70" x2="306.99" y2="440.70" stroke="#000" stroke-width="1.3"/>
<text transform="translate(47.30,454.00) scale(1.1,1)" font-size="10" text-anchor="middle" fill="#000">0</text>
<text transform="translate(81.92,454.00) scale(1.1,1)" font-size="10" text-anchor="middle" fill="#000">5</text>
<text transform="translate(116.55,454.00) scale(1.1,1)" font-size="10" text-anchor="middle" fill="#000">10</text>
<text transform="translate(151.18,454.00) scale(1.1,1)" font-size="10" text-anchor="middle" fill="#000">15</text>
<text transform="translate(185.80,454.00) scale(1.1,1)" font-size="10" text-anchor="middle" fill="#000">20</text>
<text transform="translate(220.43,454.00) scale(1.1,1)" font-size="10" text-anchor="middle" fill="#000">25</text>
<text transform="translate(255.05,454.00) scale(1.1,1)" font-size="10" text-anchor="middle" fill="#000">30</text>
<text transform="translate(289.68,454.00) scale(1.1,1)" font-size="10" text-anchor="middle" fill="#000">35</text>
<text transform="translate(324.30,454.00) scale(1.1,1)" font-size="10" text-anchor="middle" fill="#000">40</text>
<text transform="translate(186.20,474.80) scale(1.04,1)" font-size="12.4" text-anchor="middle" fill="#000">Time(min)</text>
<path d="M20.62,365.22 L20.62,354.57 L11.58,359.90 Z" fill="none" stroke="#000" stroke-width="0.95" stroke-linejoin="miter"/>
<text transform="translate(21.10,353.00) rotate(-90)" font-size="13.2" text-anchor="start" fill="#000">T(°C)</text>
<text transform="translate(5.20,261.60)" font-size="26" text-anchor="start" fill="#000">C</text>
<line x1="53.30" y1="254.60" x2="76.50" y2="254.60" stroke="#000000" stroke-width="2.0"/>
<rect x="62.40" y="251.85" width="5.00" height="5.50" fill="#000000"/>
<rect x="65.03" y="252.97" width="1.38" height="3.25" fill="#fff"/>
<text transform="translate(79.00,258.20) scale(1.09,1)" font-size="10.5" text-anchor="start" fill="#000">H<tspan font-size="0.62em">2</tspan><tspan>O</tspan></text>
<line x1="53.30" y1="268.50" x2="76.50" y2="268.50" stroke="#ff0000" stroke-width="2.0"/>
<ellipse cx="64.90" cy="268.50" rx="2.38" ry="3.00" fill="#ff0000"/>
<ellipse cx="65.84" cy="268.50" rx="1.00" ry="2.00" fill="#fff"/>
<text transform="translate(79.00,272.10) scale(1.09,1)" font-size="10.5" text-anchor="start" fill="#000">Ag</text>
<line x1="53.30" y1="282.90" x2="76.50" y2="282.90" stroke="#0000ff" stroke-width="2.0"/>
<path d="M64.90,279.77 L67.78,285.27 L62.03,285.27 Z" fill="#fff" stroke="#0000ff" stroke-width="0.94" stroke-linejoin="round"/>
<path d="M64.90,279.77 L65.09,285.27 L62.03,285.27 Z" fill="#0000ff"/>
<text transform="translate(79.00,286.50) scale(1.09,1)" font-size="10.5" text-anchor="start" fill="#000">Ag<tspan font-size="0.62em">2</tspan><tspan>S</tspan></text>
<line x1="53.30" y1="296.80" x2="76.50" y2="296.80" stroke="#ff00ff" stroke-width="2.0"/>
<path d="M64.90,299.93 L67.78,294.43 L62.03,294.43 Z" fill="#fff" stroke="#ff00ff" stroke-width="0.94" stroke-linejoin="round"/>
<path d="M64.90,299.93 L65.09,294.43 L62.03,294.43 Z" fill="#ff00ff"/>
<text transform="translate(79.00,300.40) scale(1.09,1)" font-size="10.5" text-anchor="start" fill="#000">Ag@Ag<tspan font-size="0.62em">2</tspan><tspan>S</tspan></text>
<circle cx="384.30" cy="262.55" r="2.15" fill="none" stroke="#0000ff" stroke-width="1.1"/>
<circle cx="385.62" cy="266.60" r="2.15" fill="none" stroke="#0000ff" stroke-width="1.1"/>
<circle cx="386.94" cy="270.36" r="2.15" fill="none" stroke="#0000ff" stroke-width="1.1"/>
<circle cx="388.26" cy="273.86" r="2.15" fill="none" stroke="#0000ff" stroke-width="1.1"/>
<circle cx="389.58" cy="277.13" r="2.15" fill="none" stroke="#0000ff" stroke-width="1.1"/>
<circle cx="390.90" cy="280.19" r="2.15" fill="none" stroke="#0000ff" stroke-width="1.1"/>
<circle cx="392.22" cy="283.08" r="2.15" fill="none" stroke="#0000ff" stroke-width="1.1"/>
<circle cx="393.54" cy="285.82" r="2.15" fill="none" stroke="#0000ff" stroke-width="1.1"/>
<circle cx="394.86" cy="288.41" r="2.15" fill="none" stroke="#0000ff" stroke-width="1.1"/>
<circle cx="396.18" cy="290.88" r="2.15" fill="none" stroke="#0000ff" stroke-width="1.1"/>
<circle cx="397.50" cy="293.24" r="2.15" fill="none" stroke="#0000ff" stroke-width="1.1"/>
<circle cx="398.82" cy="295.51" r="2.15" fill="none" stroke="#0000ff" stroke-width="1.1"/>
<circle cx="400.14" cy="297.69" r="2.15" fill="none" stroke="#0000ff" stroke-width="1.1"/>
<circle cx="401.46" cy="299.79" r="2.15" fill="none" stroke="#0000ff" stroke-width="1.1"/>
<circle cx="402.78" cy="301.82" r="2.15" fill="none" stroke="#0000ff" stroke-width="1.1"/>
<circle cx="404.10" cy="303.78" r="2.15" fill="none" stroke="#0000ff" stroke-width="1.1"/>
<circle cx="405.42" cy="305.70" r="2.15" fill="none" stroke="#0000ff" stroke-width="1.1"/>
<circle cx="406.74" cy="307.55" r="2.15" fill="none" stroke="#0000ff" stroke-width="1.1"/>
<circle cx="408.06" cy="309.37" r="2.15" fill="none" stroke="#0000ff" stroke-width="1.1"/>
<circle cx="409.38" cy="311.13" r="2.15" fill="none" stroke="#0000ff" stroke-width="1.1"/>
<circle cx="410.70" cy="312.86" r="2.15" fill="none" stroke="#0000ff" stroke-width="1.1"/>
<circle cx="412.02" cy="314.55" r="2.15" fill="none" stroke="#0000ff" stroke-width="1.1"/>
<circle cx="413.34" cy="316.21" r="2.15" fill="none" stroke="#0000ff" stroke-width="1.1"/>
<circle cx="414.66" cy="317.84" r="2.15" fill="none" stroke="#0000ff" stroke-width="1.1"/>
<circle cx="415.98" cy="319.43" r="2.15" fill="none" stroke="#0000ff" stroke-width="1.1"/>
<circle cx="417.30" cy="321.00" r="2.15" fill="none" stroke="#0000ff" stroke-width="1.1"/>
<circle cx="418.62" cy="322.55" r="2.15" fill="none" stroke="#0000ff" stroke-width="1.1"/>
<circle cx="419.94" cy="324.06" r="2.15" fill="none" stroke="#0000ff" stroke-width="1.1"/>
<circle cx="421.26" cy="325.56" r="2.15" fill="none" stroke="#0000ff" stroke-width="1.1"/>
<circle cx="422.58" cy="327.03" r="2.15" fill="none" stroke="#0000ff" stroke-width="1.1"/>
<circle cx="423.90" cy="328.48" r="2.15" fill="none" stroke="#0000ff" stroke-width="1.1"/>
<circle cx="425.22" cy="329.91" r="2.15" fill="none" stroke="#0000ff" stroke-width="1.1"/>
<circle cx="426.54" cy="331.32" r="2.15" fill="none" stroke="#0000ff" stroke-width="1.1"/>
<circle cx="427.86" cy="332.71" r="2.15" fill="none" stroke="#0000ff" stroke-width="1.1"/>
<circle cx="429.18" cy="334.08" r="2.15" fill="none" stroke="#0000ff" stroke-width="1.1"/>
<circle cx="430.50" cy="335.44" r="2.15" fill="none" stroke="#0000ff" stroke-width="1.1"/>
<circle cx="431.82" cy="336.77" r="2.15" fill="none" stroke="#0000ff" stroke-width="1.1"/>
<circle cx="433.14" cy="338.09" r="2.15" fill="none" stroke="#0000ff" stroke-width="1.1"/>
<circle cx="434.46" cy="339.40" r="2.15" fill="none" stroke="#0000ff" stroke-width="1.1"/>
<circle cx="435.78" cy="340.68" r="2.15" fill="none" stroke="#0000ff" stroke-width="1.1"/>
<circle cx="437.10" cy="341.95" r="2.15" fill="none" stroke="#0000ff" stroke-width="1.1"/>
<circle cx="438.42" cy="343.21" r="2.15" fill="none" stroke="#0000ff" stroke-width="1.1"/>
<circle cx="439.74" cy="344.45" r="2.15" fill="none" stroke="#0000ff" stroke-width="1.1"/>
<circle cx="441.06" cy="345.68" r="2.15" fill="none" stroke="#0000ff" stroke-width="1.1"/>
<circle cx="442.38" cy="346.89" r="2.15" fill="none" stroke="#0000ff" stroke-width="1.1"/>
<circle cx="443.70" cy="348.09" r="2.15" fill="none" stroke="#0000ff" stroke-width="1.1"/>
<circle cx="445.02" cy="349.27" r="2.15" fill="none" stroke="#0000ff" stroke-width="1.1"/>
<circle cx="446.34" cy="350.44" r="2.15" fill="none" stroke="#0000ff" stroke-width="1.1"/>
<circle cx="447.66" cy="351.60" r="2.15" fill="none" stroke="#0000ff" stroke-width="1.1"/>
<circle cx="448.98" cy="352.74" r="2.15" fill="none" stroke="#0000ff" stroke-width="1.1"/>
<circle cx="450.30" cy="353.87" r="2.15" fill="none" stroke="#0000ff" stroke-width="1.1"/>
<circle cx="451.62" cy="354.98" r="2.15" fill="none" stroke="#0000ff" stroke-width="1.1"/>
<circle cx="452.94" cy="356.09" r="2.15" fill="none" stroke="#0000ff" stroke-width="1.1"/>
<circle cx="454.26" cy="357.18" r="2.15" fill="none" stroke="#0000ff" stroke-width="1.1"/>
<circle cx="455.58" cy="358.26" r="2.15" fill="none" stroke="#0000ff" stroke-width="1.1"/>
<circle cx="456.90" cy="359.32" r="2.15" fill="none" stroke="#0000ff" stroke-width="1.1"/>
<circle cx="458.22" cy="360.38" r="2.15" fill="none" stroke="#0000ff" stroke-width="1.1"/>
<circle cx="459.54" cy="361.42" r="2.15" fill="none" stroke="#0000ff" stroke-width="1.1"/>
<circle cx="460.86" cy="362.45" r="2.15" fill="none" stroke="#0000ff" stroke-width="1.1"/>
<circle cx="462.18" cy="363.47" r="2.15" fill="none" stroke="#0000ff" stroke-width="1.1"/>
<circle cx="463.50" cy="364.47" r="2.15" fill="none" stroke="#0000ff" stroke-width="1.1"/>
<circle cx="464.82" cy="365.47" r="2.15" fill="none" stroke="#0000ff" stroke-width="1.1"/>
<circle cx="466.14" cy="366.45" r="2.15" fill="none" stroke="#0000ff" stroke-width="1.1"/>
<circle cx="467.46" cy="367.42" r="2.15" fill="none" stroke="#0000ff" stroke-width="1.1"/>
<circle cx="468.78" cy="368.39" r="2.15" fill="none" stroke="#0000ff" stroke-width="1.1"/>
<circle cx="470.10" cy="369.34" r="2.15" fill="none" stroke="#0000ff" stroke-width="1.1"/>
<circle cx="471.42" cy="370.28" r="2.15" fill="none" stroke="#0000ff" stroke-width="1.1"/>
<circle cx="472.74" cy="371.20" r="2.15" fill="none" stroke="#0000ff" stroke-width="1.1"/>
<circle cx="474.06" cy="372.12" r="2.15" fill="none" stroke="#0000ff" stroke-width="1.1"/>
<circle cx="475.38" cy="373.03" r="2.15" fill="none" stroke="#0000ff" stroke-width="1.1"/>
<circle cx="476.70" cy="373.93" r="2.15" fill="none" stroke="#0000ff" stroke-width="1.1"/>
<circle cx="478.02" cy="374.82" r="2.15" fill="none" stroke="#0000ff" stroke-width="1.1"/>
<circle cx="479.34" cy="375.69" r="2.15" fill="none" stroke="#0000ff" stroke-width="1.1"/>
<circle cx="480.66" cy="376.56" r="2.15" fill="none" stroke="#0000ff" stroke-width="1.1"/>
<circle cx="481.98" cy="377.42" r="2.15" fill="none" stroke="#0000ff" stroke-width="1.1"/>
<circle cx="483.30" cy="378.27" r="2.15" fill="none" stroke="#0000ff" stroke-width="1.1"/>
<circle cx="484.62" cy="379.11" r="2.15" fill="none" stroke="#0000ff" stroke-width="1.1"/>
<circle cx="485.94" cy="379.94" r="2.15" fill="none" stroke="#0000ff" stroke-width="1.1"/>
<circle cx="487.26" cy="380.76" r="2.15" fill="none" stroke="#0000ff" stroke-width="1.1"/>
<circle cx="488.58" cy="381.57" r="2.15" fill="none" stroke="#0000ff" stroke-width="1.1"/>
<circle cx="489.90" cy="382.37" r="2.15" fill="none" stroke="#0000ff" stroke-width="1.1"/>
<circle cx="491.22" cy="383.16" r="2.15" fill="none" stroke="#0000ff" stroke-width="1.1"/>
<circle cx="492.54" cy="383.94" r="2.15" fill="none" stroke="#0000ff" stroke-width="1.1"/>
<circle cx="493.86" cy="384.72" r="2.15" fill="none" stroke="#0000ff" stroke-width="1.1"/>
<circle cx="495.18" cy="385.48" r="2.15" fill="none" stroke="#0000ff" stroke-width="1.1"/>
<circle cx="496.50" cy="386.24" r="2.15" fill="none" stroke="#0000ff" stroke-width="1.1"/>
<circle cx="497.82" cy="386.99" r="2.15" fill="none" stroke="#0000ff" stroke-width="1.1"/>
<circle cx="499.14" cy="387.73" r="2.15" fill="none" stroke="#0000ff" stroke-width="1.1"/>
<circle cx="500.46" cy="388.46" r="2.15" fill="none" stroke="#0000ff" stroke-width="1.1"/>
<circle cx="501.78" cy="389.18" r="2.15" fill="none" stroke="#0000ff" stroke-width="1.1"/>
<circle cx="503.10" cy="389.90" r="2.15" fill="none" stroke="#0000ff" stroke-width="1.1"/>
<circle cx="504.42" cy="390.60" r="2.15" fill="none" stroke="#0000ff" stroke-width="1.1"/>
<circle cx="505.74" cy="391.30" r="2.15" fill="none" stroke="#0000ff" stroke-width="1.1"/>
<circle cx="507.06" cy="391.99" r="2.15" fill="none" stroke="#0000ff" stroke-width="1.1"/>
<circle cx="508.38" cy="392.68" r="2.15" fill="none" stroke="#0000ff" stroke-width="1.1"/>
<circle cx="509.70" cy="393.35" r="2.15" fill="none" stroke="#0000ff" stroke-width="1.1"/>
<circle cx="511.02" cy="394.02" r="2.15" fill="none" stroke="#0000ff" stroke-width="1.1"/>
<circle cx="512.34" cy="394.68" r="2.15" fill="none" stroke="#0000ff" stroke-width="1.1"/>
<circle cx="513.66" cy="395.33" r="2.15" fill="none" stroke="#0000ff" stroke-width="1.1"/>
<circle cx="514.98" cy="395.98" r="2.15" fill="none" stroke="#0000ff" stroke-width="1.1"/>
<circle cx="516.30" cy="396.62" r="2.15" fill="none" stroke="#0000ff" stroke-width="1.1"/>
<circle cx="517.62" cy="397.25" r="2.15" fill="none" stroke="#0000ff" stroke-width="1.1"/>
<circle cx="518.94" cy="397.87" r="2.15" fill="none" stroke="#0000ff" stroke-width="1.1"/>
<circle cx="520.26" cy="398.49" r="2.15" fill="none" stroke="#0000ff" stroke-width="1.1"/>
<circle cx="521.58" cy="399.10" r="2.15" fill="none" stroke="#0000ff" stroke-width="1.1"/>
<circle cx="522.90" cy="399.70" r="2.15" fill="none" stroke="#0000ff" stroke-width="1.1"/>
<circle cx="524.22" cy="400.29" r="2.15" fill="none" stroke="#0000ff" stroke-width="1.1"/>
<circle cx="525.54" cy="400.88" r="2.15" fill="none" stroke="#0000ff" stroke-width="1.1"/>
<circle cx="526.86" cy="401.47" r="2.15" fill="none" stroke="#0000ff" stroke-width="1.1"/>
<circle cx="528.18" cy="402.04" r="2.15" fill="none" stroke="#0000ff" stroke-width="1.1"/>
<circle cx="529.50" cy="402.61" r="2.15" fill="none" stroke="#0000ff" stroke-width="1.1"/>
<circle cx="530.82" cy="403.17" r="2.15" fill="none" stroke="#0000ff" stroke-width="1.1"/>
<circle cx="532.14" cy="403.73" r="2.15" fill="none" stroke="#0000ff" stroke-width="1.1"/>
<circle cx="533.46" cy="404.28" r="2.15" fill="none" stroke="#0000ff" stroke-width="1.1"/>
<circle cx="534.78" cy="404.83" r="2.15" fill="none" stroke="#0000ff" stroke-width="1.1"/>
<circle cx="536.10" cy="405.36" r="2.15" fill="none" stroke="#0000ff" stroke-width="1.1"/>
<circle cx="537.42" cy="405.89" r="2.15" fill="none" stroke="#0000ff" stroke-width="1.1"/>
<circle cx="538.74" cy="406.42" r="2.15" fill="none" stroke="#0000ff" stroke-width="1.1"/>
<circle cx="540.06" cy="406.94" r="2.15" fill="none" stroke="#0000ff" stroke-width="1.1"/>
<circle cx="541.38" cy="407.45" r="2.15" fill="none" stroke="#0000ff" stroke-width="1.1"/>
<circle cx="542.70" cy="407.96" r="2.15" fill="none" stroke="#0000ff" stroke-width="1.1"/>
<circle cx="544.02" cy="408.46" r="2.15" fill="none" stroke="#0000ff" stroke-width="1.1"/>
<circle cx="545.34" cy="408.96" r="2.15" fill="none" stroke="#0000ff" stroke-width="1.1"/>
<circle cx="546.66" cy="409.45" r="2.15" fill="none" stroke="#0000ff" stroke-width="1.1"/>
<circle cx="547.98" cy="409.94" r="2.15" fill="none" stroke="#0000ff" stroke-width="1.1"/>
<circle cx="549.30" cy="410.42" r="2.15" fill="none" stroke="#0000ff" stroke-width="1.1"/>
<circle cx="550.62" cy="410.89" r="2.15" fill="none" stroke="#0000ff" stroke-width="1.1"/>
<circle cx="551.94" cy="411.36" r="2.15" fill="none" stroke="#0000ff" stroke-width="1.1"/>
<circle cx="553.26" cy="411.83" r="2.15" fill="none" stroke="#0000ff" stroke-width="1.1"/>
<circle cx="554.58" cy="412.28" r="2.15" fill="none" stroke="#0000ff" stroke-width="1.1"/>
<circle cx="555.90" cy="412.74" r="2.15" fill="none" stroke="#0000ff" stroke-width="1.1"/>
<circle cx="557.22" cy="413.19" r="2.15" fill="none" stroke="#0000ff" stroke-width="1.1"/>
<circle cx="558.54" cy="413.63" r="2.15" fill="none" stroke="#0000ff" stroke-width="1.1"/>
<circle cx="559.86" cy="414.07" r="2.15" fill="none" stroke="#0000ff" stroke-width="1.1"/>
<circle cx="561.18" cy="414.50" r="2.15" fill="none" stroke="#0000ff" stroke-width="1.1"/>
<circle cx="562.50" cy="414.93" r="2.15" fill="none" stroke="#0000ff" stroke-width="1.1"/>
<circle cx="563.82" cy="415.35" r="2.15" fill="none" stroke="#0000ff" stroke-width="1.1"/>
<circle cx="565.14" cy="415.77" r="2.15" fill="none" stroke="#0000ff" stroke-width="1.1"/>
<circle cx="566.46" cy="416.18" r="2.15" fill="none" stroke="#0000ff" stroke-width="1.1"/>
<circle cx="567.78" cy="416.59" r="2.15" fill="none" stroke="#0000ff" stroke-width="1.1"/>
<circle cx="569.10" cy="417.00" r="2.15" fill="none" stroke="#0000ff" stroke-width="1.1"/>
<circle cx="570.42" cy="417.40" r="2.15" fill="none" stroke="#0000ff" stroke-width="1.1"/>
<circle cx="571.74" cy="417.79" r="2.15" fill="none" stroke="#0000ff" stroke-width="1.1"/>
<circle cx="573.06" cy="418.19" r="2.15" fill="none" stroke="#0000ff" stroke-width="1.1"/>
<circle cx="574.38" cy="418.57" r="2.15" fill="none" stroke="#0000ff" stroke-width="1.1"/>
<circle cx="575.70" cy="418.95" r="2.15" fill="none" stroke="#0000ff" stroke-width="1.1"/>
<circle cx="577.02" cy="419.33" r="2.15" fill="none" stroke="#0000ff" stroke-width="1.1"/>
<circle cx="578.34" cy="419.71" r="2.15" fill="none" stroke="#0000ff" stroke-width="1.1"/>
<circle cx="579.66" cy="420.08" r="2.15" fill="none" stroke="#0000ff" stroke-width="1.1"/>
<circle cx="580.98" cy="420.44" r="2.15" fill="none" stroke="#0000ff" stroke-width="1.1"/>
<circle cx="582.30" cy="420.80" r="2.15" fill="none" stroke="#0000ff" stroke-width="1.1"/>
<circle cx="583.62" cy="421.16" r="2.15" fill="none" stroke="#0000ff" stroke-width="1.1"/>
<circle cx="584.94" cy="421.51" r="2.15" fill="none" stroke="#0000ff" stroke-width="1.1"/>
<circle cx="586.26" cy="421.86" r="2.15" fill="none" stroke="#0000ff" stroke-width="1.1"/>
<circle cx="587.58" cy="422.21" r="2.15" fill="none" stroke="#0000ff" stroke-width="1.1"/>
<circle cx="588.90" cy="422.55" r="2.15" fill="none" stroke="#0000ff" stroke-width="1.1"/>
<circle cx="590.22" cy="422.88" r="2.15" fill="none" stroke="#0000ff" stroke-width="1.1"/>
<circle cx="591.54" cy="423.22" r="2.15" fill="none" stroke="#0000ff" stroke-width="1.1"/>
<circle cx="592.86" cy="423.55" r="2.15" fill="none" stroke="#0000ff" stroke-width="1.1"/>
<circle cx="594.18" cy="423.87" r="2.15" fill="none" stroke="#0000ff" stroke-width="1.1"/>
<circle cx="595.50" cy="424.20" r="2.15" fill="none" stroke="#0000ff" stroke-width="1.1"/>
<circle cx="596.82" cy="424.51" r="2.15" fill="none" stroke="#0000ff" stroke-width="1.1"/>
<circle cx="598.14" cy="424.83" r="2.15" fill="none" stroke="#0000ff" stroke-width="1.1"/>
<circle cx="599.46" cy="425.14" r="2.15" fill="none" stroke="#0000ff" stroke-width="1.1"/>
<circle cx="600.78" cy="425.45" r="2.15" fill="none" stroke="#0000ff" stroke-width="1.1"/>
<circle cx="602.10" cy="425.75" r="2.15" fill="none" stroke="#0000ff" stroke-width="1.1"/>
<circle cx="603.42" cy="426.05" r="2.15" fill="none" stroke="#0000ff" stroke-width="1.1"/>
<circle cx="604.74" cy="426.35" r="2.15" fill="none" stroke="#0000ff" stroke-width="1.1"/>
<circle cx="606.06" cy="426.65" r="2.15" fill="none" stroke="#0000ff" stroke-width="1.1"/>
<circle cx="607.38" cy="426.94" r="2.15" fill="none" stroke="#0000ff" stroke-width="1.1"/>
<circle cx="608.70" cy="427.22" r="2.15" fill="none" stroke="#0000ff" stroke-width="1.1"/>
<circle cx="610.02" cy="427.51" r="2.15" fill="none" stroke="#0000ff" stroke-width="1.1"/>
<circle cx="611.34" cy="427.79" r="2.15" fill="none" stroke="#0000ff" stroke-width="1.1"/>
<circle cx="612.66" cy="428.07" r="2.15" fill="none" stroke="#0000ff" stroke-width="1.1"/>
<circle cx="613.98" cy="428.34" r="2.15" fill="none" stroke="#0000ff" stroke-width="1.1"/>
<circle cx="615.30" cy="428.61" r="2.15" fill="none" stroke="#0000ff" stroke-width="1.1"/>
<circle cx="616.62" cy="428.88" r="2.15" fill="none" stroke="#0000ff" stroke-width="1.1"/>
<circle cx="617.94" cy="429.15" r="2.15" fill="none" stroke="#0000ff" stroke-width="1.1"/>
<circle cx="619.26" cy="429.41" r="2.15" fill="none" stroke="#0000ff" stroke-width="1.1"/>
<circle cx="620.58" cy="429.67" r="2.15" fill="none" stroke="#0000ff" stroke-width="1.1"/>
<circle cx="621.90" cy="429.93" r="2.15" fill="none" stroke="#0000ff" stroke-width="1.1"/>
<circle cx="623.22" cy="430.18" r="2.15" fill="none" stroke="#0000ff" stroke-width="1.1"/>
<circle cx="624.54" cy="430.43" r="2.15" fill="none" stroke="#0000ff" stroke-width="1.1"/>
<circle cx="625.86" cy="430.68" r="2.15" fill="none" stroke="#0000ff" stroke-width="1.1"/>
<circle cx="627.18" cy="430.92" r="2.15" fill="none" stroke="#0000ff" stroke-width="1.1"/>
<circle cx="628.50" cy="431.17" r="2.15" fill="none" stroke="#0000ff" stroke-width="1.1"/>
<circle cx="629.82" cy="431.41" r="2.15" fill="none" stroke="#0000ff" stroke-width="1.1"/>
<circle cx="631.14" cy="431.64" r="2.15" fill="none" stroke="#0000ff" stroke-width="1.1"/>
<circle cx="632.46" cy="431.88" r="2.15" fill="none" stroke="#0000ff" stroke-width="1.1"/>
<circle cx="633.78" cy="432.11" r="2.15" fill="none" stroke="#0000ff" stroke-width="1.1"/>
<circle cx="635.10" cy="432.34" r="2.15" fill="none" stroke="#0000ff" stroke-width="1.1"/>
<circle cx="636.42" cy="432.56" r="2.15" fill="none" stroke="#0000ff" stroke-width="1.1"/>
<circle cx="637.74" cy="432.79" r="2.15" fill="none" stroke="#0000ff" stroke-width="1.1"/>
<circle cx="639.06" cy="433.01" r="2.15" fill="none" stroke="#0000ff" stroke-width="1.1"/>
<circle cx="640.38" cy="433.23" r="2.15" fill="none" stroke="#0000ff" stroke-width="1.1"/>
<circle cx="641.70" cy="433.44" r="2.15" fill="none" stroke="#0000ff" stroke-width="1.1"/>
<circle cx="643.02" cy="433.66" r="2.15" fill="none" stroke="#0000ff" stroke-width="1.1"/>
<circle cx="644.34" cy="433.87" r="2.15" fill="none" stroke="#0000ff" stroke-width="1.1"/>
<circle cx="645.66" cy="434.08" r="2.15" fill="none" stroke="#0000ff" stroke-width="1.1"/>
<circle cx="646.98" cy="434.29" r="2.15" fill="none" stroke="#0000ff" stroke-width="1.1"/>
<circle cx="648.30" cy="434.49" r="2.15" fill="none" stroke="#0000ff" stroke-width="1.1"/>
<circle cx="649.62" cy="434.69" r="2.15" fill="none" stroke="#0000ff" stroke-width="1.1"/>
<polyline points="386.00,267.71 386.50,269.14 387.00,270.52 387.50,271.87 388.00,273.19 388.50,274.47 389.00,275.72 389.50,276.93 390.00,278.12 390.50,279.28 391.00,280.42 391.50,281.53 392.00,282.61 392.50,283.67 393.00,284.72 393.50,285.73 394.00,286.73 394.50,287.71 395.00,288.68 395.50,289.62 396.00,290.55 396.50,291.46 397.00,292.36 397.50,293.24 398.00,294.11 398.50,294.97 399.00,295.81 399.50,296.64 400.00,297.46 400.50,298.27 401.00,299.06 401.50,299.85 402.00,300.63 402.50,301.39 403.00,302.15 403.50,302.90 404.00,303.64 404.50,304.37 405.00,305.09 405.50,305.81 406.00,306.52 406.50,307.22 407.00,307.91 407.50,308.60 408.00,309.28 408.50,309.96 409.00,310.63 409.50,311.29 410.00,311.95 410.50,312.60 411.00,313.25 411.50,313.89 412.00,314.53 412.50,315.16 413.00,315.79 413.50,316.41 414.00,317.03 414.50,317.64 415.00,318.25 415.50,318.86 416.00,319.46 416.50,320.06 417.00,320.65 417.50,321.24 418.00,321.82 418.50,322.41 419.00,322.98 419.50,323.56 420.00,324.13 420.50,324.70 421.00,325.26 421.50,325.83 422.00,326.38 422.50,326.94 423.00,327.49 423.50,328.04 424.00,328.59 424.50,329.13 425.00,329.67 425.50,330.21 426.00,330.74 426.50,331.28 427.00,331.80 427.50,332.33 428.00,332.86 428.50,333.38 429.00,333.89 429.50,334.41 430.00,334.92 430.50,335.44 431.00,335.94 431.50,336.45 432.00,336.95 432.50,337.45 433.00,337.95 433.50,338.45 434.00,338.94 434.50,339.43 435.00,339.92 435.50,340.41 436.00,340.90 436.50,341.38 437.00,341.86 437.50,342.34 438.00,342.81 438.50,343.29 439.00,343.76 439.50,344.23 440.00,344.69 440.50,345.16 441.00,345.62 441.50,346.08 442.00,346.54 442.50,347.00 443.00,347.45 443.50,347.91 444.00,348.36 444.50,348.81 445.00,349.25 445.50,349.70 446.00,350.14 446.50,350.58 447.00,351.02 447.50,351.46 448.00,351.89 448.50,352.32 449.00,352.76 449.50,353.19 450.00,353.61 450.50,354.04 451.00,354.46 451.50,354.88 452.00,355.30 452.50,355.72 453.00,356.14 453.50,356.55 454.00,356.96 454.50,357.38 455.00,357.78 455.50,358.19 456.00,358.60 456.50,359.00 457.00,359.40 457.50,359.80 458.00,360.20 458.50,360.60 459.00,360.99 459.50,361.39 460.00,361.78 460.50,362.17 461.00,362.56 461.50,362.94 462.00,363.33 462.50,363.71 463.00,364.09 463.50,364.47 464.00,364.85 464.50,365.23 465.00,365.60 465.50,365.98 466.00,366.35 466.50,366.72 467.00,367.09 467.50,367.45 468.00,367.82 468.50,368.18 469.00,368.54 469.50,368.91 470.00,369.26 470.50,369.62 471.00,369.98 471.50,370.33 472.00,370.69 472.50,371.04 473.00,371.39 473.50,371.74 474.00,372.08 474.50,372.43 475.00,372.77 475.50,373.11 476.00,373.45 476.50,373.79 477.00,374.13 477.50,374.47 478.00,374.80 478.50,375.14 479.00,375.47 479.50,375.80 480.00,376.13 480.50,376.46 481.00,376.78 481.50,377.11 482.00,377.43 482.50,377.76 483.00,378.08 483.50,378.40 484.00,378.71 484.50,379.03 485.00,379.35 485.50,379.66 486.00,379.97 486.50,380.28 487.00,380.59 487.50,380.90 488.00,381.21 488.50,381.52 489.00,381.82 489.50,382.13 490.00,382.43 490.50,382.73 491.00,383.03 491.50,383.33 492.00,383.62 492.50,383.92 493.00,384.21 493.50,384.51 494.00,384.80 494.50,385.09 495.00,385.38 495.50,385.67 496.00,385.95 496.50,386.24 497.00,386.52 497.50,386.81 498.00,387.09 498.50,387.37 499.00,387.65 499.50,387.93 500.00,388.20 500.50,388.48 501.00,388.76 501.50,389.03 502.00,389.30 502.50,389.57 503.00,389.84 503.50,390.11 504.00,390.38 504.50,390.65 505.00,390.91 505.50,391.18 506.00,391.44 506.50,391.70 507.00,391.96 507.50,392.22 508.00,392.48 508.50,392.74 509.00,392.99 509.50,393.25 510.00,393.50 510.50,393.76 511.00,394.01 511.50,394.26 512.00,394.51 512.50,394.76 513.00,395.01 513.50,395.25 514.00,395.50 514.50,395.74 515.00,395.99 515.50,396.23 516.00,396.47 516.50,396.71 517.00,396.95 517.50,397.19 518.00,397.43 518.50,397.66 519.00,397.90 519.50,398.13 520.00,398.37 520.50,398.60 521.00,398.83 521.50,399.06 522.00,399.29 522.50,399.52 523.00,399.74 523.50,399.97 524.00,400.20 524.50,400.42 525.00,400.64 525.50,400.87 526.00,401.09 526.50,401.31 527.00,401.53 527.50,401.75 528.00,401.96 528.50,402.18 529.00,402.40 529.50,402.61 530.00,402.83 530.50,403.04 531.00,403.25 531.50,403.46 532.00,403.67 532.50,403.88 533.00,404.09 533.50,404.30 534.00,404.50 534.50,404.71 535.00,404.92 535.50,405.12 536.00,405.32 536.50,405.52 537.00,405.73 537.50,405.93 538.00,406.13 538.50,406.33 539.00,406.52 539.50,406.72 540.00,406.92 540.50,407.11 541.00,407.31 541.50,407.50 542.00,407.69 542.50,407.89 543.00,408.08 543.50,408.27 544.00,408.46 544.50,408.65 545.00,408.83 545.50,409.02 546.00,409.21 546.50,409.39 547.00,409.58 547.50,409.76 548.00,409.95 548.50,410.13 549.00,410.31 549.50,410.49 550.00,410.67 550.50,410.85 551.00,411.03 551.50,411.21 552.00,411.38 552.50,411.56 553.00,411.73 553.50,411.91 554.00,412.08 554.50,412.26 555.00,412.43 555.50,412.60 556.00,412.77 556.50,412.94 557.00,413.11 557.50,413.28 558.00,413.45 558.50,413.62 559.00,413.78 559.50,413.95 560.00,414.11 560.50,414.28 561.00,414.44 561.50,414.60 562.00,414.77 562.50,414.93 563.00,415.09 563.50,415.25 564.00,415.41 564.50,415.57 565.00,415.73 565.50,415.88 566.00,416.04 566.50,416.20 567.00,416.35 567.50,416.51 568.00,416.66 568.50,416.82 569.00,416.97 569.50,417.12 570.00,417.27 570.50,417.42 571.00,417.57 571.50,417.72 572.00,417.87 572.50,418.02 573.00,418.17 573.50,418.31 574.00,418.46 574.50,418.61 575.00,418.75 575.50,418.90 576.00,419.04 576.50,419.18 577.00,419.33 577.50,419.47 578.00,419.61 578.50,419.75 579.00,419.89 579.50,420.03 580.00,420.17 580.50,420.31 581.00,420.45 581.50,420.58 582.00,420.72 582.50,420.86 583.00,420.99 583.50,421.13 584.00,421.26 584.50,421.39 585.00,421.53 585.50,421.66 586.00,421.79 586.50,421.92 587.00,422.05 587.50,422.18 588.00,422.31 588.50,422.44 589.00,422.57 589.50,422.70 590.00,422.83 590.50,422.95 591.00,423.08 591.50,423.21 592.00,423.33 592.50,423.46 593.00,423.58 593.50,423.71 594.00,423.83 594.50,423.95 595.00,424.07 595.50,424.20 596.00,424.32 596.50,424.44 597.00,424.56 597.50,424.68 598.00,424.80 598.50,424.91 599.00,425.03 599.50,425.15 600.00,425.27 600.50,425.38 601.00,425.50 601.50,425.61 602.00,425.73 602.50,425.84 603.00,425.96 603.50,426.07 604.00,426.18 604.50,426.30 605.00,426.41 605.50,426.52 606.00,426.63 606.50,426.74 607.00,426.85 607.50,426.96 608.00,427.07 608.50,427.18 609.00,427.29 609.50,427.40 610.00,427.50 610.50,427.61 611.00,427.72 611.50,427.82 612.00,427.93 612.50,428.03 613.00,428.14 613.50,428.24 614.00,428.35 614.50,428.45 615.00,428.55 615.50,428.65 616.00,428.76 616.50,428.86 617.00,428.96 617.50,429.06 618.00,429.16 618.50,429.26 619.00,429.36 619.50,429.46 620.00,429.56 620.50,429.65 621.00,429.75 621.50,429.85 622.00,429.95 622.50,430.04 623.00,430.14 623.50,430.23 624.00,430.33 624.50,430.42 625.00,430.52 625.50,430.61 626.00,430.70 626.50,430.80 627.00,430.89 627.50,430.98 628.00,431.07 628.50,431.17 629.00,431.26 629.50,431.35 630.00,431.44 630.50,431.53 631.00,431.62 631.50,431.71 632.00,431.80 632.50,431.88 633.00,431.97 633.50,432.06 634.00,432.15 634.50,432.23 635.00,432.32 635.50,432.41 636.00,432.49 636.50,432.58 637.00,432.66 637.50,432.75 638.00,432.83 638.50,432.92 639.00,433.00 639.50,433.08 640.00,433.17 640.50,433.25 641.00,433.33 641.50,433.41 642.00,433.49 642.50,433.57 643.00,433.66 643.50,433.74 644.00,433.82 644.50,433.90 645.00,433.97 645.50,434.05 646.00,434.13 646.50,434.21 647.00,434.29 647.50,434.37 648.00,434.44 648.50,434.52 649.00,434.60 649.50,434.67 650.00,434.75" fill="none" stroke="#ffffff" stroke-width="0.6" stroke-linejoin="round" stroke-dasharray="1.0,0.6" opacity="0.85"/>
<circle cx="384.30" cy="255.04" r="1.9" fill="none" stroke="#ff0000" stroke-width="1.15"/>
<circle cx="385.62" cy="256.69" r="1.9" fill="none" stroke="#ff0000" stroke-width="1.15"/>
<circle cx="386.94" cy="258.87" r="1.9" fill="none" stroke="#ff0000" stroke-width="1.15"/>
<circle cx="388.26" cy="260.87" r="1.9" fill="none" stroke="#ff0000" stroke-width="1.15"/>
<circle cx="389.58" cy="262.85" r="1.9" fill="none" stroke="#ff0000" stroke-width="1.15"/>
<circle cx="390.90" cy="261.99" r="1.9" fill="none" stroke="#ff0000" stroke-width="1.15"/>
<circle cx="392.22" cy="263.43" r="1.9" fill="none" stroke="#ff0000" stroke-width="1.15"/>
<circle cx="393.54" cy="265.00" r="1.9" fill="none" stroke="#ff0000" stroke-width="1.15"/>
<circle cx="394.86" cy="267.16" r="1.9" fill="none" stroke="#ff0000" stroke-width="1.15"/>
<circle cx="396.18" cy="269.06" r="1.9" fill="none" stroke="#ff0000" stroke-width="1.15"/>
<circle cx="397.50" cy="267.96" r="1.9" fill="none" stroke="#ff0000" stroke-width="1.15"/>
<circle cx="398.82" cy="268.99" r="1.9" fill="none" stroke="#ff0000" stroke-width="1.15"/>
<circle cx="400.14" cy="270.62" r="1.9" fill="none" stroke="#ff0000" stroke-width="1.15"/>
<circle cx="401.46" cy="273.03" r="1.9" fill="none" stroke="#ff0000" stroke-width="1.15"/>
<circle cx="402.78" cy="274.04" r="1.9" fill="none" stroke="#ff0000" stroke-width="1.15"/>
<circle cx="404.10" cy="274.84" r="1.9" fill="none" stroke="#ff0000" stroke-width="1.15"/>
<circle cx="405.42" cy="274.69" r="1.9" fill="none" stroke="#ff0000" stroke-width="1.15"/>
<circle cx="406.74" cy="275.76" r="1.9" fill="none" stroke="#ff0000" stroke-width="1.15"/>
<circle cx="408.06" cy="277.39" r="1.9" fill="none" stroke="#ff0000" stroke-width="1.15"/>
<circle cx="409.38" cy="278.86" r="1.9" fill="none" stroke="#ff0000" stroke-width="1.15"/>
<circle cx="410.70" cy="280.20" r="1.9" fill="none" stroke="#ff0000" stroke-width="1.15"/>
<circle cx="412.02" cy="279.84" r="1.9" fill="none" stroke="#ff0000" stroke-width="1.15"/>
<circle cx="413.34" cy="281.02" r="1.9" fill="none" stroke="#ff0000" stroke-width="1.15"/>
<circle cx="414.66" cy="282.21" r="1.9" fill="none" stroke="#ff0000" stroke-width="1.15"/>
<circle cx="415.98" cy="283.94" r="1.9" fill="none" stroke="#ff0000" stroke-width="1.15"/>
<circle cx="417.30" cy="285.45" r="1.9" fill="none" stroke="#ff0000" stroke-width="1.15"/>
<circle cx="418.62" cy="283.74" r="1.9" fill="none" stroke="#ff0000" stroke-width="1.15"/>
<circle cx="419.94" cy="285.57" r="1.9" fill="none" stroke="#ff0000" stroke-width="1.15"/>
<circle cx="421.26" cy="286.66" r="1.9" fill="none" stroke="#ff0000" stroke-width="1.15"/>
<circle cx="422.58" cy="288.27" r="1.9" fill="none" stroke="#ff0000" stroke-width="1.15"/>
<circle cx="423.90" cy="289.21" r="1.9" fill="none" stroke="#ff0000" stroke-width="1.15"/>
<circle cx="425.22" cy="290.99" r="1.9" fill="none" stroke="#ff0000" stroke-width="1.15"/>
<circle cx="426.54" cy="290.08" r="1.9" fill="none" stroke="#ff0000" stroke-width="1.15"/>
<circle cx="427.86" cy="291.30" r="1.9" fill="none" stroke="#ff0000" stroke-width="1.15"/>
<circle cx="429.18" cy="292.34" r="1.9" fill="none" stroke="#ff0000" stroke-width="1.15"/>
<circle cx="430.50" cy="293.87" r="1.9" fill="none" stroke="#ff0000" stroke-width="1.15"/>
<circle cx="431.82" cy="294.92" r="1.9" fill="none" stroke="#ff0000" stroke-width="1.15"/>
<circle cx="433.14" cy="293.92" r="1.9" fill="none" stroke="#ff0000" stroke-width="1.15"/>
<circle cx="434.46" cy="295.76" r="1.9" fill="none" stroke="#ff0000" stroke-width="1.15"/>
<circle cx="435.78" cy="296.58" r="1.9" fill="none" stroke="#ff0000" stroke-width="1.15"/>
<circle cx="437.10" cy="298.66" r="1.9" fill="none" stroke="#ff0000" stroke-width="1.15"/>
<circle cx="438.42" cy="299.77" r="1.9" fill="none" stroke="#ff0000" stroke-width="1.15"/>
<circle cx="439.74" cy="297.90" r="1.9" fill="none" stroke="#ff0000" stroke-width="1.15"/>
<circle cx="441.06" cy="299.96" r="1.9" fill="none" stroke="#ff0000" stroke-width="1.15"/>
<circle cx="442.38" cy="300.75" r="1.9" fill="none" stroke="#ff0000" stroke-width="1.15"/>
<circle cx="443.70" cy="302.41" r="1.9" fill="none" stroke="#ff0000" stroke-width="1.15"/>
<circle cx="445.02" cy="303.68" r="1.9" fill="none" stroke="#ff0000" stroke-width="1.15"/>
<circle cx="446.34" cy="302.03" r="1.9" fill="none" stroke="#ff0000" stroke-width="1.15"/>
<circle cx="447.66" cy="303.90" r="1.9" fill="none" stroke="#ff0000" stroke-width="1.15"/>
<circle cx="448.98" cy="305.15" r="1.9" fill="none" stroke="#ff0000" stroke-width="1.15"/>
<circle cx="450.30" cy="306.83" r="1.9" fill="none" stroke="#ff0000" stroke-width="1.15"/>
<circle cx="451.62" cy="307.33" r="1.9" fill="none" stroke="#ff0000" stroke-width="1.15"/>
<circle cx="452.94" cy="309.26" r="1.9" fill="none" stroke="#ff0000" stroke-width="1.15"/>
<circle cx="454.26" cy="307.66" r="1.9" fill="none" stroke="#ff0000" stroke-width="1.15"/>
<circle cx="455.58" cy="309.18" r="1.9" fill="none" stroke="#ff0000" stroke-width="1.15"/>
<circle cx="456.90" cy="310.25" r="1.9" fill="none" stroke="#ff0000" stroke-width="1.15"/>
<circle cx="458.22" cy="312.30" r="1.9" fill="none" stroke="#ff0000" stroke-width="1.15"/>
<circle cx="459.54" cy="313.23" r="1.9" fill="none" stroke="#ff0000" stroke-width="1.15"/>
<circle cx="460.86" cy="312.93" r="1.9" fill="none" stroke="#ff0000" stroke-width="1.15"/>
<circle cx="462.18" cy="313.54" r="1.9" fill="none" stroke="#ff0000" stroke-width="1.15"/>
<circle cx="463.50" cy="314.85" r="1.9" fill="none" stroke="#ff0000" stroke-width="1.15"/>
<circle cx="464.82" cy="316.09" r="1.9" fill="none" stroke="#ff0000" stroke-width="1.15"/>
<circle cx="466.14" cy="316.82" r="1.9" fill="none" stroke="#ff0000" stroke-width="1.15"/>
<circle cx="467.46" cy="316.05" r="1.9" fill="none" stroke="#ff0000" stroke-width="1.15"/>
<circle cx="468.78" cy="317.78" r="1.9" fill="none" stroke="#ff0000" stroke-width="1.15"/>
<circle cx="470.10" cy="318.41" r="1.9" fill="none" stroke="#ff0000" stroke-width="1.15"/>
<circle cx="471.42" cy="319.85" r="1.9" fill="none" stroke="#ff0000" stroke-width="1.15"/>
<circle cx="472.74" cy="321.01" r="1.9" fill="none" stroke="#ff0000" stroke-width="1.15"/>
<circle cx="474.06" cy="322.47" r="1.9" fill="none" stroke="#ff0000" stroke-width="1.15"/>
<circle cx="475.38" cy="321.16" r="1.9" fill="none" stroke="#ff0000" stroke-width="1.15"/>
<circle cx="476.70" cy="322.47" r="1.9" fill="none" stroke="#ff0000" stroke-width="1.15"/>
<circle cx="478.02" cy="323.84" r="1.9" fill="none" stroke="#ff0000" stroke-width="1.15"/>
<circle cx="479.34" cy="325.02" r="1.9" fill="none" stroke="#ff0000" stroke-width="1.15"/>
<circle cx="480.66" cy="325.91" r="1.9" fill="none" stroke="#ff0000" stroke-width="1.15"/>
<circle cx="481.98" cy="325.56" r="1.9" fill="none" stroke="#ff0000" stroke-width="1.15"/>
<circle cx="483.30" cy="326.02" r="1.9" fill="none" stroke="#ff0000" stroke-width="1.15"/>
<circle cx="484.62" cy="327.29" r="1.9" fill="none" stroke="#ff0000" stroke-width="1.15"/>
<circle cx="485.94" cy="328.49" r="1.9" fill="none" stroke="#ff0000" stroke-width="1.15"/>
<circle cx="487.26" cy="330.50" r="1.9" fill="none" stroke="#ff0000" stroke-width="1.15"/>
<circle cx="488.58" cy="329.07" r="1.9" fill="none" stroke="#ff0000" stroke-width="1.15"/>
<circle cx="489.90" cy="330.08" r="1.9" fill="none" stroke="#ff0000" stroke-width="1.15"/>
<circle cx="491.22" cy="331.25" r="1.9" fill="none" stroke="#ff0000" stroke-width="1.15"/>
<circle cx="492.54" cy="333.02" r="1.9" fill="none" stroke="#ff0000" stroke-width="1.15"/>
<circle cx="493.86" cy="333.74" r="1.9" fill="none" stroke="#ff0000" stroke-width="1.15"/>
<circle cx="495.18" cy="334.89" r="1.9" fill="none" stroke="#ff0000" stroke-width="1.15"/>
<circle cx="496.50" cy="334.57" r="1.9" fill="none" stroke="#ff0000" stroke-width="1.15"/>
<circle cx="497.82" cy="335.17" r="1.9" fill="none" stroke="#ff0000" stroke-width="1.15"/>
<circle cx="499.14" cy="336.70" r="1.9" fill="none" stroke="#ff0000" stroke-width="1.15"/>
<circle cx="500.46" cy="338.04" r="1.9" fill="none" stroke="#ff0000" stroke-width="1.15"/>
<circle cx="501.78" cy="339.11" r="1.9" fill="none" stroke="#ff0000" stroke-width="1.15"/>
<circle cx="503.10" cy="338.27" r="1.9" fill="none" stroke="#ff0000" stroke-width="1.15"/>
<circle cx="504.42" cy="339.98" r="1.9" fill="none" stroke="#ff0000" stroke-width="1.15"/>
<circle cx="505.74" cy="340.56" r="1.9" fill="none" stroke="#ff0000" stroke-width="1.15"/>
<circle cx="507.06" cy="341.52" r="1.9" fill="none" stroke="#ff0000" stroke-width="1.15"/>
<circle cx="508.38" cy="342.55" r="1.9" fill="none" stroke="#ff0000" stroke-width="1.15"/>
<circle cx="509.70" cy="342.14" r="1.9" fill="none" stroke="#ff0000" stroke-width="1.15"/>
<circle cx="511.02" cy="343.32" r="1.9" fill="none" stroke="#ff0000" stroke-width="1.15"/>
<circle cx="512.34" cy="344.76" r="1.9" fill="none" stroke="#ff0000" stroke-width="1.15"/>
<circle cx="513.66" cy="345.73" r="1.9" fill="none" stroke="#ff0000" stroke-width="1.15"/>
<circle cx="514.98" cy="346.94" r="1.9" fill="none" stroke="#ff0000" stroke-width="1.15"/>
<circle cx="516.30" cy="348.08" r="1.9" fill="none" stroke="#ff0000" stroke-width="1.15"/>
<circle cx="517.62" cy="347.18" r="1.9" fill="none" stroke="#ff0000" stroke-width="1.15"/>
<circle cx="518.94" cy="348.64" r="1.9" fill="none" stroke="#ff0000" stroke-width="1.15"/>
<circle cx="520.26" cy="349.67" r="1.9" fill="none" stroke="#ff0000" stroke-width="1.15"/>
<circle cx="521.58" cy="351.07" r="1.9" fill="none" stroke="#ff0000" stroke-width="1.15"/>
<circle cx="522.90" cy="352.92" r="1.9" fill="none" stroke="#ff0000" stroke-width="1.15"/>
<circle cx="524.22" cy="351.44" r="1.9" fill="none" stroke="#ff0000" stroke-width="1.15"/>
<circle cx="525.54" cy="351.95" r="1.9" fill="none" stroke="#ff0000" stroke-width="1.15"/>
<circle cx="526.86" cy="354.33" r="1.9" fill="none" stroke="#ff0000" stroke-width="1.15"/>
<circle cx="528.18" cy="355.07" r="1.9" fill="none" stroke="#ff0000" stroke-width="1.15"/>
<circle cx="529.50" cy="355.84" r="1.9" fill="none" stroke="#ff0000" stroke-width="1.15"/>
<circle cx="530.82" cy="355.51" r="1.9" fill="none" stroke="#ff0000" stroke-width="1.15"/>
<circle cx="532.14" cy="356.42" r="1.9" fill="none" stroke="#ff0000" stroke-width="1.15"/>
<circle cx="533.46" cy="357.42" r="1.9" fill="none" stroke="#ff0000" stroke-width="1.15"/>
<circle cx="534.78" cy="358.64" r="1.9" fill="none" stroke="#ff0000" stroke-width="1.15"/>
<circle cx="536.10" cy="359.73" r="1.9" fill="none" stroke="#ff0000" stroke-width="1.15"/>
<circle cx="537.42" cy="359.12" r="1.9" fill="none" stroke="#ff0000" stroke-width="1.15"/>
<circle cx="538.74" cy="360.70" r="1.9" fill="none" stroke="#ff0000" stroke-width="1.15"/>
<circle cx="540.06" cy="361.43" r="1.9" fill="none" stroke="#ff0000" stroke-width="1.15"/>
<circle cx="541.38" cy="362.91" r="1.9" fill="none" stroke="#ff0000" stroke-width="1.15"/>
<circle cx="542.70" cy="364.64" r="1.9" fill="none" stroke="#ff0000" stroke-width="1.15"/>
<circle cx="544.02" cy="364.78" r="1.9" fill="none" stroke="#ff0000" stroke-width="1.15"/>
<circle cx="545.34" cy="364.32" r="1.9" fill="none" stroke="#ff0000" stroke-width="1.15"/>
<circle cx="546.66" cy="365.34" r="1.9" fill="none" stroke="#ff0000" stroke-width="1.15"/>
<circle cx="547.98" cy="366.30" r="1.9" fill="none" stroke="#ff0000" stroke-width="1.15"/>
<circle cx="549.30" cy="367.53" r="1.9" fill="none" stroke="#ff0000" stroke-width="1.15"/>
<circle cx="550.62" cy="369.11" r="1.9" fill="none" stroke="#ff0000" stroke-width="1.15"/>
<circle cx="551.94" cy="368.29" r="1.9" fill="none" stroke="#ff0000" stroke-width="1.15"/>
<circle cx="553.26" cy="369.17" r="1.9" fill="none" stroke="#ff0000" stroke-width="1.15"/>
<circle cx="554.58" cy="370.60" r="1.9" fill="none" stroke="#ff0000" stroke-width="1.15"/>
<circle cx="555.90" cy="372.05" r="1.9" fill="none" stroke="#ff0000" stroke-width="1.15"/>
<circle cx="557.22" cy="373.12" r="1.9" fill="none" stroke="#ff0000" stroke-width="1.15"/>
<circle cx="558.54" cy="372.34" r="1.9" fill="none" stroke="#ff0000" stroke-width="1.15"/>
<circle cx="559.86" cy="373.42" r="1.9" fill="none" stroke="#ff0000" stroke-width="1.15"/>
<circle cx="561.18" cy="374.65" r="1.9" fill="none" stroke="#ff0000" stroke-width="1.15"/>
<circle cx="562.50" cy="376.34" r="1.9" fill="none" stroke="#ff0000" stroke-width="1.15"/>
<circle cx="563.82" cy="377.14" r="1.9" fill="none" stroke="#ff0000" stroke-width="1.15"/>
<circle cx="565.14" cy="378.19" r="1.9" fill="none" stroke="#ff0000" stroke-width="1.15"/>
<circle cx="566.46" cy="377.41" r="1.9" fill="none" stroke="#ff0000" stroke-width="1.15"/>
<circle cx="567.78" cy="378.06" r="1.9" fill="none" stroke="#ff0000" stroke-width="1.15"/>
<circle cx="569.10" cy="379.48" r="1.9" fill="none" stroke="#ff0000" stroke-width="1.15"/>
<circle cx="570.42" cy="381.10" r="1.9" fill="none" stroke="#ff0000" stroke-width="1.15"/>
<circle cx="571.74" cy="382.26" r="1.9" fill="none" stroke="#ff0000" stroke-width="1.15"/>
<circle cx="573.06" cy="381.60" r="1.9" fill="none" stroke="#ff0000" stroke-width="1.15"/>
<circle cx="574.38" cy="382.28" r="1.9" fill="none" stroke="#ff0000" stroke-width="1.15"/>
<circle cx="575.70" cy="382.99" r="1.9" fill="none" stroke="#ff0000" stroke-width="1.15"/>
<circle cx="577.02" cy="385.40" r="1.9" fill="none" stroke="#ff0000" stroke-width="1.15"/>
<circle cx="578.34" cy="386.32" r="1.9" fill="none" stroke="#ff0000" stroke-width="1.15"/>
<circle cx="579.66" cy="384.58" r="1.9" fill="none" stroke="#ff0000" stroke-width="1.15"/>
<circle cx="580.98" cy="386.66" r="1.9" fill="none" stroke="#ff0000" stroke-width="1.15"/>
<circle cx="582.30" cy="387.41" r="1.9" fill="none" stroke="#ff0000" stroke-width="1.15"/>
<circle cx="583.62" cy="387.98" r="1.9" fill="none" stroke="#ff0000" stroke-width="1.15"/>
<circle cx="584.94" cy="389.68" r="1.9" fill="none" stroke="#ff0000" stroke-width="1.15"/>
<circle cx="586.26" cy="390.87" r="1.9" fill="none" stroke="#ff0000" stroke-width="1.15"/>
<circle cx="587.58" cy="390.63" r="1.9" fill="none" stroke="#ff0000" stroke-width="1.15"/>
<circle cx="588.90" cy="391.01" r="1.9" fill="none" stroke="#ff0000" stroke-width="1.15"/>
<circle cx="590.22" cy="392.42" r="1.9" fill="none" stroke="#ff0000" stroke-width="1.15"/>
<circle cx="591.54" cy="393.63" r="1.9" fill="none" stroke="#ff0000" stroke-width="1.15"/>
<circle cx="592.86" cy="394.81" r="1.9" fill="none" stroke="#ff0000" stroke-width="1.15"/>
<circle cx="594.18" cy="393.64" r="1.9" fill="none" stroke="#ff0000" stroke-width="1.15"/>
<circle cx="595.50" cy="395.26" r="1.9" fill="none" stroke="#ff0000" stroke-width="1.15"/>
<circle cx="596.82" cy="396.78" r="1.9" fill="none" stroke="#ff0000" stroke-width="1.15"/>
<circle cx="598.14" cy="397.83" r="1.9" fill="none" stroke="#ff0000" stroke-width="1.15"/>
<circle cx="599.46" cy="398.51" r="1.9" fill="none" stroke="#ff0000" stroke-width="1.15"/>
<circle cx="600.78" cy="397.45" r="1.9" fill="none" stroke="#ff0000" stroke-width="1.15"/>
<circle cx="602.10" cy="399.11" r="1.9" fill="none" stroke="#ff0000" stroke-width="1.15"/>
<circle cx="603.42" cy="400.04" r="1.9" fill="none" stroke="#ff0000" stroke-width="1.15"/>
<circle cx="604.74" cy="401.29" r="1.9" fill="none" stroke="#ff0000" stroke-width="1.15"/>
<circle cx="606.06" cy="402.14" r="1.9" fill="none" stroke="#ff0000" stroke-width="1.15"/>
<circle cx="607.38" cy="402.42" r="1.9" fill="none" stroke="#ff0000" stroke-width="1.15"/>
<circle cx="608.70" cy="403.28" r="1.9" fill="none" stroke="#ff0000" stroke-width="1.15"/>
<circle cx="610.02" cy="403.84" r="1.9" fill="none" stroke="#ff0000" stroke-width="1.15"/>
<circle cx="611.34" cy="405.71" r="1.9" fill="none" stroke="#ff0000" stroke-width="1.15"/>
<circle cx="612.66" cy="407.08" r="1.9" fill="none" stroke="#ff0000" stroke-width="1.15"/>
<circle cx="613.98" cy="406.99" r="1.9" fill="none" stroke="#ff0000" stroke-width="1.15"/>
<circle cx="615.30" cy="406.65" r="1.9" fill="none" stroke="#ff0000" stroke-width="1.15"/>
<circle cx="616.62" cy="407.93" r="1.9" fill="none" stroke="#ff0000" stroke-width="1.15"/>
<circle cx="617.94" cy="409.51" r="1.9" fill="none" stroke="#ff0000" stroke-width="1.15"/>
<circle cx="619.26" cy="410.45" r="1.9" fill="none" stroke="#ff0000" stroke-width="1.15"/>
<circle cx="620.58" cy="411.63" r="1.9" fill="none" stroke="#ff0000" stroke-width="1.15"/>
<circle cx="621.90" cy="410.71" r="1.9" fill="none" stroke="#ff0000" stroke-width="1.15"/>
<circle cx="623.22" cy="412.60" r="1.9" fill="none" stroke="#ff0000" stroke-width="1.15"/>
<circle cx="624.54" cy="413.92" r="1.9" fill="none" stroke="#ff0000" stroke-width="1.15"/>
<circle cx="625.86" cy="414.20" r="1.9" fill="none" stroke="#ff0000" stroke-width="1.15"/>
<circle cx="627.18" cy="415.27" r="1.9" fill="none" stroke="#ff0000" stroke-width="1.15"/>
<circle cx="628.50" cy="415.56" r="1.9" fill="none" stroke="#ff0000" stroke-width="1.15"/>
<circle cx="629.82" cy="415.49" r="1.9" fill="none" stroke="#ff0000" stroke-width="1.15"/>
<circle cx="631.14" cy="416.85" r="1.9" fill="none" stroke="#ff0000" stroke-width="1.15"/>
<circle cx="632.46" cy="418.28" r="1.9" fill="none" stroke="#ff0000" stroke-width="1.15"/>
<circle cx="633.78" cy="419.65" r="1.9" fill="none" stroke="#ff0000" stroke-width="1.15"/>
<circle cx="635.10" cy="421.05" r="1.9" fill="none" stroke="#ff0000" stroke-width="1.15"/>
<circle cx="636.42" cy="419.85" r="1.9" fill="none" stroke="#ff0000" stroke-width="1.15"/>
<circle cx="637.74" cy="420.62" r="1.9" fill="none" stroke="#ff0000" stroke-width="1.15"/>
<circle cx="639.06" cy="422.32" r="1.9" fill="none" stroke="#ff0000" stroke-width="1.15"/>
<circle cx="640.38" cy="423.45" r="1.9" fill="none" stroke="#ff0000" stroke-width="1.15"/>
<circle cx="641.70" cy="425.23" r="1.9" fill="none" stroke="#ff0000" stroke-width="1.15"/>
<circle cx="643.02" cy="423.58" r="1.9" fill="none" stroke="#ff0000" stroke-width="1.15"/>
<circle cx="644.34" cy="424.34" r="1.9" fill="none" stroke="#ff0000" stroke-width="1.15"/>
<circle cx="645.66" cy="425.65" r="1.9" fill="none" stroke="#ff0000" stroke-width="1.15"/>
<circle cx="646.98" cy="427.74" r="1.9" fill="none" stroke="#ff0000" stroke-width="1.15"/>
<circle cx="648.30" cy="428.26" r="1.9" fill="none" stroke="#ff0000" stroke-width="1.15"/>
<circle cx="649.62" cy="426.73" r="1.9" fill="none" stroke="#ff0000" stroke-width="1.15"/>
<line x1="383.30" y1="263.00" x2="651.00" y2="428.30" stroke="#000" stroke-width="1.5"/>
<line x1="383.30" y1="248.00" x2="651.00" y2="248.00" stroke="#0000ff" stroke-width="1.5"/>
<line x1="651.00" y1="248.00" x2="651.00" y2="436.80" stroke="#0000ff" stroke-width="1.5"/>
<line x1="383.30" y1="436.80" x2="651.00" y2="436.80" stroke="#ff0000" stroke-width="1.5"/>
<line x1="383.30" y1="248.00" x2="383.30" y2="436.80" stroke="#ff0000" stroke-width="1.5"/>
<line x1="379.30" y1="254.00" x2="383.30" y2="254.00" stroke="#ff0000" stroke-width="1.3"/>
<line x1="379.30" y1="286.76" x2="383.30" y2="286.76" stroke="#ff0000" stroke-width="1.3"/>
<line x1="379.30" y1="319.52" x2="383.30" y2="319.52" stroke="#ff0000" stroke-width="1.3"/>
<line x1="379.30" y1="352.28" x2="383.30" y2="352.28" stroke="#ff0000" stroke-width="1.3"/>
<line x1="379.30" y1="385.04" x2="383.30" y2="385.04" stroke="#ff0000" stroke-width="1.3"/>
<line x1="379.30" y1="417.80" x2="383.30" y2="417.80" stroke="#ff0000" stroke-width="1.3"/>
<line x1="381.30" y1="270.38" x2="383.30" y2="270.38" stroke="#ff0000" stroke-width="1.3"/>
<line x1="381.30" y1="303.14" x2="383.30" y2="303.14" stroke="#ff0000" stroke-width="1.3"/>
<line x1="381.30" y1="335.90" x2="383.30" y2="335.90" stroke="#ff0000" stroke-width="1.3"/>
<line x1="381.30" y1="368.66" x2="383.30" y2="368.66" stroke="#ff0000" stroke-width="1.3"/>
<line x1="381.30" y1="401.42" x2="383.30" y2="401.42" stroke="#ff0000" stroke-width="1.3"/>
<line x1="381.30" y1="434.18" x2="383.30" y2="434.18" stroke="#ff0000" stroke-width="1.3"/>
<text transform="translate(377.00,257.60) scale(1.1,1)" font-size="10" text-anchor="end" fill="#ff0000">0.00</text>
<text transform="translate(377.00,290.36) scale(1.1,1)" font-size="10" text-anchor="end" fill="#ff0000">-0.05</text>
<text transform="translate(377.00,323.12) scale(1.1,1)" font-size="10" text-anchor="end" fill="#ff0000">-0.10</text>
<text transform="translate(377.00,355.88) scale(1.1,1)" font-size="10" text-anchor="end" fill="#ff0000">-0.15</text>
<text transform="translate(377.00,388.64) scale(1.1,1)" font-size="10" text-anchor="end" fill="#ff0000">-0.20</text>
<text transform="translate(377.00,421.40) scale(1.1,1)" font-size="10" text-anchor="end" fill="#ff0000">-0.25</text>
<line x1="647.00" y1="409.70" x2="651.00" y2="409.70" stroke="#0000ff" stroke-width="1.3"/>
<line x1="647.00" y1="379.74" x2="651.00" y2="379.74" stroke="#0000ff" stroke-width="1.3"/>
<line x1="647.00" y1="349.78" x2="651.00" y2="349.78" stroke="#0000ff" stroke-width="1.3"/>
<line x1="647.00" y1="319.82" x2="651.00" y2="319.82" stroke="#0000ff" stroke-width="1.3"/>
<line x1="647.00" y1="289.86" x2="651.00" y2="289.86" stroke="#0000ff" stroke-width="1.3"/>
<line x1="647.00" y1="259.90" x2="651.00" y2="259.90" stroke="#0000ff" stroke-width="1.3"/>
<line x1="649.00" y1="394.72" x2="651.00" y2="394.72" stroke="#0000ff" stroke-width="1.3"/>
<line x1="649.00" y1="364.76" x2="651.00" y2="364.76" stroke="#0000ff" stroke-width="1.3"/>
<line x1="649.00" y1="334.80" x2="651.00" y2="334.80" stroke="#0000ff" stroke-width="1.3"/>
<line x1="649.00" y1="304.84" x2="651.00" y2="304.84" stroke="#0000ff" stroke-width="1.3"/>
<line x1="649.00" y1="274.88" x2="651.00" y2="274.88" stroke="#0000ff" stroke-width="1.3"/>
<line x1="649.00" y1="424.68" x2="651.00" y2="424.68" stroke="#0000ff" stroke-width="1.3"/>
<text transform="translate(646.50,413.30) scale(1.1,1)" font-size="10" text-anchor="end" fill="#0000ff">10</text>
<text transform="translate(646.50,383.34) scale(1.1,1)" font-size="10" text-anchor="end" fill="#0000ff">15</text>
<text transform="translate(646.50,353.38) scale(1.1,1)" font-size="10" text-anchor="end" fill="#0000ff">20</text>
<text transform="translate(646.50,323.42) scale(1.1,1)" font-size="10" text-anchor="end" fill="#0000ff">25</text>
<text transform="translate(646.50,293.46) scale(1.1,1)" font-size="10" text-anchor="end" fill="#0000ff">30</text>
<text transform="translate(646.50,263.50) scale(1.1,1)" font-size="10" text-anchor="end" fill="#0000ff">35</text>
<line x1="383.30" y1="436.80" x2="383.30" y2="440.80" stroke="#ff0000" stroke-width="1.3"/>
<line x1="416.30" y1="436.80" x2="416.30" y2="440.80" stroke="#ff0000" stroke-width="1.3"/>
<line x1="449.30" y1="436.80" x2="449.30" y2="440.80" stroke="#ff0000" stroke-width="1.3"/>
<line x1="482.30" y1="436.80" x2="482.30" y2="440.80" stroke="#ff0000" stroke-width="1.3"/>
<line x1="515.30" y1="436.80" x2="515.30" y2="440.80" stroke="#ff0000" stroke-width="1.3"/>
<line x1="548.30" y1="436.80" x2="548.30" y2="440.80" stroke="#ff0000" stroke-width="1.3"/>
<line x1="581.30" y1="436.80" x2="581.30" y2="440.80" stroke="#ff0000" stroke-width="1.3"/>
<line x1="614.30" y1="436.80" x2="614.30" y2="440.80" stroke="#ff0000" stroke-width="1.3"/>
<line x1="647.30" y1="436.80" x2="647.30" y2="440.80" stroke="#ff0000" stroke-width="1.3"/>
<line x1="399.80" y1="436.80" x2="399.80" y2="438.80" stroke="#ff0000" stroke-width="1.3"/>
<line x1="432.80" y1="436.80" x2="432.80" y2="438.80" stroke="#ff0000" stroke-width="1.3"/>
<line x1="465.80" y1="436.80" x2="465.80" y2="438.80" stroke="#ff0000" stroke-width="1.3"/>
<line x1="498.80" y1="436.80" x2="498.80" y2="438.80" stroke="#ff0000" stroke-width="1.3"/>
<line x1="531.80" y1="436.80" x2="531.80" y2="438.80" stroke="#ff0000" stroke-width="1.3"/>
<line x1="564.80" y1="436.80" x2="564.80" y2="438.80" stroke="#ff0000" stroke-width="1.3"/>
<line x1="597.80" y1="436.80" x2="597.80" y2="438.80" stroke="#ff0000" stroke-width="1.3"/>
<line x1="630.80" y1="436.80" x2="630.80" y2="438.80" stroke="#ff0000" stroke-width="1.3"/>
<text transform="translate(383.30,452.50) scale(1.1,1)" font-size="10" text-anchor="middle" fill="#ff0000">0</text>
<text transform="translate(416.30,452.50) scale(1.1,1)" font-size="10" text-anchor="middle" fill="#ff0000">25</text>
<text transform="translate(449.30,452.50) scale(1.1,1)" font-size="10" text-anchor="middle" fill="#ff0000">50</text>
<text transform="translate(482.30,452.50) scale(1.1,1)" font-size="10" text-anchor="middle" fill="#ff0000">75</text>
<text transform="translate(515.30,452.50) scale(1.1,1)" font-size="10" text-anchor="middle" fill="#ff0000">100</text>
<text transform="translate(548.30,452.50) scale(1.1,1)" font-size="10" text-anchor="middle" fill="#ff0000">125</text>
<text transform="translate(581.30,452.50) scale(1.1,1)" font-size="10" text-anchor="middle" fill="#ff0000">150</text>
<text transform="translate(614.30,452.50) scale(1.1,1)" font-size="10" text-anchor="middle" fill="#ff0000">175</text>
<text transform="translate(647.30,452.50) scale(1.1,1)" font-size="10" text-anchor="middle" fill="#ff0000">200</text>
<text transform="translate(522.20,471.00) scale(1.12,1)" font-size="12" text-anchor="middle" fill="#ff0000">Time(s)</text>
<text transform="translate(349.30,350.70) rotate(-90)" font-size="12.0" text-anchor="middle" fill="#ff0000">Ln[(T<tspan font-size="0.72em">t</tspan><tspan>-T</tspan><tspan font-size="0.72em">0</tspan><tspan>)/(T</tspan><tspan font-size="0.72em">m</tspan><tspan>-T</tspan><tspan font-size="0.72em">0</tspan><tspan>)]</tspan></text>
<path d="M627.52,363.12 L627.52,354.08 L618.88,358.60 Z" fill="none" stroke="#0000ff" stroke-width="0.95" stroke-linejoin="miter"/>
<text transform="translate(628.00,352.40) rotate(-90)" font-size="13.5" text-anchor="start" fill="#0000ff">T(°C)</text>
<text transform="translate(519.30,289.30) scale(1.1,1)" font-size="11.2" text-anchor="start" fill="#000">Ag@Ag<tspan font-size="0.7em">2</tspan><tspan>S</tspan></text>
<text transform="translate(519.50,316.60) scale(1.07,1)" font-size="11.2" text-anchor="start" fill="#000">B=0.00127 S<tspan font-size="0.62em" dy="-3.5">-1</tspan></text>
<text transform="translate(333.60,265.70) scale(0.96,1)" font-size="33" text-anchor="start" fill="#000">d</text>
<polyline points="54.50,653.88 54.97,642.90 55.44,632.68 55.91,623.19 56.38,614.37 56.85,606.17 57.32,598.55 57.79,591.46 58.25,584.88 58.72,578.76 59.19,573.07 59.66,567.78 60.13,562.86 60.60,558.29 61.07,554.04 61.54,550.09 62.01,546.42 62.48,543.01 62.95,539.84 63.42,536.89 63.89,534.15 64.36,531.60 64.82,529.24 65.29,527.03 65.76,524.99 66.23,523.09 66.70,521.32 67.17,519.68 67.64,518.15 68.11,516.73 68.58,515.41 69.05,514.18 69.52,513.04 69.99,511.98 70.46,511.00 70.93,510.08 71.39,509.23 71.86,508.44 72.33,507.71 72.80,507.02 73.27,506.39 73.74,505.80 74.21,505.25 74.68,504.74 75.15,504.26 75.62,503.82 76.09,503.41 76.56,503.03 77.03,502.68 77.50,502.35 77.97,502.04 78.43,501.76 78.90,501.49 79.37,501.25 79.84,501.02 80.31,500.81 80.78,500.61 81.25,500.43 81.72,500.26 82.19,500.10 82.66,499.95 83.13,499.81 83.60,499.69 84.07,499.57 84.49,499.47 84.49,499.47 84.96,510.31 85.42,520.40 85.89,529.77 86.36,538.48 86.83,546.58 87.30,554.10 87.77,561.10 88.24,567.60 88.71,573.65 89.18,579.27 89.65,584.49 90.12,589.34 90.59,593.86 91.06,598.05 91.53,601.95 91.99,605.58 92.46,608.94 92.93,612.08 93.40,614.99 93.87,617.69 94.34,620.21 94.81,622.55 95.28,624.72 95.75,626.74 96.22,628.62 96.69,630.36 97.16,631.98 97.63,633.49 98.10,634.89 98.56,636.20 99.03,637.41 99.50,638.53 99.97,639.58 100.44,640.55 100.91,641.46 101.38,642.30 101.85,643.08 102.32,643.80 102.79,644.48 103.26,645.11 103.73,645.69 104.20,646.23 104.67,646.74 105.14,647.20 105.60,647.64 106.07,648.04 106.54,648.42 107.01,648.77 107.48,649.09 107.95,649.40 108.42,649.68 108.89,649.94 109.36,650.18 109.83,650.41 110.30,650.62 110.77,650.81 111.24,650.99 111.71,651.16 112.17,651.32 112.64,651.46 113.11,651.60 113.53,651.71 113.53,651.71 114.00,640.39 114.47,629.90 114.94,620.17 115.41,611.16 115.88,602.80 116.35,595.06 116.82,587.89 117.29,581.24 117.76,575.07 118.23,569.36 118.70,564.06 119.16,559.16 119.63,554.61 120.10,550.39 120.57,546.49 121.04,542.87 121.51,539.51 121.98,536.40 122.45,533.52 122.92,530.84 123.39,528.37 123.86,526.07 124.33,523.95 124.80,521.98 125.27,520.15 125.73,518.46 126.20,516.89 126.67,515.43 127.14,514.08 127.61,512.83 128.08,511.68 128.55,510.60 129.02,509.61 129.49,508.69 129.96,507.83 130.43,507.04 130.90,506.31 131.37,505.62 131.84,504.99 132.31,504.41 132.77,503.87 133.24,503.37 133.71,502.90 134.18,502.47 134.65,502.07 135.12,501.70 135.59,501.36 136.06,501.04 136.53,500.74 137.00,500.47 137.47,500.22 137.94,499.98 138.41,499.77 138.88,499.56 139.34,499.38 139.47,499.33 139.47,499.33 139.94,510.05 140.41,520.01 140.88,529.26 141.35,537.87 141.81,545.87 142.28,553.31 142.75,560.22 143.22,566.64 143.69,572.62 144.16,578.17 144.63,583.33 145.10,588.12 145.57,592.58 146.04,596.73 146.51,600.58 146.98,604.16 147.45,607.49 147.92,610.58 148.38,613.46 148.85,616.13 149.32,618.62 149.79,620.92 150.26,623.07 150.73,625.07 151.20,626.92 151.67,628.65 152.14,630.25 152.61,631.74 153.08,633.12 153.55,634.41 154.02,635.61 154.49,636.72 154.95,637.75 155.42,638.71 155.89,639.61 156.36,640.44 156.83,641.21 157.30,641.93 157.77,642.59 158.24,643.21 158.71,643.79 159.18,644.33 159.65,644.82 160.12,645.29 160.59,645.72 161.06,646.12 161.53,646.49 161.99,646.83 162.46,647.15 162.93,647.45 163.40,647.73 163.87,647.99 164.34,648.23 164.81,648.45 165.28,648.66 165.75,648.85 166.22,649.03 166.69,649.20 167.13,649.34 167.13,649.34 167.60,638.45 168.07,628.35 168.54,619.00 169.01,610.32 169.48,602.29 169.95,594.84 170.42,587.93 170.89,581.53 171.36,575.60 171.82,570.11 172.29,565.01 172.76,560.29 173.23,555.91 173.70,551.86 174.17,548.10 174.64,544.62 175.11,541.39 175.58,538.39 176.05,535.62 176.52,533.05 176.99,530.67 177.46,528.46 177.93,526.41 178.40,524.52 178.86,522.76 179.33,521.13 179.80,519.62 180.27,518.22 180.74,516.92 181.21,515.72 181.68,514.61 182.15,513.57 182.62,512.62 183.09,511.73 183.56,510.91 184.03,510.15 184.50,509.44 184.97,508.78 185.43,508.18 185.90,507.62 186.37,507.09 186.84,506.61 187.31,506.16 187.78,505.75 188.25,505.37 188.72,505.01 189.19,504.68 189.66,504.37 190.13,504.09 190.60,503.83 191.07,503.58 191.54,503.36 192.00,503.15 192.47,502.95 192.94,502.77 193.41,502.61 193.61,502.54 193.61,502.54 194.08,513.56 194.55,523.80 195.02,533.31 195.49,542.16 195.96,550.38 196.43,558.03 196.90,565.13 197.36,571.74 197.83,577.88 198.30,583.59 198.77,588.89 199.24,593.82 199.71,598.40 200.18,602.66 200.65,606.63 201.12,610.31 201.59,613.73 202.06,616.91 202.53,619.86 203.00,622.61 203.47,625.17 203.93,627.54 204.40,629.75 204.87,631.80 205.34,633.71 205.81,635.48 206.28,637.13 206.75,638.66 207.22,640.08 207.69,641.41 208.16,642.64 208.63,643.78 209.10,644.84 209.57,645.83 210.04,646.75 210.51,647.60 210.97,648.39 211.44,649.13 211.91,649.82 212.38,650.45 212.85,651.05 213.32,651.60 213.79,652.11 214.26,652.59 214.73,653.03 215.20,653.44 215.67,653.82 216.04,654.10 216.04,654.10 216.51,642.90 216.98,632.51 217.45,622.89 217.92,613.97 218.38,605.70 218.85,598.04 219.32,590.93 219.79,584.35 220.26,578.25 220.73,572.60 221.20,567.36 221.67,562.50 222.14,558.00 222.61,553.83 223.08,549.96 223.55,546.38 224.02,543.06 224.49,539.98 224.95,537.12 225.42,534.48 225.89,532.03 226.36,529.76 226.83,527.65 227.30,525.70 227.77,523.89 228.24,522.22 228.71,520.67 229.18,519.23 229.65,517.89 230.12,516.65 230.59,515.51 231.06,514.45 231.52,513.46 231.99,512.55 232.46,511.70 232.93,510.92 233.40,510.19 233.87,509.52 234.34,508.90 234.81,508.32 235.28,507.78 235.75,507.29 236.22,506.82 236.69,506.40 237.16,506.00 237.63,505.64 238.10,505.30 238.56,504.98 239.03,504.69 239.50,504.42 239.97,504.17 240.44,503.94 240.91,503.72 241.38,503.52 241.85,503.34 242.32,503.16 242.79,503.01 243.01,502.93 243.01,502.93 243.48,513.61 243.95,523.53 244.42,532.75 244.89,541.32 245.36,549.29 245.83,556.69 246.30,563.58 246.76,569.98 247.23,575.92 247.70,581.45 248.17,586.59 248.64,591.37 249.11,595.81 249.58,599.94 250.05,603.77 250.52,607.34 250.99,610.65 251.46,613.74 251.93,616.60 252.40,619.26 252.87,621.74 253.33,624.04 253.80,626.17 254.27,628.16 254.74,630.01 255.21,631.73 255.68,633.32 256.15,634.81 256.62,636.19 257.09,637.47 257.56,638.66 258.03,639.77 258.50,640.80 258.97,641.75 259.44,642.64 259.91,643.47 260.37,644.24 260.84,644.95 261.31,645.62 261.78,646.24 262.25,646.81 262.72,647.34 263.19,647.84 263.66,648.30 264.13,648.73 264.60,649.13 265.07,649.50 265.29,649.66 265.29,649.66 265.76,639.33 266.23,629.72 266.70,620.79 267.17,612.49 267.64,604.77 268.11,597.60 268.57,590.93 269.04,584.73 269.51,578.97 269.98,573.62 270.45,568.64 270.92,564.01 271.39,559.71 271.86,555.71 272.33,552.00 272.80,548.54 273.27,545.33 273.74,542.35 274.21,539.58 274.68,537.00 275.15,534.60 275.61,532.37 276.08,530.30 276.55,528.38 277.02,526.59 277.49,524.92 277.96,523.38 278.43,521.94 278.90,520.61 279.37,519.36 279.84,518.21 280.31,517.14 280.78,516.14 281.25,515.21 281.72,514.35 282.18,513.55 282.65,512.81 283.12,512.11 283.59,511.47 284.06,510.87 284.53,510.32 285.00,509.80 285.47,509.32 285.94,508.87 286.41,508.46 286.88,508.07 287.35,507.71 287.82,507.38 288.29,507.07 288.75,506.78 289.22,506.52 289.69,506.27 290.16,506.04 290.63,505.82 291.10,505.62 291.57,505.44 292.04,505.26 292.51,505.10 292.98,504.95 293.45,504.81 293.92,504.69 294.39,504.57 294.86,504.45 295.32,504.35 295.47,504.32 295.47,504.32 295.94,514.75 296.41,524.45 296.88,533.47 297.35,541.85 297.82,549.64 298.29,556.88 298.76,563.61 299.23,569.87 299.70,575.68 300.17,581.09 300.64,586.11 301.10,590.78 301.57,595.12 302.04,599.16 302.51,602.91 302.98,606.40 303.45,609.64 303.92,612.65 304.39,615.45 304.86,618.05 305.33,620.47 305.80,622.72 306.27,624.81 306.74,626.75 307.21,628.56 307.67,630.24 308.14,631.80 308.61,633.25 309.08,634.60 309.55,635.85 310.02,637.02 310.49,638.10 310.96,639.11 311.43,640.04 311.90,640.91 312.37,641.72 312.84,642.47 313.31,643.17 313.78,643.82 314.25,644.42 314.71,644.99 315.18,645.51 315.65,645.99 316.12,646.44 316.59,646.86 317.06,647.25 317.53,647.61 318.00,647.95 318.47,648.26 318.94,648.55 319.41,648.82 319.88,649.07 320.35,649.31 320.82,649.52 321.01,649.61" fill="none" stroke="#ff0000" stroke-width="1.35" stroke-linejoin="round"/>
<circle cx="54.50" cy="653.88" r="1.3" fill="#fff" stroke="#ff0000" stroke-width="1.1"/>
<circle cx="54.97" cy="642.90" r="1.3" fill="#fff" stroke="#ff0000" stroke-width="1.1"/>
<circle cx="55.44" cy="632.68" r="1.3" fill="#fff" stroke="#ff0000" stroke-width="1.1"/>
<circle cx="55.91" cy="623.19" r="1.3" fill="#fff" stroke="#ff0000" stroke-width="1.1"/>
<circle cx="56.38" cy="614.37" r="1.3" fill="#fff" stroke="#ff0000" stroke-width="1.1"/>
<circle cx="56.85" cy="606.17" r="1.3" fill="#fff" stroke="#ff0000" stroke-width="1.1"/>
<circle cx="57.32" cy="598.55" r="1.3" fill="#fff" stroke="#ff0000" stroke-width="1.1"/>
<circle cx="57.79" cy="591.46" r="1.3" fill="#fff" stroke="#ff0000" stroke-width="1.1"/>
<circle cx="58.25" cy="584.88" r="1.3" fill="#fff" stroke="#ff0000" stroke-width="1.1"/>
<circle cx="58.72" cy="578.76" r="1.3" fill="#fff" stroke="#ff0000" stroke-width="1.1"/>
<circle cx="59.19" cy="573.07" r="1.3" fill="#fff" stroke="#ff0000" stroke-width="1.1"/>
<circle cx="59.66" cy="567.78" r="1.3" fill="#fff" stroke="#ff0000" stroke-width="1.1"/>
<circle cx="60.13" cy="562.86" r="1.3" fill="#fff" stroke="#ff0000" stroke-width="1.1"/>
<circle cx="60.60" cy="558.29" r="1.3" fill="#fff" stroke="#ff0000" stroke-width="1.1"/>
<circle cx="61.07" cy="554.04" r="1.3" fill="#fff" stroke="#ff0000" stroke-width="1.1"/>
<circle cx="61.54" cy="550.09" r="1.3" fill="#fff" stroke="#ff0000" stroke-width="1.1"/>
<circle cx="62.01" cy="546.42" r="1.3" fill="#fff" stroke="#ff0000" stroke-width="1.1"/>
<circle cx="62.48" cy="543.01" r="1.3" fill="#fff" stroke="#ff0000" stroke-width="1.1"/>
<circle cx="62.95" cy="539.84" r="1.3" fill="#fff" stroke="#ff0000" stroke-width="1.1"/>
<circle cx="63.42" cy="536.89" r="1.3" fill="#fff" stroke="#ff0000" stroke-width="1.1"/>
<circle cx="63.89" cy="534.15" r="1.3" fill="#fff" stroke="#ff0000" stroke-width="1.1"/>
<circle cx="64.36" cy="531.60" r="1.3" fill="#fff" stroke="#ff0000" stroke-width="1.1"/>
<circle cx="64.82" cy="529.24" r="1.3" fill="#fff" stroke="#ff0000" stroke-width="1.1"/>
<circle cx="65.29" cy="527.03" r="1.3" fill="#fff" stroke="#ff0000" stroke-width="1.1"/>
<circle cx="65.76" cy="524.99" r="1.3" fill="#fff" stroke="#ff0000" stroke-width="1.1"/>
<circle cx="66.23" cy="523.09" r="1.3" fill="#fff" stroke="#ff0000" stroke-width="1.1"/>
<circle cx="66.70" cy="521.32" r="1.3" fill="#fff" stroke="#ff0000" stroke-width="1.1"/>
<circle cx="67.17" cy="519.68" r="1.3" fill="#fff" stroke="#ff0000" stroke-width="1.1"/>
<circle cx="67.64" cy="518.15" r="1.3" fill="#fff" stroke="#ff0000" stroke-width="1.1"/>
<circle cx="68.11" cy="516.73" r="1.3" fill="#fff" stroke="#ff0000" stroke-width="1.1"/>
<circle cx="68.58" cy="515.41" r="1.3" fill="#fff" stroke="#ff0000" stroke-width="1.1"/>
<circle cx="69.05" cy="514.18" r="1.3" fill="#fff" stroke="#ff0000" stroke-width="1.1"/>
<circle cx="69.52" cy="513.04" r="1.3" fill="#fff" stroke="#ff0000" stroke-width="1.1"/>
<circle cx="69.99" cy="511.98" r="1.3" fill="#fff" stroke="#ff0000" stroke-width="1.1"/>
<circle cx="70.46" cy="511.00" r="1.3" fill="#fff" stroke="#ff0000" stroke-width="1.1"/>
<circle cx="70.93" cy="510.08" r="1.3" fill="#fff" stroke="#ff0000" stroke-width="1.1"/>
<circle cx="71.39" cy="509.23" r="1.3" fill="#fff" stroke="#ff0000" stroke-width="1.1"/>
<circle cx="71.86" cy="508.44" r="1.3" fill="#fff" stroke="#ff0000" stroke-width="1.1"/>
<circle cx="72.33" cy="507.71" r="1.3" fill="#fff" stroke="#ff0000" stroke-width="1.1"/>
<circle cx="72.80" cy="507.02" r="1.3" fill="#fff" stroke="#ff0000" stroke-width="1.1"/>
<circle cx="73.27" cy="506.39" r="1.3" fill="#fff" stroke="#ff0000" stroke-width="1.1"/>
<circle cx="73.74" cy="505.80" r="1.3" fill="#fff" stroke="#ff0000" stroke-width="1.1"/>
<circle cx="74.21" cy="505.25" r="1.3" fill="#fff" stroke="#ff0000" stroke-width="1.1"/>
<circle cx="74.68" cy="504.74" r="1.3" fill="#fff" stroke="#ff0000" stroke-width="1.1"/>
<circle cx="75.15" cy="504.26" r="1.3" fill="#fff" stroke="#ff0000" stroke-width="1.1"/>
<circle cx="75.62" cy="503.82" r="1.3" fill="#fff" stroke="#ff0000" stroke-width="1.1"/>
<circle cx="76.09" cy="503.41" r="1.3" fill="#fff" stroke="#ff0000" stroke-width="1.1"/>
<circle cx="76.56" cy="503.03" r="1.3" fill="#fff" stroke="#ff0000" stroke-width="1.1"/>
<circle cx="77.03" cy="502.68" r="1.3" fill="#fff" stroke="#ff0000" stroke-width="1.1"/>
<circle cx="77.50" cy="502.35" r="1.3" fill="#fff" stroke="#ff0000" stroke-width="1.1"/>
<circle cx="77.97" cy="502.04" r="1.3" fill="#fff" stroke="#ff0000" stroke-width="1.1"/>
<circle cx="78.43" cy="501.76" r="1.3" fill="#fff" stroke="#ff0000" stroke-width="1.1"/>
<circle cx="78.90" cy="501.49" r="1.3" fill="#fff" stroke="#ff0000" stroke-width="1.1"/>
<circle cx="79.37" cy="501.25" r="1.3" fill="#fff" stroke="#ff0000" stroke-width="1.1"/>
<circle cx="79.84" cy="501.02" r="1.3" fill="#fff" stroke="#ff0000" stroke-width="1.1"/>
<circle cx="80.31" cy="500.81" r="1.3" fill="#fff" stroke="#ff0000" stroke-width="1.1"/>
<circle cx="80.78" cy="500.61" r="1.3" fill="#fff" stroke="#ff0000" stroke-width="1.1"/>
<circle cx="81.25" cy="500.43" r="1.3" fill="#fff" stroke="#ff0000" stroke-width="1.1"/>
<circle cx="81.72" cy="500.26" r="1.3" fill="#fff" stroke="#ff0000" stroke-width="1.1"/>
<circle cx="82.19" cy="500.10" r="1.3" fill="#fff" stroke="#ff0000" stroke-width="1.1"/>
<circle cx="82.66" cy="499.95" r="1.3" fill="#fff" stroke="#ff0000" stroke-width="1.1"/>
<circle cx="83.13" cy="499.81" r="1.3" fill="#fff" stroke="#ff0000" stroke-width="1.1"/>
<circle cx="83.60" cy="499.69" r="1.3" fill="#fff" stroke="#ff0000" stroke-width="1.1"/>
<circle cx="84.07" cy="499.57" r="1.3" fill="#fff" stroke="#ff0000" stroke-width="1.1"/>
<circle cx="84.49" cy="499.47" r="1.3" fill="#fff" stroke="#ff0000" stroke-width="1.1"/>
<circle cx="84.49" cy="499.47" r="1.3" fill="#fff" stroke="#ff0000" stroke-width="1.1"/>
<circle cx="84.96" cy="510.31" r="1.3" fill="#fff" stroke="#ff0000" stroke-width="1.1"/>
<circle cx="85.42" cy="520.40" r="1.3" fill="#fff" stroke="#ff0000" stroke-width="1.1"/>
<circle cx="85.89" cy="529.77" r="1.3" fill="#fff" stroke="#ff0000" stroke-width="1.1"/>
<circle cx="86.36" cy="538.48" r="1.3" fill="#fff" stroke="#ff0000" stroke-width="1.1"/>
<circle cx="86.83" cy="546.58" r="1.3" fill="#fff" stroke="#ff0000" stroke-width="1.1"/>
<circle cx="87.30" cy="554.10" r="1.3" fill="#fff" stroke="#ff0000" stroke-width="1.1"/>
<circle cx="87.77" cy="561.10" r="1.3" fill="#fff" stroke="#ff0000" stroke-width="1.1"/>
<circle cx="88.24" cy="567.60" r="1.3" fill="#fff" stroke="#ff0000" stroke-width="1.1"/>
<circle cx="88.71" cy="573.65" r="1.3" fill="#fff" stroke="#ff0000" stroke-width="1.1"/>
<circle cx="89.18" cy="579.27" r="1.3" fill="#fff" stroke="#ff0000" stroke-width="1.1"/>
<circle cx="89.65" cy="584.49" r="1.3" fill="#fff" stroke="#ff0000" stroke-width="1.1"/>
<circle cx="90.12" cy="589.34" r="1.3" fill="#fff" stroke="#ff0000" stroke-width="1.1"/>
<circle cx="90.59" cy="593.86" r="1.3" fill="#fff" stroke="#ff0000" stroke-width="1.1"/>
<circle cx="91.06" cy="598.05" r="1.3" fill="#fff" stroke="#ff0000" stroke-width="1.1"/>
<circle cx="91.53" cy="601.95" r="1.3" fill="#fff" stroke="#ff0000" stroke-width="1.1"/>
<circle cx="91.99" cy="605.58" r="1.3" fill="#fff" stroke="#ff0000" stroke-width="1.1"/>
<circle cx="92.46" cy="608.94" r="1.3" fill="#fff" stroke="#ff0000" stroke-width="1.1"/>
<circle cx="92.93" cy="612.08" r="1.3" fill="#fff" stroke="#ff0000" stroke-width="1.1"/>
<circle cx="93.40" cy="614.99" r="1.3" fill="#fff" stroke="#ff0000" stroke-width="1.1"/>
<circle cx="93.87" cy="617.69" r="1.3" fill="#fff" stroke="#ff0000" stroke-width="1.1"/>
<circle cx="94.34" cy="620.21" r="1.3" fill="#fff" stroke="#ff0000" stroke-width="1.1"/>
<circle cx="94.81" cy="622.55" r="1.3" fill="#fff" stroke="#ff0000" stroke-width="1.1"/>
<circle cx="95.28" cy="624.72" r="1.3" fill="#fff" stroke="#ff0000" stroke-width="1.1"/>
<circle cx="95.75" cy="626.74" r="1.3" fill="#fff" stroke="#ff0000" stroke-width="1.1"/>
<circle cx="96.22" cy="628.62" r="1.3" fill="#fff" stroke="#ff0000" stroke-width="1.1"/>
<circle cx="96.69" cy="630.36" r="1.3" fill="#fff" stroke="#ff0000" stroke-width="1.1"/>
<circle cx="97.16" cy="631.98" r="1.3" fill="#fff" stroke="#ff0000" stroke-width="1.1"/>
<circle cx="97.63" cy="633.49" r="1.3" fill="#fff" stroke="#ff0000" stroke-width="1.1"/>
<circle cx="98.10" cy="634.89" r="1.3" fill="#fff" stroke="#ff0000" stroke-width="1.1"/>
<circle cx="98.56" cy="636.20" r="1.3" fill="#fff" stroke="#ff0000" stroke-width="1.1"/>
<circle cx="99.03" cy="637.41" r="1.3" fill="#fff" stroke="#ff0000" stroke-width="1.1"/>
<circle cx="99.50" cy="638.53" r="1.3" fill="#fff" stroke="#ff0000" stroke-width="1.1"/>
<circle cx="99.97" cy="639.58" r="1.3" fill="#fff" stroke="#ff0000" stroke-width="1.1"/>
<circle cx="100.44" cy="640.55" r="1.3" fill="#fff" stroke="#ff0000" stroke-width="1.1"/>
<circle cx="100.91" cy="641.46" r="1.3" fill="#fff" stroke="#ff0000" stroke-width="1.1"/>
<circle cx="101.38" cy="642.30" r="1.3" fill="#fff" stroke="#ff0000" stroke-width="1.1"/>
<circle cx="101.85" cy="643.08" r="1.3" fill="#fff" stroke="#ff0000" stroke-width="1.1"/>
<circle cx="102.32" cy="643.80" r="1.3" fill="#fff" stroke="#ff0000" stroke-width="1.1"/>
<circle cx="102.79" cy="644.48" r="1.3" fill="#fff" stroke="#ff0000" stroke-width="1.1"/>
<circle cx="103.26" cy="645.11" r="1.3" fill="#fff" stroke="#ff0000" stroke-width="1.1"/>
<circle cx="103.73" cy="645.69" r="1.3" fill="#fff" stroke="#ff0000" stroke-width="1.1"/>
<circle cx="104.20" cy="646.23" r="1.3" fill="#fff" stroke="#ff0000" stroke-width="1.1"/>
<circle cx="104.67" cy="646.74" r="1.3" fill="#fff" stroke="#ff0000" stroke-width="1.1"/>
<circle cx="105.14" cy="647.20" r="1.3" fill="#fff" stroke="#ff0000" stroke-width="1.1"/>
<circle cx="105.60" cy="647.64" r="1.3" fill="#fff" stroke="#ff0000" stroke-width="1.1"/>
<circle cx="106.07" cy="648.04" r="1.3" fill="#fff" stroke="#ff0000" stroke-width="1.1"/>
<circle cx="106.54" cy="648.42" r="1.3" fill="#fff" stroke="#ff0000" stroke-width="1.1"/>
<circle cx="107.01" cy="648.77" r="1.3" fill="#fff" stroke="#ff0000" stroke-width="1.1"/>
<circle cx="107.48" cy="649.09" r="1.3" fill="#fff" stroke="#ff0000" stroke-width="1.1"/>
<circle cx="107.95" cy="649.40" r="1.3" fill="#fff" stroke="#ff0000" stroke-width="1.1"/>
<circle cx="108.42" cy="649.68" r="1.3" fill="#fff" stroke="#ff0000" stroke-width="1.1"/>
<circle cx="108.89" cy="649.94" r="1.3" fill="#fff" stroke="#ff0000" stroke-width="1.1"/>
<circle cx="109.36" cy="650.18" r="1.3" fill="#fff" stroke="#ff0000" stroke-width="1.1"/>
<circle cx="109.83" cy="650.41" r="1.3" fill="#fff" stroke="#ff0000" stroke-width="1.1"/>
<circle cx="110.30" cy="650.62" r="1.3" fill="#fff" stroke="#ff0000" stroke-width="1.1"/>
<circle cx="110.77" cy="650.81" r="1.3" fill="#fff" stroke="#ff0000" stroke-width="1.1"/>
<circle cx="111.24" cy="650.99" r="1.3" fill="#fff" stroke="#ff0000" stroke-width="1.1"/>
<circle cx="111.71" cy="651.16" r="1.3" fill="#fff" stroke="#ff0000" stroke-width="1.1"/>
<circle cx="112.17" cy="651.32" r="1.3" fill="#fff" stroke="#ff0000" stroke-width="1.1"/>
<circle cx="112.64" cy="651.46" r="1.3" fill="#fff" stroke="#ff0000" stroke-width="1.1"/>
<circle cx="113.11" cy="651.60" r="1.3" fill="#fff" stroke="#ff0000" stroke-width="1.1"/>
<circle cx="113.53" cy="651.71" r="1.3" fill="#fff" stroke="#ff0000" stroke-width="1.1"/>
<circle cx="113.53" cy="651.71" r="1.3" fill="#fff" stroke="#ff0000" stroke-width="1.1"/>
<circle cx="114.00" cy="640.39" r="1.3" fill="#fff" stroke="#ff0000" stroke-width="1.1"/>
<circle cx="114.47" cy="629.90" r="1.3" fill="#fff" stroke="#ff0000" stroke-width="1.1"/>
<circle cx="114.94" cy="620.17" r="1.3" fill="#fff" stroke="#ff0000" stroke-width="1.1"/>
<circle cx="115.41" cy="611.16" r="1.3" fill="#fff" stroke="#ff0000" stroke-width="1.1"/>
<circle cx="115.88" cy="602.80" r="1.3" fill="#fff" stroke="#ff0000" stroke-width="1.1"/>
<circle cx="116.35" cy="595.06" r="1.3" fill="#fff" stroke="#ff0000" stroke-width="1.1"/>
<circle cx="116.82" cy="587.89" r="1.3" fill="#fff" stroke="#ff0000" stroke-width="1.1"/>
<circle cx="117.29" cy="581.24" r="1.3" fill="#fff" stroke="#ff0000" stroke-width="1.1"/>
<circle cx="117.76" cy="575.07" r="1.3" fill="#fff" stroke="#ff0000" stroke-width="1.1"/>
<circle cx="118.23" cy="569.36" r="1.3" fill="#fff" stroke="#ff0000" stroke-width="1.1"/>
<circle cx="118.70" cy="564.06" r="1.3" fill="#fff" stroke="#ff0000" stroke-width="1.1"/>
<circle cx="119.16" cy="559.16" r="1.3" fill="#fff" stroke="#ff0000" stroke-width="1.1"/>
<circle cx="119.63" cy="554.61" r="1.3" fill="#fff" stroke="#ff0000" stroke-width="1.1"/>
<circle cx="120.10" cy="550.39" r="1.3" fill="#fff" stroke="#ff0000" stroke-width="1.1"/>
<circle cx="120.57" cy="546.49" r="1.3" fill="#fff" stroke="#ff0000" stroke-width="1.1"/>
<circle cx="121.04" cy="542.87" r="1.3" fill="#fff" stroke="#ff0000" stroke-width="1.1"/>
<circle cx="121.51" cy="539.51" r="1.3" fill="#fff" stroke="#ff0000" stroke-width="1.1"/>
<circle cx="121.98" cy="536.40" r="1.3" fill="#fff" stroke="#ff0000" stroke-width="1.1"/>
<circle cx="122.45" cy="533.52" r="1.3" fill="#fff" stroke="#ff0000" stroke-width="1.1"/>
<circle cx="122.92" cy="530.84" r="1.3" fill="#fff" stroke="#ff0000" stroke-width="1.1"/>
<circle cx="123.39" cy="528.37" r="1.3" fill="#fff" stroke="#ff0000" stroke-width="1.1"/>
<circle cx="123.86" cy="526.07" r="1.3" fill="#fff" stroke="#ff0000" stroke-width="1.1"/>
<circle cx="124.33" cy="523.95" r="1.3" fill="#fff" stroke="#ff0000" stroke-width="1.1"/>
<circle cx="124.80" cy="521.98" r="1.3" fill="#fff" stroke="#ff0000" stroke-width="1.1"/>
<circle cx="125.27" cy="520.15" r="1.3" fill="#fff" stroke="#ff0000" stroke-width="1.1"/>
<circle cx="125.73" cy="518.46" r="1.3" fill="#fff" stroke="#ff0000" stroke-width="1.1"/>
<circle cx="126.20" cy="516.89" r="1.3" fill="#fff" stroke="#ff0000" stroke-width="1.1"/>
<circle cx="126.67" cy="515.43" r="1.3" fill="#fff" stroke="#ff0000" stroke-width="1.1"/>
<circle cx="127.14" cy="514.08" r="1.3" fill="#fff" stroke="#ff0000" stroke-width="1.1"/>
<circle cx="127.61" cy="512.83" r="1.3" fill="#fff" stroke="#ff0000" stroke-width="1.1"/>
<circle cx="128.08" cy="511.68" r="1.3" fill="#fff" stroke="#ff0000" stroke-width="1.1"/>
<circle cx="128.55" cy="510.60" r="1.3" fill="#fff" stroke="#ff0000" stroke-width="1.1"/>
<circle cx="129.02" cy="509.61" r="1.3" fill="#fff" stroke="#ff0000" stroke-width="1.1"/>
<circle cx="129.49" cy="508.69" r="1.3" fill="#fff" stroke="#ff0000" stroke-width="1.1"/>
<circle cx="129.96" cy="507.83" r="1.3" fill="#fff" stroke="#ff0000" stroke-width="1.1"/>
<circle cx="130.43" cy="507.04" r="1.3" fill="#fff" stroke="#ff0000" stroke-width="1.1"/>
<circle cx="130.90" cy="506.31" r="1.3" fill="#fff" stroke="#ff0000" stroke-width="1.1"/>
<circle cx="131.37" cy="505.62" r="1.3" fill="#fff" stroke="#ff0000" stroke-width="1.1"/>
<circle cx="131.84" cy="504.99" r="1.3" fill="#fff" stroke="#ff0000" stroke-width="1.1"/>
<circle cx="132.31" cy="504.41" r="1.3" fill="#fff" stroke="#ff0000" stroke-width="1.1"/>
<circle cx="132.77" cy="503.87" r="1.3" fill="#fff" stroke="#ff0000" stroke-width="1.1"/>
<circle cx="133.24" cy="503.37" r="1.3" fill="#fff" stroke="#ff0000" stroke-width="1.1"/>
<circle cx="133.71" cy="502.90" r="1.3" fill="#fff" stroke="#ff0000" stroke-width="1.1"/>
<circle cx="134.18" cy="502.47" r="1.3" fill="#fff" stroke="#ff0000" stroke-width="1.1"/>
<circle cx="134.65" cy="502.07" r="1.3" fill="#fff" stroke="#ff0000" stroke-width="1.1"/>
<circle cx="135.12" cy="501.70" r="1.3" fill="#fff" stroke="#ff0000" stroke-width="1.1"/>
<circle cx="135.59" cy="501.36" r="1.3" fill="#fff" stroke="#ff0000" stroke-width="1.1"/>
<circle cx="136.06" cy="501.04" r="1.3" fill="#fff" stroke="#ff0000" stroke-width="1.1"/>
<circle cx="136.53" cy="500.74" r="1.3" fill="#fff" stroke="#ff0000" stroke-width="1.1"/>
<circle cx="137.00" cy="500.47" r="1.3" fill="#fff" stroke="#ff0000" stroke-width="1.1"/>
<circle cx="137.47" cy="500.22" r="1.3" fill="#fff" stroke="#ff0000" stroke-width="1.1"/>
<circle cx="137.94" cy="499.98" r="1.3" fill="#fff" stroke="#ff0000" stroke-width="1.1"/>
<circle cx="138.41" cy="499.77" r="1.3" fill="#fff" stroke="#ff0000" stroke-width="1.1"/>
<circle cx="138.88" cy="499.56" r="1.3" fill="#fff" stroke="#ff0000" stroke-width="1.1"/>
<circle cx="139.34" cy="499.38" r="1.3" fill="#fff" stroke="#ff0000" stroke-width="1.1"/>
<circle cx="139.47" cy="499.33" r="1.3" fill="#fff" stroke="#ff0000" stroke-width="1.1"/>
<circle cx="139.47" cy="499.33" r="1.3" fill="#fff" stroke="#ff0000" stroke-width="1.1"/>
<circle cx="139.94" cy="510.05" r="1.3" fill="#fff" stroke="#ff0000" stroke-width="1.1"/>
<circle cx="140.41" cy="520.01" r="1.3" fill="#fff" stroke="#ff0000" stroke-width="1.1"/>
<circle cx="140.88" cy="529.26" r="1.3" fill="#fff" stroke="#ff0000" stroke-width="1.1"/>
<circle cx="141.35" cy="537.87" r="1.3" fill="#fff" stroke="#ff0000" stroke-width="1.1"/>
<circle cx="141.81" cy="545.87" r="1.3" fill="#fff" stroke="#ff0000" stroke-width="1.1"/>
<circle cx="142.28" cy="553.31" r="1.3" fill="#fff" stroke="#ff0000" stroke-width="1.1"/>
<circle cx="142.75" cy="560.22" r="1.3" fill="#fff" stroke="#ff0000" stroke-width="1.1"/>
<circle cx="143.22" cy="566.64" r="1.3" fill="#fff" stroke="#ff0000" stroke-width="1.1"/>
<circle cx="143.69" cy="572.62" r="1.3" fill="#fff" stroke="#ff0000" stroke-width="1.1"/>
<circle cx="144.16" cy="578.17" r="1.3" fill="#fff" stroke="#ff0000" stroke-width="1.1"/>
<circle cx="144.63" cy="583.33" r="1.3" fill="#fff" stroke="#ff0000" stroke-width="1.1"/>
<circle cx="145.10" cy="588.12" r="1.3" fill="#fff" stroke="#ff0000" stroke-width="1.1"/>
<circle cx="145.57" cy="592.58" r="1.3" fill="#fff" stroke="#ff0000" stroke-width="1.1"/>
<circle cx="146.04" cy="596.73" r="1.3" fill="#fff" stroke="#ff0000" stroke-width="1.1"/>
<circle cx="146.51" cy="600.58" r="1.3" fill="#fff" stroke="#ff0000" stroke-width="1.1"/>
<circle cx="146.98" cy="604.16" r="1.3" fill="#fff" stroke="#ff0000" stroke-width="1.1"/>
<circle cx="147.45" cy="607.49" r="1.3" fill="#fff" stroke="#ff0000" stroke-width="1.1"/>
<circle cx="147.92" cy="610.58" r="1.3" fill="#fff" stroke="#ff0000" stroke-width="1.1"/>
<circle cx="148.38" cy="613.46" r="1.3" fill="#fff" stroke="#ff0000" stroke-width="1.1"/>
<circle cx="148.85" cy="616.13" r="1.3" fill="#fff" stroke="#ff0000" stroke-width="1.1"/>
<circle cx="149.32" cy="618.62" r="1.3" fill="#fff" stroke="#ff0000" stroke-width="1.1"/>
<circle cx="149.79" cy="620.92" r="1.3" fill="#fff" stroke="#ff0000" stroke-width="1.1"/>
<circle cx="150.26" cy="623.07" r="1.3" fill="#fff" stroke="#ff0000" stroke-width="1.1"/>
<circle cx="150.73" cy="625.07" r="1.3" fill="#fff" stroke="#ff0000" stroke-width="1.1"/>
<circle cx="151.20" cy="626.92" r="1.3" fill="#fff" stroke="#ff0000" stroke-width="1.1"/>
<circle cx="151.67" cy="628.65" r="1.3" fill="#fff" stroke="#ff0000" stroke-width="1.1"/>
<circle cx="152.14" cy="630.25" r="1.3" fill="#fff" stroke="#ff0000" stroke-width="1.1"/>
<circle cx="152.61" cy="631.74" r="1.3" fill="#fff" stroke="#ff0000" stroke-width="1.1"/>
<circle cx="153.08" cy="633.12" r="1.3" fill="#fff" stroke="#ff0000" stroke-width="1.1"/>
<circle cx="153.55" cy="634.41" r="1.3" fill="#fff" stroke="#ff0000" stroke-width="1.1"/>
<circle cx="154.02" cy="635.61" r="1.3" fill="#fff" stroke="#ff0000" stroke-width="1.1"/>
<circle cx="154.49" cy="636.72" r="1.3" fill="#fff" stroke="#ff0000" stroke-width="1.1"/>
<circle cx="154.95" cy="637.75" r="1.3" fill="#fff" stroke="#ff0000" stroke-width="1.1"/>
<circle cx="155.42" cy="638.71" r="1.3" fill="#fff" stroke="#ff0000" stroke-width="1.1"/>
<circle cx="155.89" cy="639.61" r="1.3" fill="#fff" stroke="#ff0000" stroke-width="1.1"/>
<circle cx="156.36" cy="640.44" r="1.3" fill="#fff" stroke="#ff0000" stroke-width="1.1"/>
<circle cx="156.83" cy="641.21" r="1.3" fill="#fff" stroke="#ff0000" stroke-width="1.1"/>
<circle cx="157.30" cy="641.93" r="1.3" fill="#fff" stroke="#ff0000" stroke-width="1.1"/>
<circle cx="157.77" cy="642.59" r="1.3" fill="#fff" stroke="#ff0000" stroke-width="1.1"/>
<circle cx="158.24" cy="643.21" r="1.3" fill="#fff" stroke="#ff0000" stroke-width="1.1"/>
<circle cx="158.71" cy="643.79" r="1.3" fill="#fff" stroke="#ff0000" stroke-width="1.1"/>
<circle cx="159.18" cy="644.33" r="1.3" fill="#fff" stroke="#ff0000" stroke-width="1.1"/>
<circle cx="159.65" cy="644.82" r="1.3" fill="#fff" stroke="#ff0000" stroke-width="1.1"/>
<circle cx="160.12" cy="645.29" r="1.3" fill="#fff" stroke="#ff0000" stroke-width="1.1"/>
<circle cx="160.59" cy="645.72" r="1.3" fill="#fff" stroke="#ff0000" stroke-width="1.1"/>
<circle cx="161.06" cy="646.12" r="1.3" fill="#fff" stroke="#ff0000" stroke-width="1.1"/>
<circle cx="161.53" cy="646.49" r="1.3" fill="#fff" stroke="#ff0000" stroke-width="1.1"/>
<circle cx="161.99" cy="646.83" r="1.3" fill="#fff" stroke="#ff0000" stroke-width="1.1"/>
<circle cx="162.46" cy="647.15" r="1.3" fill="#fff" stroke="#ff0000" stroke-width="1.1"/>
<circle cx="162.93" cy="647.45" r="1.3" fill="#fff" stroke="#ff0000" stroke-width="1.1"/>
<circle cx="163.40" cy="647.73" r="1.3" fill="#fff" stroke="#ff0000" stroke-width="1.1"/>
<circle cx="163.87" cy="647.99" r="1.3" fill="#fff" stroke="#ff0000" stroke-width="1.1"/>
<circle cx="164.34" cy="648.23" r="1.3" fill="#fff" stroke="#ff0000" stroke-width="1.1"/>
<circle cx="164.81" cy="648.45" r="1.3" fill="#fff" stroke="#ff0000" stroke-width="1.1"/>
<circle cx="165.28" cy="648.66" r="1.3" fill="#fff" stroke="#ff0000" stroke-width="1.1"/>
<circle cx="165.75" cy="648.85" r="1.3" fill="#fff" stroke="#ff0000" stroke-width="1.1"/>
<circle cx="166.22" cy="649.03" r="1.3" fill="#fff" stroke="#ff0000" stroke-width="1.1"/>
<circle cx="166.69" cy="649.20" r="1.3" fill="#fff" stroke="#ff0000" stroke-width="1.1"/>
<circle cx="167.13" cy="649.34" r="1.3" fill="#fff" stroke="#ff0000" stroke-width="1.1"/>
<circle cx="167.13" cy="649.34" r="1.3" fill="#fff" stroke="#ff0000" stroke-width="1.1"/>
<circle cx="167.60" cy="638.45" r="1.3" fill="#fff" stroke="#ff0000" stroke-width="1.1"/>
<circle cx="168.07" cy="628.35" r="1.3" fill="#fff" stroke="#ff0000" stroke-width="1.1"/>
<circle cx="168.54" cy="619.00" r="1.3" fill="#fff" stroke="#ff0000" stroke-width="1.1"/>
<circle cx="169.01" cy="610.32" r="1.3" fill="#fff" stroke="#ff0000" stroke-width="1.1"/>
<circle cx="169.48" cy="602.29" r="1.3" fill="#fff" stroke="#ff0000" stroke-width="1.1"/>
<circle cx="169.95" cy="594.84" r="1.3" fill="#fff" stroke="#ff0000" stroke-width="1.1"/>
<circle cx="170.42" cy="587.93" r="1.3" fill="#fff" stroke="#ff0000" stroke-width="1.1"/>
<circle cx="170.89" cy="581.53" r="1.3" fill="#fff" stroke="#ff0000" stroke-width="1.1"/>
<circle cx="171.36" cy="575.60" r="1.3" fill="#fff" stroke="#ff0000" stroke-width="1.1"/>
<circle cx="171.82" cy="570.11" r="1.3" fill="#fff" stroke="#ff0000" stroke-width="1.1"/>
<circle cx="172.29" cy="565.01" r="1.3" fill="#fff" stroke="#ff0000" stroke-width="1.1"/>
<circle cx="172.76" cy="560.29" r="1.3" fill="#fff" stroke="#ff0000" stroke-width="1.1"/>
<circle cx="173.23" cy="555.91" r="1.3" fill="#fff" stroke="#ff0000" stroke-width="1.1"/>
<circle cx="173.70" cy="551.86" r="1.3" fill="#fff" stroke="#ff0000" stroke-width="1.1"/>
<circle cx="174.17" cy="548.10" r="1.3" fill="#fff" stroke="#ff0000" stroke-width="1.1"/>
<circle cx="174.64" cy="544.62" r="1.3" fill="#fff" stroke="#ff0000" stroke-width="1.1"/>
<circle cx="175.11" cy="541.39" r="1.3" fill="#fff" stroke="#ff0000" stroke-width="1.1"/>
<circle cx="175.58" cy="538.39" r="1.3" fill="#fff" stroke="#ff0000" stroke-width="1.1"/>
<circle cx="176.05" cy="535.62" r="1.3" fill="#fff" stroke="#ff0000" stroke-width="1.1"/>
<circle cx="176.52" cy="533.05" r="1.3" fill="#fff" stroke="#ff0000" stroke-width="1.1"/>
<circle cx="176.99" cy="530.67" r="1.3" fill="#fff" stroke="#ff0000" stroke-width="1.1"/>
<circle cx="177.46" cy="528.46" r="1.3" fill="#fff" stroke="#ff0000" stroke-width="1.1"/>
<circle cx="177.93" cy="526.41" r="1.3" fill="#fff" stroke="#ff0000" stroke-width="1.1"/>
<circle cx="178.40" cy="524.52" r="1.3" fill="#fff" stroke="#ff0000" stroke-width="1.1"/>
<circle cx="178.86" cy="522.76" r="1.3" fill="#fff" stroke="#ff0000" stroke-width="1.1"/>
<circle cx="179.33" cy="521.13" r="1.3" fill="#fff" stroke="#ff0000" stroke-width="1.1"/>
<circle cx="179.80" cy="519.62" r="1.3" fill="#fff" stroke="#ff0000" stroke-width="1.1"/>
<circle cx="180.27" cy="518.22" r="1.3" fill="#fff" stroke="#ff0000" stroke-width="1.1"/>
<circle cx="180.74" cy="516.92" r="1.3" fill="#fff" stroke="#ff0000" stroke-width="1.1"/>
<circle cx="181.21" cy="515.72" r="1.3" fill="#fff" stroke="#ff0000" stroke-width="1.1"/>
<circle cx="181.68" cy="514.61" r="1.3" fill="#fff" stroke="#ff0000" stroke-width="1.1"/>
<circle cx="182.15" cy="513.57" r="1.3" fill="#fff" stroke="#ff0000" stroke-width="1.1"/>
<circle cx="182.62" cy="512.62" r="1.3" fill="#fff" stroke="#ff0000" stroke-width="1.1"/>
<circle cx="183.09" cy="511.73" r="1.3" fill="#fff" stroke="#ff0000" stroke-width="1.1"/>
<circle cx="183.56" cy="510.91" r="1.3" fill="#fff" stroke="#ff0000" stroke-width="1.1"/>
<circle cx="184.03" cy="510.15" r="1.3" fill="#fff" stroke="#ff0000" stroke-width="1.1"/>
<circle cx="184.50" cy="509.44" r="1.3" fill="#fff" stroke="#ff0000" stroke-width="1.1"/>
<circle cx="184.97" cy="508.78" r="1.3" fill="#fff" stroke="#ff0000" stroke-width="1.1"/>
<circle cx="185.43" cy="508.18" r="1.3" fill="#fff" stroke="#ff0000" stroke-width="1.1"/>
<circle cx="185.90" cy="507.62" r="1.3" fill="#fff" stroke="#ff0000" stroke-width="1.1"/>
<circle cx="186.37" cy="507.09" r="1.3" fill="#fff" stroke="#ff0000" stroke-width="1.1"/>
<circle cx="186.84" cy="506.61" r="1.3" fill="#fff" stroke="#ff0000" stroke-width="1.1"/>
<circle cx="187.31" cy="506.16" r="1.3" fill="#fff" stroke="#ff0000" stroke-width="1.1"/>
<circle cx="187.78" cy="505.75" r="1.3" fill="#fff" stroke="#ff0000" stroke-width="1.1"/>
<circle cx="188.25" cy="505.37" r="1.3" fill="#fff" stroke="#ff0000" stroke-width="1.1"/>
<circle cx="188.72" cy="505.01" r="1.3" fill="#fff" stroke="#ff0000" stroke-width="1.1"/>
<circle cx="189.19" cy="504.68" r="1.3" fill="#fff" stroke="#ff0000" stroke-width="1.1"/>
<circle cx="189.66" cy="504.37" r="1.3" fill="#fff" stroke="#ff0000" stroke-width="1.1"/>
<circle cx="190.13" cy="504.09" r="1.3" fill="#fff" stroke="#ff0000" stroke-width="1.1"/>
<circle cx="190.60" cy="503.83" r="1.3" fill="#fff" stroke="#ff0000" stroke-width="1.1"/>
<circle cx="191.07" cy="503.58" r="1.3" fill="#fff" stroke="#ff0000" stroke-width="1.1"/>
<circle cx="191.54" cy="503.36" r="1.3" fill="#fff" stroke="#ff0000" stroke-width="1.1"/>
<circle cx="192.00" cy="503.15" r="1.3" fill="#fff" stroke="#ff0000" stroke-width="1.1"/>
<circle cx="192.47" cy="502.95" r="1.3" fill="#fff" stroke="#ff0000" stroke-width="1.1"/>
<circle cx="192.94" cy="502.77" r="1.3" fill="#fff" stroke="#ff0000" stroke-width="1.1"/>
<circle cx="193.41" cy="502.61" r="1.3" fill="#fff" stroke="#ff0000" stroke-width="1.1"/>
<circle cx="193.61" cy="502.54" r="1.3" fill="#fff" stroke="#ff0000" stroke-width="1.1"/>
<circle cx="193.61" cy="502.54" r="1.3" fill="#fff" stroke="#ff0000" stroke-width="1.1"/>
<circle cx="194.08" cy="513.56" r="1.3" fill="#fff" stroke="#ff0000" stroke-width="1.1"/>
<circle cx="194.55" cy="523.80" r="1.3" fill="#fff" stroke="#ff0000" stroke-width="1.1"/>
<circle cx="195.02" cy="533.31" r="1.3" fill="#fff" stroke="#ff0000" stroke-width="1.1"/>
<circle cx="195.49" cy="542.16" r="1.3" fill="#fff" stroke="#ff0000" stroke-width="1.1"/>
<circle cx="195.96" cy="550.38" r="1.3" fill="#fff" stroke="#ff0000" stroke-width="1.1"/>
<circle cx="196.43" cy="558.03" r="1.3" fill="#fff" stroke="#ff0000" stroke-width="1.1"/>
<circle cx="196.90" cy="565.13" r="1.3" fill="#fff" stroke="#ff0000" stroke-width="1.1"/>
<circle cx="197.36" cy="571.74" r="1.3" fill="#fff" stroke="#ff0000" stroke-width="1.1"/>
<circle cx="197.83" cy="577.88" r="1.3" fill="#fff" stroke="#ff0000" stroke-width="1.1"/>
<circle cx="198.30" cy="583.59" r="1.3" fill="#fff" stroke="#ff0000" stroke-width="1.1"/>
<circle cx="198.77" cy="588.89" r="1.3" fill="#fff" stroke="#ff0000" stroke-width="1.1"/>
<circle cx="199.24" cy="593.82" r="1.3" fill="#fff" stroke="#ff0000" stroke-width="1.1"/>
<circle cx="199.71" cy="598.40" r="1.3" fill="#fff" stroke="#ff0000" stroke-width="1.1"/>
<circle cx="200.18" cy="602.66" r="1.3" fill="#fff" stroke="#ff0000" stroke-width="1.1"/>
<circle cx="200.65" cy="606.63" r="1.3" fill="#fff" stroke="#ff0000" stroke-width="1.1"/>
<circle cx="201.12" cy="610.31" r="1.3" fill="#fff" stroke="#ff0000" stroke-width="1.1"/>
<circle cx="201.59" cy="613.73" r="1.3" fill="#fff" stroke="#ff0000" stroke-width="1.1"/>
<circle cx="202.06" cy="616.91" r="1.3" fill="#fff" stroke="#ff0000" stroke-width="1.1"/>
<circle cx="202.53" cy="619.86" r="1.3" fill="#fff" stroke="#ff0000" stroke-width="1.1"/>
<circle cx="203.00" cy="622.61" r="1.3" fill="#fff" stroke="#ff0000" stroke-width="1.1"/>
<circle cx="203.47" cy="625.17" r="1.3" fill="#fff" stroke="#ff0000" stroke-width="1.1"/>
<circle cx="203.93" cy="627.54" r="1.3" fill="#fff" stroke="#ff0000" stroke-width="1.1"/>
<circle cx="204.40" cy="629.75" r="1.3" fill="#fff" stroke="#ff0000" stroke-width="1.1"/>
<circle cx="204.87" cy="631.80" r="1.3" fill="#fff" stroke="#ff0000" stroke-width="1.1"/>
<circle cx="205.34" cy="633.71" r="1.3" fill="#fff" stroke="#ff0000" stroke-width="1.1"/>
<circle cx="205.81" cy="635.48" r="1.3" fill="#fff" stroke="#ff0000" stroke-width="1.1"/>
<circle cx="206.28" cy="637.13" r="1.3" fill="#fff" stroke="#ff0000" stroke-width="1.1"/>
<circle cx="206.75" cy="638.66" r="1.3" fill="#fff" stroke="#ff0000" stroke-width="1.1"/>
<circle cx="207.22" cy="640.08" r="1.3" fill="#fff" stroke="#ff0000" stroke-width="1.1"/>
<circle cx="207.69" cy="641.41" r="1.3" fill="#fff" stroke="#ff0000" stroke-width="1.1"/>
<circle cx="208.16" cy="642.64" r="1.3" fill="#fff" stroke="#ff0000" stroke-width="1.1"/>
<circle cx="208.63" cy="643.78" r="1.3" fill="#fff" stroke="#ff0000" stroke-width="1.1"/>
<circle cx="209.10" cy="644.84" r="1.3" fill="#fff" stroke="#ff0000" stroke-width="1.1"/>
<circle cx="209.57" cy="645.83" r="1.3" fill="#fff" stroke="#ff0000" stroke-width="1.1"/>
<circle cx="210.04" cy="646.75" r="1.3" fill="#fff" stroke="#ff0000" stroke-width="1.1"/>
<circle cx="210.51" cy="647.60" r="1.3" fill="#fff" stroke="#ff0000" stroke-width="1.1"/>
<circle cx="210.97" cy="648.39" r="1.3" fill="#fff" stroke="#ff0000" stroke-width="1.1"/>
<circle cx="211.44" cy="649.13" r="1.3" fill="#fff" stroke="#ff0000" stroke-width="1.1"/>
<circle cx="211.91" cy="649.82" r="1.3" fill="#fff" stroke="#ff0000" stroke-width="1.1"/>
<circle cx="212.38" cy="650.45" r="1.3" fill="#fff" stroke="#ff0000" stroke-width="1.1"/>
<circle cx="212.85" cy="651.05" r="1.3" fill="#fff" stroke="#ff0000" stroke-width="1.1"/>
<circle cx="213.32" cy="651.60" r="1.3" fill="#fff" stroke="#ff0000" stroke-width="1.1"/>
<circle cx="213.79" cy="652.11" r="1.3" fill="#fff" stroke="#ff0000" stroke-width="1.1"/>
<circle cx="214.26" cy="652.59" r="1.3" fill="#fff" stroke="#ff0000" stroke-width="1.1"/>
<circle cx="214.73" cy="653.03" r="1.3" fill="#fff" stroke="#ff0000" stroke-width="1.1"/>
<circle cx="215.20" cy="653.44" r="1.3" fill="#fff" stroke="#ff0000" stroke-width="1.1"/>
<circle cx="215.67" cy="653.82" r="1.3" fill="#fff" stroke="#ff0000" stroke-width="1.1"/>
<circle cx="216.04" cy="654.10" r="1.3" fill="#fff" stroke="#ff0000" stroke-width="1.1"/>
<circle cx="216.04" cy="654.10" r="1.3" fill="#fff" stroke="#ff0000" stroke-width="1.1"/>
<circle cx="216.51" cy="642.90" r="1.3" fill="#fff" stroke="#ff0000" stroke-width="1.1"/>
<circle cx="216.98" cy="632.51" r="1.3" fill="#fff" stroke="#ff0000" stroke-width="1.1"/>
<circle cx="217.45" cy="622.89" r="1.3" fill="#fff" stroke="#ff0000" stroke-width="1.1"/>
<circle cx="217.92" cy="613.97" r="1.3" fill="#fff" stroke="#ff0000" stroke-width="1.1"/>
<circle cx="218.38" cy="605.70" r="1.3" fill="#fff" stroke="#ff0000" stroke-width="1.1"/>
<circle cx="218.85" cy="598.04" r="1.3" fill="#fff" stroke="#ff0000" stroke-width="1.1"/>
<circle cx="219.32" cy="590.93" r="1.3" fill="#fff" stroke="#ff0000" stroke-width="1.1"/>
<circle cx="219.79" cy="584.35" r="1.3" fill="#fff" stroke="#ff0000" stroke-width="1.1"/>
<circle cx="220.26" cy="578.25" r="1.3" fill="#fff" stroke="#ff0000" stroke-width="1.1"/>
<circle cx="220.73" cy="572.60" r="1.3" fill="#fff" stroke="#ff0000" stroke-width="1.1"/>
<circle cx="221.20" cy="567.36" r="1.3" fill="#fff" stroke="#ff0000" stroke-width="1.1"/>
<circle cx="221.67" cy="562.50" r="1.3" fill="#fff" stroke="#ff0000" stroke-width="1.1"/>
<circle cx="222.14" cy="558.00" r="1.3" fill="#fff" stroke="#ff0000" stroke-width="1.1"/>
<circle cx="222.61" cy="553.83" r="1.3" fill="#fff" stroke="#ff0000" stroke-width="1.1"/>
<circle cx="223.08" cy="549.96" r="1.3" fill="#fff" stroke="#ff0000" stroke-width="1.1"/>
<circle cx="223.55" cy="546.38" r="1.3" fill="#fff" stroke="#ff0000" stroke-width="1.1"/>
<circle cx="224.02" cy="543.06" r="1.3" fill="#fff" stroke="#ff0000" stroke-width="1.1"/>
<circle cx="224.49" cy="539.98" r="1.3" fill="#fff" stroke="#ff0000" stroke-width="1.1"/>
<circle cx="224.95" cy="537.12" r="1.3" fill="#fff" stroke="#ff0000" stroke-width="1.1"/>
<circle cx="225.42" cy="534.48" r="1.3" fill="#fff" stroke="#ff0000" stroke-width="1.1"/>
<circle cx="225.89" cy="532.03" r="1.3" fill="#fff" stroke="#ff0000" stroke-width="1.1"/>
<circle cx="226.36" cy="529.76" r="1.3" fill="#fff" stroke="#ff0000" stroke-width="1.1"/>
<circle cx="226.83" cy="527.65" r="1.3" fill="#fff" stroke="#ff0000" stroke-width="1.1"/>
<circle cx="227.30" cy="525.70" r="1.3" fill="#fff" stroke="#ff0000" stroke-width="1.1"/>
<circle cx="227.77" cy="523.89" r="1.3" fill="#fff" stroke="#ff0000" stroke-width="1.1"/>
<circle cx="228.24" cy="522.22" r="1.3" fill="#fff" stroke="#ff0000" stroke-width="1.1"/>
<circle cx="228.71" cy="520.67" r="1.3" fill="#fff" stroke="#ff0000" stroke-width="1.1"/>
<circle cx="229.18" cy="519.23" r="1.3" fill="#fff" stroke="#ff0000" stroke-width="1.1"/>
<circle cx="229.65" cy="517.89" r="1.3" fill="#fff" stroke="#ff0000" stroke-width="1.1"/>
<circle cx="230.12" cy="516.65" r="1.3" fill="#fff" stroke="#ff0000" stroke-width="1.1"/>
<circle cx="230.59" cy="515.51" r="1.3" fill="#fff" stroke="#ff0000" stroke-width="1.1"/>
<circle cx="231.06" cy="514.45" r="1.3" fill="#fff" stroke="#ff0000" stroke-width="1.1"/>
<circle cx="231.52" cy="513.46" r="1.3" fill="#fff" stroke="#ff0000" stroke-width="1.1"/>
<circle cx="231.99" cy="512.55" r="1.3" fill="#fff" stroke="#ff0000" stroke-width="1.1"/>
<circle cx="232.46" cy="511.70" r="1.3" fill="#fff" stroke="#ff0000" stroke-width="1.1"/>
<circle cx="232.93" cy="510.92" r="1.3" fill="#fff" stroke="#ff0000" stroke-width="1.1"/>
<circle cx="233.40" cy="510.19" r="1.3" fill="#fff" stroke="#ff0000" stroke-width="1.1"/>
<circle cx="233.87" cy="509.52" r="1.3" fill="#fff" stroke="#ff0000" stroke-width="1.1"/>
<circle cx="234.34" cy="508.90" r="1.3" fill="#fff" stroke="#ff0000" stroke-width="1.1"/>
<circle cx="234.81" cy="508.32" r="1.3" fill="#fff" stroke="#ff0000" stroke-width="1.1"/>
<circle cx="235.28" cy="507.78" r="1.3" fill="#fff" stroke="#ff0000" stroke-width="1.1"/>
<circle cx="235.75" cy="507.29" r="1.3" fill="#fff" stroke="#ff0000" stroke-width="1.1"/>
<circle cx="236.22" cy="506.82" r="1.3" fill="#fff" stroke="#ff0000" stroke-width="1.1"/>
<circle cx="236.69" cy="506.40" r="1.3" fill="#fff" stroke="#ff0000" stroke-width="1.1"/>
<circle cx="237.16" cy="506.00" r="1.3" fill="#fff" stroke="#ff0000" stroke-width="1.1"/>
<circle cx="237.63" cy="505.64" r="1.3" fill="#fff" stroke="#ff0000" stroke-width="1.1"/>
<circle cx="238.10" cy="505.30" r="1.3" fill="#fff" stroke="#ff0000" stroke-width="1.1"/>
<circle cx="238.56" cy="504.98" r="1.3" fill="#fff" stroke="#ff0000" stroke-width="1.1"/>
<circle cx="239.03" cy="504.69" r="1.3" fill="#fff" stroke="#ff0000" stroke-width="1.1"/>
<circle cx="239.50" cy="504.42" r="1.3" fill="#fff" stroke="#ff0000" stroke-width="1.1"/>
<circle cx="239.97" cy="504.17" r="1.3" fill="#fff" stroke="#ff0000" stroke-width="1.1"/>
<circle cx="240.44" cy="503.94" r="1.3" fill="#fff" stroke="#ff0000" stroke-width="1.1"/>
<circle cx="240.91" cy="503.72" r="1.3" fill="#fff" stroke="#ff0000" stroke-width="1.1"/>
<circle cx="241.38" cy="503.52" r="1.3" fill="#fff" stroke="#ff0000" stroke-width="1.1"/>
<circle cx="241.85" cy="503.34" r="1.3" fill="#fff" stroke="#ff0000" stroke-width="1.1"/>
<circle cx="242.32" cy="503.16" r="1.3" fill="#fff" stroke="#ff0000" stroke-width="1.1"/>
<circle cx="242.79" cy="503.01" r="1.3" fill="#fff" stroke="#ff0000" stroke-width="1.1"/>
<circle cx="243.01" cy="502.93" r="1.3" fill="#fff" stroke="#ff0000" stroke-width="1.1"/>
<circle cx="243.01" cy="502.93" r="1.3" fill="#fff" stroke="#ff0000" stroke-width="1.1"/>
<circle cx="243.48" cy="513.61" r="1.3" fill="#fff" stroke="#ff0000" stroke-width="1.1"/>
<circle cx="243.95" cy="523.53" r="1.3" fill="#fff" stroke="#ff0000" stroke-width="1.1"/>
<circle cx="244.42" cy="532.75" r="1.3" fill="#fff" stroke="#ff0000" stroke-width="1.1"/>
<circle cx="244.89" cy="541.32" r="1.3" fill="#fff" stroke="#ff0000" stroke-width="1.1"/>
<circle cx="245.36" cy="549.29" r="1.3" fill="#fff" stroke="#ff0000" stroke-width="1.1"/>
<circle cx="245.83" cy="556.69" r="1.3" fill="#fff" stroke="#ff0000" stroke-width="1.1"/>
<circle cx="246.30" cy="563.58" r="1.3" fill="#fff" stroke="#ff0000" stroke-width="1.1"/>
<circle cx="246.76" cy="569.98" r="1.3" fill="#fff" stroke="#ff0000" stroke-width="1.1"/>
<circle cx="247.23" cy="575.92" r="1.3" fill="#fff" stroke="#ff0000" stroke-width="1.1"/>
<circle cx="247.70" cy="581.45" r="1.3" fill="#fff" stroke="#ff0000" stroke-width="1.1"/>
<circle cx="248.17" cy="586.59" r="1.3" fill="#fff" stroke="#ff0000" stroke-width="1.1"/>
<circle cx="248.64" cy="591.37" r="1.3" fill="#fff" stroke="#ff0000" stroke-width="1.1"/>
<circle cx="249.11" cy="595.81" r="1.3" fill="#fff" stroke="#ff0000" stroke-width="1.1"/>
<circle cx="249.58" cy="599.94" r="1.3" fill="#fff" stroke="#ff0000" stroke-width="1.1"/>
<circle cx="250.05" cy="603.77" r="1.3" fill="#fff" stroke="#ff0000" stroke-width="1.1"/>
<circle cx="250.52" cy="607.34" r="1.3" fill="#fff" stroke="#ff0000" stroke-width="1.1"/>
<circle cx="250.99" cy="610.65" r="1.3" fill="#fff" stroke="#ff0000" stroke-width="1.1"/>
<circle cx="251.46" cy="613.74" r="1.3" fill="#fff" stroke="#ff0000" stroke-width="1.1"/>
<circle cx="251.93" cy="616.60" r="1.3" fill="#fff" stroke="#ff0000" stroke-width="1.1"/>
<circle cx="252.40" cy="619.26" r="1.3" fill="#fff" stroke="#ff0000" stroke-width="1.1"/>
<circle cx="252.87" cy="621.74" r="1.3" fill="#fff" stroke="#ff0000" stroke-width="1.1"/>
<circle cx="253.33" cy="624.04" r="1.3" fill="#fff" stroke="#ff0000" stroke-width="1.1"/>
<circle cx="253.80" cy="626.17" r="1.3" fill="#fff" stroke="#ff0000" stroke-width="1.1"/>
<circle cx="254.27" cy="628.16" r="1.3" fill="#fff" stroke="#ff0000" stroke-width="1.1"/>
<circle cx="254.74" cy="630.01" r="1.3" fill="#fff" stroke="#ff0000" stroke-width="1.1"/>
<circle cx="255.21" cy="631.73" r="1.3" fill="#fff" stroke="#ff0000" stroke-width="1.1"/>
<circle cx="255.68" cy="633.32" r="1.3" fill="#fff" stroke="#ff0000" stroke-width="1.1"/>
<circle cx="256.15" cy="634.81" r="1.3" fill="#fff" stroke="#ff0000" stroke-width="1.1"/>
<circle cx="256.62" cy="636.19" r="1.3" fill="#fff" stroke="#ff0000" stroke-width="1.1"/>
<circle cx="257.09" cy="637.47" r="1.3" fill="#fff" stroke="#ff0000" stroke-width="1.1"/>
<circle cx="257.56" cy="638.66" r="1.3" fill="#fff" stroke="#ff0000" stroke-width="1.1"/>
<circle cx="258.03" cy="639.77" r="1.3" fill="#fff" stroke="#ff0000" stroke-width="1.1"/>
<circle cx="258.50" cy="640.80" r="1.3" fill="#fff" stroke="#ff0000" stroke-width="1.1"/>
<circle cx="258.97" cy="641.75" r="1.3" fill="#fff" stroke="#ff0000" stroke-width="1.1"/>
<circle cx="259.44" cy="642.64" r="1.3" fill="#fff" stroke="#ff0000" stroke-width="1.1"/>
<circle cx="259.91" cy="643.47" r="1.3" fill="#fff" stroke="#ff0000" stroke-width="1.1"/>
<circle cx="260.37" cy="644.24" r="1.3" fill="#fff" stroke="#ff0000" stroke-width="1.1"/>
<circle cx="260.84" cy="644.95" r="1.3" fill="#fff" stroke="#ff0000" stroke-width="1.1"/>
<circle cx="261.31" cy="645.62" r="1.3" fill="#fff" stroke="#ff0000" stroke-width="1.1"/>
<circle cx="261.78" cy="646.24" r="1.3" fill="#fff" stroke="#ff0000" stroke-width="1.1"/>
<circle cx="262.25" cy="646.81" r="1.3" fill="#fff" stroke="#ff0000" stroke-width="1.1"/>
<circle cx="262.72" cy="647.34" r="1.3" fill="#fff" stroke="#ff0000" stroke-width="1.1"/>
<circle cx="263.19" cy="647.84" r="1.3" fill="#fff" stroke="#ff0000" stroke-width="1.1"/>
<circle cx="263.66" cy="648.30" r="1.3" fill="#fff" stroke="#ff0000" stroke-width="1.1"/>
<circle cx="264.13" cy="648.73" r="1.3" fill="#fff" stroke="#ff0000" stroke-width="1.1"/>
<circle cx="264.60" cy="649.13" r="1.3" fill="#fff" stroke="#ff0000" stroke-width="1.1"/>
<circle cx="265.07" cy="649.50" r="1.3" fill="#fff" stroke="#ff0000" stroke-width="1.1"/>
<circle cx="265.29" cy="649.66" r="1.3" fill="#fff" stroke="#ff0000" stroke-width="1.1"/>
<circle cx="265.29" cy="649.66" r="1.3" fill="#fff" stroke="#ff0000" stroke-width="1.1"/>
<circle cx="265.76" cy="639.33" r="1.3" fill="#fff" stroke="#ff0000" stroke-width="1.1"/>
<circle cx="266.23" cy="629.72" r="1.3" fill="#fff" stroke="#ff0000" stroke-width="1.1"/>
<circle cx="266.70" cy="620.79" r="1.3" fill="#fff" stroke="#ff0000" stroke-width="1.1"/>
<circle cx="267.17" cy="612.49" r="1.3" fill="#fff" stroke="#ff0000" stroke-width="1.1"/>
<circle cx="267.64" cy="604.77" r="1.3" fill="#fff" stroke="#ff0000" stroke-width="1.1"/>
<circle cx="268.11" cy="597.60" r="1.3" fill="#fff" stroke="#ff0000" stroke-width="1.1"/>
<circle cx="268.57" cy="590.93" r="1.3" fill="#fff" stroke="#ff0000" stroke-width="1.1"/>
<circle cx="269.04" cy="584.73" r="1.3" fill="#fff" stroke="#ff0000" stroke-width="1.1"/>
<circle cx="269.51" cy="578.97" r="1.3" fill="#fff" stroke="#ff0000" stroke-width="1.1"/>
<circle cx="269.98" cy="573.62" r="1.3" fill="#fff" stroke="#ff0000" stroke-width="1.1"/>
<circle cx="270.45" cy="568.64" r="1.3" fill="#fff" stroke="#ff0000" stroke-width="1.1"/>
<circle cx="270.92" cy="564.01" r="1.3" fill="#fff" stroke="#ff0000" stroke-width="1.1"/>
<circle cx="271.39" cy="559.71" r="1.3" fill="#fff" stroke="#ff0000" stroke-width="1.1"/>
<circle cx="271.86" cy="555.71" r="1.3" fill="#fff" stroke="#ff0000" stroke-width="1.1"/>
<circle cx="272.33" cy="552.00" r="1.3" fill="#fff" stroke="#ff0000" stroke-width="1.1"/>
<circle cx="272.80" cy="548.54" r="1.3" fill="#fff" stroke="#ff0000" stroke-width="1.1"/>
<circle cx="273.27" cy="545.33" r="1.3" fill="#fff" stroke="#ff0000" stroke-width="1.1"/>
<circle cx="273.74" cy="542.35" r="1.3" fill="#fff" stroke="#ff0000" stroke-width="1.1"/>
<circle cx="274.21" cy="539.58" r="1.3" fill="#fff" stroke="#ff0000" stroke-width="1.1"/>
<circle cx="274.68" cy="537.00" r="1.3" fill="#fff" stroke="#ff0000" stroke-width="1.1"/>
<circle cx="275.15" cy="534.60" r="1.3" fill="#fff" stroke="#ff0000" stroke-width="1.1"/>
<circle cx="275.61" cy="532.37" r="1.3" fill="#fff" stroke="#ff0000" stroke-width="1.1"/>
<circle cx="276.08" cy="530.30" r="1.3" fill="#fff" stroke="#ff0000" stroke-width="1.1"/>
<circle cx="276.55" cy="528.38" r="1.3" fill="#fff" stroke="#ff0000" stroke-width="1.1"/>
<circle cx="277.02" cy="526.59" r="1.3" fill="#fff" stroke="#ff0000" stroke-width="1.1"/>
<circle cx="277.49" cy="524.92" r="1.3" fill="#fff" stroke="#ff0000" stroke-width="1.1"/>
<circle cx="277.96" cy="523.38" r="1.3" fill="#fff" stroke="#ff0000" stroke-width="1.1"/>
<circle cx="278.43" cy="521.94" r="1.3" fill="#fff" stroke="#ff0000" stroke-width="1.1"/>
<circle cx="278.90" cy="520.61" r="1.3" fill="#fff" stroke="#ff0000" stroke-width="1.1"/>
<circle cx="279.37" cy="519.36" r="1.3" fill="#fff" stroke="#ff0000" stroke-width="1.1"/>
<circle cx="279.84" cy="518.21" r="1.3" fill="#fff" stroke="#ff0000" stroke-width="1.1"/>
<circle cx="280.31" cy="517.14" r="1.3" fill="#fff" stroke="#ff0000" stroke-width="1.1"/>
<circle cx="280.78" cy="516.14" r="1.3" fill="#fff" stroke="#ff0000" stroke-width="1.1"/>
<circle cx="281.25" cy="515.21" r="1.3" fill="#fff" stroke="#ff0000" stroke-width="1.1"/>
<circle cx="281.72" cy="514.35" r="1.3" fill="#fff" stroke="#ff0000" stroke-width="1.1"/>
<circle cx="282.18" cy="513.55" r="1.3" fill="#fff" stroke="#ff0000" stroke-width="1.1"/>
<circle cx="282.65" cy="512.81" r="1.3" fill="#fff" stroke="#ff0000" stroke-width="1.1"/>
<circle cx="283.12" cy="512.11" r="1.3" fill="#fff" stroke="#ff0000" stroke-width="1.1"/>
<circle cx="283.59" cy="511.47" r="1.3" fill="#fff" stroke="#ff0000" stroke-width="1.1"/>
<circle cx="284.06" cy="510.87" r="1.3" fill="#fff" stroke="#ff0000" stroke-width="1.1"/>
<circle cx="284.53" cy="510.32" r="1.3" fill="#fff" stroke="#ff0000" stroke-width="1.1"/>
<circle cx="285.00" cy="509.80" r="1.3" fill="#fff" stroke="#ff0000" stroke-width="1.1"/>
<circle cx="285.47" cy="509.32" r="1.3" fill="#fff" stroke="#ff0000" stroke-width="1.1"/>
<circle cx="285.94" cy="508.87" r="1.3" fill="#fff" stroke="#ff0000" stroke-width="1.1"/>
<circle cx="286.41" cy="508.46" r="1.3" fill="#fff" stroke="#ff0000" stroke-width="1.1"/>
<circle cx="286.88" cy="508.07" r="1.3" fill="#fff" stroke="#ff0000" stroke-width="1.1"/>
<circle cx="287.35" cy="507.71" r="1.3" fill="#fff" stroke="#ff0000" stroke-width="1.1"/>
<circle cx="287.82" cy="507.38" r="1.3" fill="#fff" stroke="#ff0000" stroke-width="1.1"/>
<circle cx="288.29" cy="507.07" r="1.3" fill="#fff" stroke="#ff0000" stroke-width="1.1"/>
<circle cx="288.75" cy="506.78" r="1.3" fill="#fff" stroke="#ff0000" stroke-width="1.1"/>
<circle cx="289.22" cy="506.52" r="1.3" fill="#fff" stroke="#ff0000" stroke-width="1.1"/>
<circle cx="289.69" cy="506.27" r="1.3" fill="#fff" stroke="#ff0000" stroke-width="1.1"/>
<circle cx="290.16" cy="506.04" r="1.3" fill="#fff" stroke="#ff0000" stroke-width="1.1"/>
<circle cx="290.63" cy="505.82" r="1.3" fill="#fff" stroke="#ff0000" stroke-width="1.1"/>
<circle cx="291.10" cy="505.62" r="1.3" fill="#fff" stroke="#ff0000" stroke-width="1.1"/>
<circle cx="291.57" cy="505.44" r="1.3" fill="#fff" stroke="#ff0000" stroke-width="1.1"/>
<circle cx="292.04" cy="505.26" r="1.3" fill="#fff" stroke="#ff0000" stroke-width="1.1"/>
<circle cx="292.51" cy="505.10" r="1.3" fill="#fff" stroke="#ff0000" stroke-width="1.1"/>
<circle cx="292.98" cy="504.95" r="1.3" fill="#fff" stroke="#ff0000" stroke-width="1.1"/>
<circle cx="293.45" cy="504.81" r="1.3" fill="#fff" stroke="#ff0000" stroke-width="1.1"/>
<circle cx="293.92" cy="504.69" r="1.3" fill="#fff" stroke="#ff0000" stroke-width="1.1"/>
<circle cx="294.39" cy="504.57" r="1.3" fill="#fff" stroke="#ff0000" stroke-width="1.1"/>
<circle cx="294.86" cy="504.45" r="1.3" fill="#fff" stroke="#ff0000" stroke-width="1.1"/>
<circle cx="295.32" cy="504.35" r="1.3" fill="#fff" stroke="#ff0000" stroke-width="1.1"/>
<circle cx="295.47" cy="504.32" r="1.3" fill="#fff" stroke="#ff0000" stroke-width="1.1"/>
<circle cx="295.47" cy="504.32" r="1.3" fill="#fff" stroke="#ff0000" stroke-width="1.1"/>
<circle cx="295.94" cy="514.75" r="1.3" fill="#fff" stroke="#ff0000" stroke-width="1.1"/>
<circle cx="296.41" cy="524.45" r="1.3" fill="#fff" stroke="#ff0000" stroke-width="1.1"/>
<circle cx="296.88" cy="533.47" r="1.3" fill="#fff" stroke="#ff0000" stroke-width="1.1"/>
<circle cx="297.35" cy="541.85" r="1.3" fill="#fff" stroke="#ff0000" stroke-width="1.1"/>
<circle cx="297.82" cy="549.64" r="1.3" fill="#fff" stroke="#ff0000" stroke-width="1.1"/>
<circle cx="298.29" cy="556.88" r="1.3" fill="#fff" stroke="#ff0000" stroke-width="1.1"/>
<circle cx="298.76" cy="563.61" r="1.3" fill="#fff" stroke="#ff0000" stroke-width="1.1"/>
<circle cx="299.23" cy="569.87" r="1.3" fill="#fff" stroke="#ff0000" stroke-width="1.1"/>
<circle cx="299.70" cy="575.68" r="1.3" fill="#fff" stroke="#ff0000" stroke-width="1.1"/>
<circle cx="300.17" cy="581.09" r="1.3" fill="#fff" stroke="#ff0000" stroke-width="1.1"/>
<circle cx="300.64" cy="586.11" r="1.3" fill="#fff" stroke="#ff0000" stroke-width="1.1"/>
<circle cx="301.10" cy="590.78" r="1.3" fill="#fff" stroke="#ff0000" stroke-width="1.1"/>
<circle cx="301.57" cy="595.12" r="1.3" fill="#fff" stroke="#ff0000" stroke-width="1.1"/>
<circle cx="302.04" cy="599.16" r="1.3" fill="#fff" stroke="#ff0000" stroke-width="1.1"/>
<circle cx="302.51" cy="602.91" r="1.3" fill="#fff" stroke="#ff0000" stroke-width="1.1"/>
<circle cx="302.98" cy="606.40" r="1.3" fill="#fff" stroke="#ff0000" stroke-width="1.1"/>
<circle cx="303.45" cy="609.64" r="1.3" fill="#fff" stroke="#ff0000" stroke-width="1.1"/>
<circle cx="303.92" cy="612.65" r="1.3" fill="#fff" stroke="#ff0000" stroke-width="1.1"/>
<circle cx="304.39" cy="615.45" r="1.3" fill="#fff" stroke="#ff0000" stroke-width="1.1"/>
<circle cx="304.86" cy="618.05" r="1.3" fill="#fff" stroke="#ff0000" stroke-width="1.1"/>
<circle cx="305.33" cy="620.47" r="1.3" fill="#fff" stroke="#ff0000" stroke-width="1.1"/>
<circle cx="305.80" cy="622.72" r="1.3" fill="#fff" stroke="#ff0000" stroke-width="1.1"/>
<circle cx="306.27" cy="624.81" r="1.3" fill="#fff" stroke="#ff0000" stroke-width="1.1"/>
<circle cx="306.74" cy="626.75" r="1.3" fill="#fff" stroke="#ff0000" stroke-width="1.1"/>
<circle cx="307.21" cy="628.56" r="1.3" fill="#fff" stroke="#ff0000" stroke-width="1.1"/>
<circle cx="307.67" cy="630.24" r="1.3" fill="#fff" stroke="#ff0000" stroke-width="1.1"/>
<circle cx="308.14" cy="631.80" r="1.3" fill="#fff" stroke="#ff0000" stroke-width="1.1"/>
<circle cx="308.61" cy="633.25" r="1.3" fill="#fff" stroke="#ff0000" stroke-width="1.1"/>
<circle cx="309.08" cy="634.60" r="1.3" fill="#fff" stroke="#ff0000" stroke-width="1.1"/>
<circle cx="309.55" cy="635.85" r="1.3" fill="#fff" stroke="#ff0000" stroke-width="1.1"/>
<circle cx="310.02" cy="637.02" r="1.3" fill="#fff" stroke="#ff0000" stroke-width="1.1"/>
<circle cx="310.49" cy="638.10" r="1.3" fill="#fff" stroke="#ff0000" stroke-width="1.1"/>
<circle cx="310.96" cy="639.11" r="1.3" fill="#fff" stroke="#ff0000" stroke-width="1.1"/>
<circle cx="311.43" cy="640.04" r="1.3" fill="#fff" stroke="#ff0000" stroke-width="1.1"/>
<circle cx="311.90" cy="640.91" r="1.3" fill="#fff" stroke="#ff0000" stroke-width="1.1"/>
<circle cx="312.37" cy="641.72" r="1.3" fill="#fff" stroke="#ff0000" stroke-width="1.1"/>
<circle cx="312.84" cy="642.47" r="1.3" fill="#fff" stroke="#ff0000" stroke-width="1.1"/>
<circle cx="313.31" cy="643.17" r="1.3" fill="#fff" stroke="#ff0000" stroke-width="1.1"/>
<circle cx="313.78" cy="643.82" r="1.3" fill="#fff" stroke="#ff0000" stroke-width="1.1"/>
<circle cx="314.25" cy="644.42" r="1.3" fill="#fff" stroke="#ff0000" stroke-width="1.1"/>
<circle cx="314.71" cy="644.99" r="1.3" fill="#fff" stroke="#ff0000" stroke-width="1.1"/>
<circle cx="315.18" cy="645.51" r="1.3" fill="#fff" stroke="#ff0000" stroke-width="1.1"/>
<circle cx="315.65" cy="645.99" r="1.3" fill="#fff" stroke="#ff0000" stroke-width="1.1"/>
<circle cx="316.12" cy="646.44" r="1.3" fill="#fff" stroke="#ff0000" stroke-width="1.1"/>
<circle cx="316.59" cy="646.86" r="1.3" fill="#fff" stroke="#ff0000" stroke-width="1.1"/>
<circle cx="317.06" cy="647.25" r="1.3" fill="#fff" stroke="#ff0000" stroke-width="1.1"/>
<circle cx="317.53" cy="647.61" r="1.3" fill="#fff" stroke="#ff0000" stroke-width="1.1"/>
<circle cx="318.00" cy="647.95" r="1.3" fill="#fff" stroke="#ff0000" stroke-width="1.1"/>
<circle cx="318.47" cy="648.26" r="1.3" fill="#fff" stroke="#ff0000" stroke-width="1.1"/>
<circle cx="318.94" cy="648.55" r="1.3" fill="#fff" stroke="#ff0000" stroke-width="1.1"/>
<circle cx="319.41" cy="648.82" r="1.3" fill="#fff" stroke="#ff0000" stroke-width="1.1"/>
<circle cx="319.88" cy="649.07" r="1.3" fill="#fff" stroke="#ff0000" stroke-width="1.1"/>
<circle cx="320.35" cy="649.31" r="1.3" fill="#fff" stroke="#ff0000" stroke-width="1.1"/>
<circle cx="320.82" cy="649.52" r="1.3" fill="#fff" stroke="#ff0000" stroke-width="1.1"/>
<circle cx="321.01" cy="649.61" r="1.3" fill="#fff" stroke="#ff0000" stroke-width="1.1"/>
<rect x="49.30" y="487.30" width="277.60" height="187.00" fill="none" stroke="#000" stroke-width="1.5"/>
<line x1="45.30" y1="673.80" x2="49.30" y2="673.80" stroke="#000" stroke-width="1.3"/>
<line x1="45.30" y1="648.90" x2="49.30" y2="648.90" stroke="#000" stroke-width="1.3"/>
<line x1="45.30" y1="624.00" x2="49.30" y2="624.00" stroke="#000" stroke-width="1.3"/>
<line x1="45.30" y1="599.10" x2="49.30" y2="599.10" stroke="#000" stroke-width="1.3"/>
<line x1="45.30" y1="574.20" x2="49.30" y2="574.20" stroke="#000" stroke-width="1.3"/>
<line x1="45.30" y1="549.30" x2="49.30" y2="549.30" stroke="#000" stroke-width="1.3"/>
<line x1="45.30" y1="524.40" x2="49.30" y2="524.40" stroke="#000" stroke-width="1.3"/>
<line x1="45.30" y1="499.50" x2="49.30" y2="499.50" stroke="#000" stroke-width="1.3"/>
<line x1="47.30" y1="661.35" x2="49.30" y2="661.35" stroke="#000" stroke-width="1.3"/>
<line x1="47.30" y1="636.45" x2="49.30" y2="636.45" stroke="#000" stroke-width="1.3"/>
<line x1="47.30" y1="611.55" x2="49.30" y2="611.55" stroke="#000" stroke-width="1.3"/>
<line x1="47.30" y1="586.65" x2="49.30" y2="586.65" stroke="#000" stroke-width="1.3"/>
<line x1="47.30" y1="561.75" x2="49.30" y2="561.75" stroke="#000" stroke-width="1.3"/>
<line x1="47.30" y1="536.85" x2="49.30" y2="536.85" stroke="#000" stroke-width="1.3"/>
<line x1="47.30" y1="511.95" x2="49.30" y2="511.95" stroke="#000" stroke-width="1.3"/>
<text transform="translate(43.00,677.40) scale(1.1,1)" font-size="10" text-anchor="end" fill="#000">0</text>
<text transform="translate(43.00,652.50) scale(1.1,1)" font-size="10" text-anchor="end" fill="#000">5</text>
<text transform="translate(43.00,627.60) scale(1.1,1)" font-size="10" text-anchor="end" fill="#000">10</text>
<text transform="translate(43.00,602.70) scale(1.1,1)" font-size="10" text-anchor="end" fill="#000">15</text>
<text transform="translate(43.00,577.80) scale(1.1,1)" font-size="10" text-anchor="end" fill="#000">20</text>
<text transform="translate(43.00,552.90) scale(1.1,1)" font-size="10" text-anchor="end" fill="#000">25</text>
<text transform="translate(43.00,528.00) scale(1.1,1)" font-size="10" text-anchor="end" fill="#000">30</text>
<text transform="translate(43.00,503.10) scale(1.1,1)" font-size="10" text-anchor="end" fill="#000">35</text>
<line x1="54.50" y1="674.30" x2="54.50" y2="678.30" stroke="#000" stroke-width="1.3"/>
<line x1="103.90" y1="674.30" x2="103.90" y2="678.30" stroke="#000" stroke-width="1.3"/>
<line x1="153.30" y1="674.30" x2="153.30" y2="678.30" stroke="#000" stroke-width="1.3"/>
<line x1="202.70" y1="674.30" x2="202.70" y2="678.30" stroke="#000" stroke-width="1.3"/>
<line x1="252.10" y1="674.30" x2="252.10" y2="678.30" stroke="#000" stroke-width="1.3"/>
<line x1="301.50" y1="674.30" x2="301.50" y2="678.30" stroke="#000" stroke-width="1.3"/>
<line x1="79.20" y1="674.30" x2="79.20" y2="676.30" stroke="#000" stroke-width="1.3"/>
<line x1="128.60" y1="674.30" x2="128.60" y2="676.30" stroke="#000" stroke-width="1.3"/>
<line x1="178.00" y1="674.30" x2="178.00" y2="676.30" stroke="#000" stroke-width="1.3"/>
<line x1="227.40" y1="674.30" x2="227.40" y2="676.30" stroke="#000" stroke-width="1.3"/>
<line x1="276.80" y1="674.30" x2="276.80" y2="676.30" stroke="#000" stroke-width="1.3"/>
<line x1="326.20" y1="674.30" x2="326.20" y2="676.30" stroke="#000" stroke-width="1.3"/>
<text transform="translate(54.50,689.50) scale(1.1,1)" font-size="10" text-anchor="middle" fill="#000">0</text>
<text transform="translate(103.90,689.50) scale(1.1,1)" font-size="10" text-anchor="middle" fill="#000">100</text>
<text transform="translate(153.30,689.50) scale(1.1,1)" font-size="10" text-anchor="middle" fill="#000">200</text>
<text transform="translate(202.70,689.50) scale(1.1,1)" font-size="10" text-anchor="middle" fill="#000">300</text>
<text transform="translate(252.10,689.50) scale(1.1,1)" font-size="10" text-anchor="middle" fill="#000">400</text>
<text transform="translate(301.50,689.50) scale(1.1,1)" font-size="10" text-anchor="middle" fill="#000">500</text>
<text transform="translate(188.40,709.10) scale(1.06,1)" font-size="12.4" text-anchor="middle" fill="#000">Time(min)</text>
<path d="M21.42,609.42 L21.42,600.38 L12.77,604.90 Z" fill="none" stroke="#000" stroke-width="0.95" stroke-linejoin="miter"/>
<text transform="translate(21.90,598.40) rotate(-90)" font-size="12.8" text-anchor="start" fill="#000">T(°C)</text>
<text transform="translate(10.00,508.70)" font-size="35.5" text-anchor="start" fill="#000">e</text>
<rect x="394.70" y="549.40" width="17.6" height="131.00" fill="#ff0000" stroke="#111" stroke-width="0.8"/>
<rect x="429.70" y="546.70" width="17.6" height="133.70" fill="#007000" stroke="#111" stroke-width="0.8"/>
<rect x="464.70" y="532.00" width="17.6" height="148.40" fill="#007000" stroke="#111" stroke-width="0.8"/>
<rect x="499.70" y="518.30" width="17.6" height="162.10" fill="#007000" stroke="#111" stroke-width="0.8"/>
<rect x="534.70" y="523.00" width="17.6" height="157.40" fill="#007000" stroke="#111" stroke-width="0.8"/>
<rect x="569.70" y="518.30" width="17.6" height="162.10" fill="#007000" stroke="#111" stroke-width="0.8"/>
<rect x="604.70" y="513.00" width="17.6" height="167.40" fill="#0000ff" stroke="#111" stroke-width="0.8"/>
<rect x="386.00" y="491.60" width="245.50" height="188.80" fill="none" stroke="#000" stroke-width="1.5"/>
<line x1="382.00" y1="680.40" x2="386.00" y2="680.40" stroke="#000" stroke-width="1.3"/>
<line x1="382.00" y1="630.10" x2="386.00" y2="630.10" stroke="#000" stroke-width="1.3"/>
<line x1="382.00" y1="579.80" x2="386.00" y2="579.80" stroke="#000" stroke-width="1.3"/>
<line x1="382.00" y1="529.50" x2="386.00" y2="529.50" stroke="#000" stroke-width="1.3"/>
<line x1="384.00" y1="655.25" x2="386.00" y2="655.25" stroke="#000" stroke-width="1.3"/>
<line x1="384.00" y1="604.95" x2="386.00" y2="604.95" stroke="#000" stroke-width="1.3"/>
<line x1="384.00" y1="554.65" x2="386.00" y2="554.65" stroke="#000" stroke-width="1.3"/>
<line x1="384.00" y1="504.35" x2="386.00" y2="504.35" stroke="#000" stroke-width="1.3"/>
<text transform="translate(381.00,684.20)" font-size="10.6" text-anchor="end" fill="#000">0</text>
<text transform="translate(381.00,633.90)" font-size="10.6" text-anchor="end" fill="#000">4</text>
<text transform="translate(381.00,583.60)" font-size="10.6" text-anchor="end" fill="#000">8</text>
<text transform="translate(381.00,533.30)" font-size="10.6" text-anchor="end" fill="#000">12</text>
<line x1="403.50" y1="680.40" x2="403.50" y2="684.40" stroke="#000" stroke-width="1.3"/>
<line x1="438.50" y1="680.40" x2="438.50" y2="684.40" stroke="#000" stroke-width="1.3"/>
<line x1="473.50" y1="680.40" x2="473.50" y2="684.40" stroke="#000" stroke-width="1.3"/>
<line x1="508.50" y1="680.40" x2="508.50" y2="684.40" stroke="#000" stroke-width="1.3"/>
<line x1="543.50" y1="680.40" x2="543.50" y2="684.40" stroke="#000" stroke-width="1.3"/>
<line x1="578.50" y1="680.40" x2="578.50" y2="684.40" stroke="#000" stroke-width="1.3"/>
<line x1="613.50" y1="680.40" x2="613.50" y2="684.40" stroke="#000" stroke-width="1.3"/>
<line x1="421.00" y1="680.40" x2="421.00" y2="682.40" stroke="#000" stroke-width="1.3"/>
<line x1="456.00" y1="680.40" x2="456.00" y2="682.40" stroke="#000" stroke-width="1.3"/>
<line x1="491.00" y1="680.40" x2="491.00" y2="682.40" stroke="#000" stroke-width="1.3"/>
<line x1="526.00" y1="680.40" x2="526.00" y2="682.40" stroke="#000" stroke-width="1.3"/>
<line x1="561.00" y1="680.40" x2="561.00" y2="682.40" stroke="#000" stroke-width="1.3"/>
<line x1="596.00" y1="680.40" x2="596.00" y2="682.40" stroke="#000" stroke-width="1.3"/>
<text transform="translate(403.50,695.00)" font-size="9" text-anchor="middle" fill="#000">0:10</text>
<text transform="translate(438.50,695.00)" font-size="9" text-anchor="middle" fill="#000">1:9</text>
<text transform="translate(473.50,695.00)" font-size="9" text-anchor="middle" fill="#000">3:7</text>
<text transform="translate(508.50,695.00)" font-size="9" text-anchor="middle" fill="#000">5:5</text>
<text transform="translate(543.50,695.00)" font-size="9" text-anchor="middle" fill="#000">7:3</text>
<text transform="translate(578.50,695.00)" font-size="9" text-anchor="middle" fill="#000">9:1</text>
<text transform="translate(613.50,695.00)" font-size="9" text-anchor="middle" fill="#000">10:0</text>
<text transform="translate(511.00,705.50)" font-size="10.7" text-anchor="middle" fill="#000">Mass ratio</text>
<path d="M357.55,604.15 L357.55,597.25 L351.25,600.7 Z" fill="none" stroke="#000" stroke-width="0.9"/>
<text transform="translate(357.20,594.60) rotate(-90)" font-size="10.8" text-anchor="start" fill="#000">T<tspan font-size="7.0" dy="3">max</tspan><tspan dy="-3">(°C)</tspan></text>
<text transform="translate(404.50,543.50)" font-size="10" text-anchor="middle" fill="#ff0000" font-weight="bold">10.9°C</text>
<text transform="translate(613.50,508.00)" font-size="10" text-anchor="middle" fill="#ff0000" font-weight="bold">14.3°C</text>
<text transform="translate(404.00,563.60)" font-size="8.2" text-anchor="middle" fill="#fff" font-weight="bold">Ag<tspan font-size="0.65em">2</tspan><tspan>S</tspan></text>
<text transform="translate(614.00,529.70)" font-size="9" text-anchor="middle" fill="#fff" font-weight="bold">Ag</text>
<text transform="translate(349.30,514.30)" font-size="35.5" text-anchor="start" fill="#000">f</text>
</svg></body></html>
